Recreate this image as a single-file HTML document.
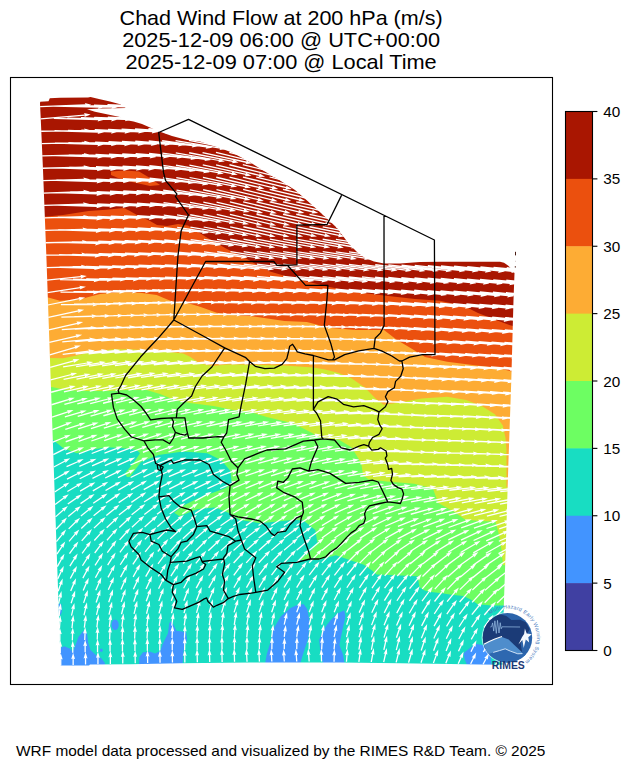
<!DOCTYPE html>
<html><head><meta charset="utf-8"><title>Chad Wind Flow at 200 hPa</title>
<style>html,body{margin:0;padding:0;background:#fff;}svg{display:block;}text{font-family:"Liberation Sans",sans-serif;}</style></head>
<body>
<svg width="629" height="769" viewBox="0 0 629 769" font-family="Liberation Sans, sans-serif" fill="#000">
<rect width="629" height="769" fill="#fff"/>
<defs><mask id="dom" maskUnits="userSpaceOnUse" x="0" y="0" width="629" height="769"><polygon points="40.0,103.5 40.2,101.8 48.5,101.2 49.8,98.2 60.0,97.7 88.0,97.4 90.5,97.0 100.0,99.2 110.0,101.6 121.0,104.4 126.0,107.9 115.0,108.3 100.0,108.6 87.0,109.2 95.0,111.8 108.0,114.6 122.2,117.6 114.0,118.7 124.0,119.8 133.6,121.4 142.0,124.0 150.0,127.4 158.0,131.0 172.0,136.0 187.0,140.0 200.0,141.5 217.0,147.0 232.0,152.5 248.0,161.0 264.0,171.0 280.0,180.5 295.0,190.0 311.0,204.0 327.0,218.5 337.0,228.0 343.0,236.0 349.0,244.0 357.0,252.0 365.0,258.0 374.0,261.5 384.0,263.5 400.0,263.5 420.0,262.0 440.0,261.7 470.0,261.8 500.0,261.7 504.0,262.8 508.0,265.5 512.0,269.5 514.5,273.0 513.5,300.0 511.3,380.0 508.5,460.0 506.0,540.0 504.0,600.0 502.7,650.0 502.5,664.8 480.0,664.6 450.0,664.1 400.0,663.3 340.0,662.6 250.0,662.6 180.0,663.2 130.0,664.2 90.0,664.4 89.0,665.4 60.7,665.4 57.0,560.0 53.5,460.0 50.0,360.0 46.5,260.0 43.0,170.0 40.8,120.0" fill="#fff"/></mask></defs>
<g mask="url(#dom)">
<rect x="0" y="0" width="629" height="769" fill="#18DDC2"/>
<polygon points="58.5,603.5 61.3,604.0 61.8,612.0 60.5,615.0 58.5,615.0" fill="#4294FF"/>
<polygon points="58.0,648.7 64.3,646.3 70.3,648.7 72.7,652.2 75.0,646.3 78.6,636.7 83.4,630.8 87.0,633.2 88.2,642.7 90.5,649.9 95.3,654.6 101.3,658.2 104.9,663.0 105.0,668.0 58.0,668.0" fill="#4294FF"/>
<polygon points="170.4,621.2 173.0,624.0 176.4,630.8 186.0,632.0 187.1,639.1 183.6,649.9 182.4,668.0 138.7,668.0 139.4,657.0 143.0,652.2 150.2,651.8 155.0,653.4 160.2,651.0 163.3,642.7 168.0,633.2 169.2,623.6" fill="#4294FF"/>
<polygon points="303.7,604.3 307.2,609.0 309.6,621.0 308.4,637.7 303.7,652.0 298.9,668.0 264.3,668.0 266.7,654.4 270.3,642.5 273.8,628.2 281.0,616.2 290.5,607.9 297.7,604.8" fill="#4294FF"/>
<polygon points="344.2,610.3 345.4,616.2 341.8,632.9 339.4,644.9 343.0,654.4 345.4,668.0 323.9,668.0 320.4,652.0 319.2,640.1 322.7,630.5 329.9,621.0 337.0,613.8" fill="#4294FF"/>
<polygon points="475.4,643.7 482.6,644.9 490.0,650.0 492.0,668.0 468.2,668.0 464.7,659.2 463.5,653.2 469.4,648.4" fill="#4294FF"/>
<ellipse cx="115.1" cy="624.8" rx="3.6" ry="5.2" fill="#4294FF"/>
<ellipse cx="101.3" cy="650.3" rx="1.4" ry="1.8" fill="#4294FF"/>
<polygon points="20.0,0.0 20.0,440.0 53.3,440.0 63.3,448.3 76.7,453.3 90.0,450.0 106.7,447.3 123.3,448.3 136.7,450.0 140.0,453.3 133.3,463.3 125.0,473.3 127.0,477.0 130.0,476.7 141.0,462.0 158.5,455.0 183.0,451.5 207.4,453.2 221.4,460.2 230.2,470.7 231.9,483.0 225.0,488.2 211.0,493.5 197.0,498.7 183.0,505.7 174.2,512.7 179.5,516.2 197.0,509.2 214.4,507.4 228.4,512.7 238.9,519.7 259.9,523.2 277.4,521.4 294.9,519.7 303.8,520.7 315.3,530.0 317.6,543.8 308.4,553.0 299.2,559.9 317.6,559.9 336.0,555.3 349.5,560.0 363.8,564.8 372.0,570.5 376.6,574.6 400.4,575.4 417.5,576.2 419.5,587.0 424.0,590.3 429.0,591.8 442.0,593.3 451.5,594.8 463.5,596.0 470.6,599.5 477.8,604.3 492.1,605.5 504.0,605.5 530.0,606.0 530.0,0.0" fill="#6DFE62"/>
<polygon points="20.0,0.0 20.0,387.0 51.7,387.0 66.7,390.0 86.7,391.0 106.7,391.0 126.7,390.0 146.7,390.0 160.0,394.0 173.3,399.5 190.0,403.0 213.3,406.0 233.3,410.0 249.7,411.7 266.7,417.0 293.4,423.6 311.2,432.5 322.0,439.0 339.0,439.7 351.8,447.6 361.3,463.5 363.0,475.0 368.3,479.2 386.8,481.5 414.4,483.8 432.9,488.4 438.2,502.9 455.3,512.4 464.9,519.5 480.0,521.0 495.4,521.5 499.2,535.3 501.5,550.0 503.0,565.0 530.0,566.0 530.0,0.0" fill="#CDEC34"/>
<polygon points="20.0,0.0 20.0,358.0 50.0,358.0 63.3,358.3 76.7,355.5 93.3,351.5 113.3,349.3 133.3,349.5 150.0,350.5 166.7,351.7 183.3,353.5 190.0,356.7 200.0,363.5 213.0,366.0 226.7,364.5 240.0,364.5 260.0,365.0 284.5,365.5 313.5,367.5 325.0,369.5 339.0,373.0 351.8,378.5 364.5,387.2 375.6,398.4 383.6,404.7 399.5,402.5 421.7,398.4 447.2,396.8 466.3,400.0 482.2,406.3 494.9,414.3 502.8,425.4 505.5,438.0 506.5,450.0 506.5,487.0 530.0,487.0 530.0,0.0" fill="#FDAC34"/>
<polygon points="20.0,0.0 20.0,297.0 47.3,297.3 60.0,300.7 80.0,299.3 100.0,294.0 120.0,292.0 140.0,292.7 156.7,295.0 166.7,299.3 173.3,301.7 186.7,302.7 200.0,306.7 216.7,312.7 233.3,315.0 250.0,316.0 284.5,321.0 306.8,322.0 329.0,327.8 355.8,330.0 384.0,330.0 396.3,339.5 412.2,349.0 425.0,357.0 447.2,361.8 472.6,365.0 498.0,368.0 511.0,371.3 530.0,372.0 530.0,0.0" fill="#EB500E"/>
<polygon points="20.0,0.0 20.0,217.0 44.0,216.7 63.0,215.0 88.5,211.0 106.0,209.8 124.0,208.0 129.0,210.6 137.0,215.0 150.0,221.0 157.0,225.0 167.0,226.0 178.0,224.0 188.0,225.6 206.0,237.0 226.0,248.5 247.0,259.0 259.0,266.0 270.0,271.4 287.0,276.5 300.0,279.7 328.0,286.7 356.0,292.0 384.0,295.5 415.0,299.0 440.0,300.7 464.0,306.0 478.0,313.0 496.0,320.0 510.0,325.2 530.0,330.0 530.0,0.0" fill="#A91601"/>
<polygon points="111.0,171.5 125.0,170.5 139.0,171.5 150.0,178.0 160.0,185.0 150.0,186.0 132.0,182.0 118.0,178.0 111.0,175.0" fill="#EB500E"/>
</g>
<path d="M515.5,251.8V255.8M515.3,266.2V267.6" stroke="#4a1c14" stroke-width="1" fill="none"/>
<path d="M515.5,257.8V258.6M515.5,260.8V261.6" stroke="#b9a5a2" stroke-width="0.8" fill="none"/>
<defs><clipPath id="ax"><rect x="10.5" y="77.5" width="542" height="607"/></clipPath></defs>
<path clip-path="url(#ax)" fill="#fff" d="M60.1,665.4L60.1,658.9L58.8,659.5L60.7,653.0L62.7,659.5L61.4,658.9L61.4,665.4ZM72.5,665.0L72.5,658.6L71.2,659.3L73.1,652.8L75.1,659.3L73.8,658.6L73.8,665.0ZM84.9,664.6L84.9,657.9L83.6,658.6L85.5,652.1L87.5,658.6L86.2,657.9L86.2,664.6ZM97.3,664.3L97.3,657.3L96.0,657.9L97.9,651.4L99.9,657.9L98.6,657.3L98.6,664.3ZM109.7,663.9L109.7,656.8L108.4,657.5L110.4,651.0L112.3,657.5L111.0,656.8L111.0,663.9ZM122.1,663.6L122.1,656.5L120.8,657.1L122.8,650.6L124.7,657.1L123.4,656.5L123.4,663.6ZM134.6,663.3L134.5,656.3L133.2,656.9L135.2,650.4L137.1,656.9L135.8,656.2L135.9,663.3ZM147.0,663.0L146.9,656.1L145.6,656.8L147.5,650.3L149.5,656.7L148.2,656.1L148.3,663.0ZM159.4,662.8L159.3,656.3L158.0,657.0L159.9,650.5L161.9,656.9L160.6,656.3L160.7,662.8ZM171.8,662.6L171.7,656.0L170.4,656.6L172.3,650.1L174.3,656.6L173.0,656.0L173.1,662.6ZM184.2,662.4L184.1,655.3L182.8,656.0L184.7,649.5L186.7,655.9L185.4,655.3L185.5,662.4ZM196.7,662.2L196.5,655.0L195.2,655.7L197.0,649.1L199.1,655.6L197.8,654.9L198.0,662.2ZM209.1,662.0L208.9,654.7L207.6,655.4L209.4,648.8L211.5,655.3L210.2,654.7L210.4,662.0ZM221.5,661.9L221.3,654.5L220.0,655.2L221.7,648.6L223.9,655.1L222.6,654.5L222.8,661.9ZM233.9,661.8L233.7,654.4L232.4,655.1L234.1,648.5L236.3,655.0L235.0,654.4L235.2,661.8ZM246.4,661.7L246.0,654.4L244.8,655.1L246.4,648.6L248.7,655.0L247.3,654.4L247.7,661.7ZM258.8,661.7L258.4,654.6L257.2,655.3L258.8,648.7L261.1,655.1L259.7,654.5L260.1,661.6ZM271.2,661.6L270.8,654.8L269.6,655.6L271.1,649.0L273.5,655.3L272.1,654.8L272.5,661.5ZM283.7,661.6L283.2,655.1L282.0,655.8L283.5,649.2L285.9,655.6L284.5,655.0L284.9,661.5ZM296.1,661.6L295.6,654.7L294.3,655.5L295.8,648.9L298.2,655.2L296.9,654.7L297.4,661.5ZM308.5,661.6L308.0,654.6L306.7,655.3L308.2,648.7L310.6,655.0L309.3,654.5L309.8,661.5ZM320.9,661.6L320.7,654.6L319.5,655.3L321.2,648.7L323.4,655.2L322.0,654.6L322.2,661.6ZM333.4,661.7L333.6,654.8L332.2,655.4L334.4,649.0L336.1,655.6L334.9,654.9L334.7,661.7ZM345.8,661.7L346.4,654.7L345.0,655.2L347.5,648.9L348.9,655.5L347.7,654.8L347.1,661.8ZM358.2,661.8L359.3,654.1L357.9,654.6L360.7,648.4L361.8,655.1L360.6,654.3L359.5,662.0ZM370.6,661.9L372.1,653.8L370.7,654.2L373.8,648.1L374.5,654.9L373.4,654.0L371.9,662.1ZM383.1,662.1L384.9,653.6L383.5,653.9L386.8,648.0L387.3,654.8L386.2,653.9L384.3,662.3ZM395.5,662.2L397.7,653.6L396.3,653.9L399.7,648.1L400.0,654.9L398.9,653.9L396.8,662.5ZM407.9,662.4L410.4,653.8L409.0,654.1L412.7,648.4L412.7,655.2L411.7,654.2L409.2,662.8ZM420.4,662.6L423.1,654.3L421.7,654.5L425.5,648.9L425.4,655.7L424.3,654.7L421.6,663.0ZM432.8,662.8L435.7,654.9L434.3,655.1L438.3,649.6L437.9,656.4L436.9,655.3L434.0,663.3ZM445.2,663.1L448.2,655.6L446.8,655.7L451.0,650.4L450.4,657.2L449.4,656.1L446.4,663.6ZM457.6,663.4L460.6,656.7L459.2,656.7L463.6,651.6L462.7,658.3L461.8,657.2L458.8,663.9ZM470.1,663.6L473.1,657.5L471.6,657.5L476.2,652.5L475.1,659.2L474.2,658.1L471.2,664.2ZM482.5,664.0L485.7,657.9L484.2,657.9L489.0,653.1L487.7,659.7L486.8,658.6L483.7,664.6ZM494.9,664.3L498.4,658.2L497.0,658.1L501.9,653.4L500.4,660.0L499.6,658.8L496.1,665.0ZM59.6,653.1L59.6,646.3L58.3,647.0L60.3,640.5L62.2,647.0L60.9,646.3L60.9,653.1ZM72.1,652.7L72.1,646.6L70.8,647.2L72.7,640.7L74.7,647.2L73.4,646.6L73.4,652.7ZM84.5,652.3L84.5,645.5L83.2,646.2L85.2,639.7L87.1,646.2L85.8,645.5L85.8,652.3ZM96.9,651.9L96.9,644.9L95.6,645.5L97.6,639.0L99.5,645.5L98.2,644.9L98.2,651.9ZM109.4,651.6L109.4,644.5L108.1,645.1L110.0,638.6L112.0,645.1L110.7,644.5L110.7,651.6ZM121.8,651.3L121.8,644.1L120.5,644.8L122.5,638.3L124.4,644.8L123.1,644.1L123.1,651.3ZM134.3,651.0L134.3,643.9L133.0,644.5L134.9,638.0L136.9,644.5L135.6,643.9L135.6,651.0ZM146.7,650.7L146.7,643.7L145.4,644.3L147.4,637.8L149.3,644.3L148.0,643.7L148.0,650.7ZM159.1,650.5L159.2,643.5L157.9,644.1L159.9,637.6L161.8,644.1L160.5,643.5L160.4,650.5ZM171.6,650.2L171.6,643.5L170.3,644.2L172.3,637.7L174.2,644.2L172.9,643.6L172.9,650.3ZM184.0,650.0L184.1,643.0L182.8,643.6L184.7,637.1L186.7,643.6L185.4,643.0L185.3,650.0ZM196.5,649.9L196.5,642.6L195.2,643.3L197.1,636.8L199.1,643.3L197.8,642.6L197.8,649.9ZM208.9,649.7L208.9,642.3L207.6,643.0L209.5,636.5L211.5,643.0L210.2,642.3L210.2,649.7ZM221.4,649.6L221.3,642.1L220.0,642.8L221.9,636.3L223.9,642.8L222.6,642.1L222.7,649.6ZM233.8,649.5L233.8,642.0L232.5,642.7L234.5,636.2L236.4,642.7L235.1,642.0L235.1,649.5ZM246.3,649.4L246.3,642.0L245.0,642.7L247.0,636.2L248.9,642.7L247.6,642.0L247.6,649.4ZM258.7,649.3L258.8,642.1L257.5,642.8L259.5,636.3L261.4,642.8L260.1,642.2L260.0,649.3ZM271.2,649.3L271.3,642.5L270.0,643.1L272.0,636.7L273.9,643.2L272.6,642.5L272.5,649.3ZM283.6,649.2L283.7,643.4L282.4,644.0L284.5,637.6L286.3,644.1L285.0,643.4L284.9,649.3ZM296.1,649.2L296.2,642.6L294.9,643.2L297.0,636.7L298.8,643.3L297.5,642.6L297.4,649.3ZM308.5,649.3L308.7,642.2L307.4,642.8L309.6,636.4L311.3,642.9L310.0,642.2L309.8,649.3ZM321.0,649.3L321.4,642.3L320.1,642.9L322.4,636.5L324.0,643.2L322.7,642.4L322.3,649.4ZM333.4,649.3L334.0,643.1L332.7,643.6L335.2,637.4L336.5,644.0L335.3,643.3L334.7,649.5ZM345.9,649.4L346.8,642.2L345.4,642.7L348.2,636.5L349.3,643.2L348.1,642.4L347.1,649.6ZM358.3,649.5L359.6,641.8L358.2,642.2L361.2,636.1L362.1,642.8L360.9,642.0L359.6,649.7ZM370.8,649.6L372.4,641.4L371.0,641.8L374.2,635.8L374.8,642.5L373.7,641.6L372.0,649.9ZM383.2,649.7L385.1,641.2L383.7,641.6L387.1,635.6L387.5,642.4L386.4,641.5L384.5,650.0ZM395.7,649.9L397.9,641.2L396.4,641.5L399.9,635.7L400.2,642.5L399.1,641.5L396.9,650.2ZM408.1,650.1L410.6,641.4L409.2,641.7L412.9,636.0L412.9,642.7L411.9,641.8L409.4,650.5ZM420.6,650.3L423.3,641.9L421.9,642.1L425.8,636.5L425.6,643.3L424.6,642.3L421.8,650.7ZM433.0,650.5L435.9,642.6L434.5,642.7L438.6,637.3L438.2,644.1L437.2,643.0L434.2,651.0ZM445.5,650.8L448.6,643.1L447.2,643.2L451.4,637.9L450.8,644.7L449.8,643.6L446.7,651.3ZM457.9,651.1L460.9,644.4L459.5,644.4L463.9,639.3L463.0,646.0L462.1,644.9L459.1,651.6ZM470.4,651.4L473.4,645.3L471.9,645.3L476.5,640.3L475.4,647.0L474.5,645.9L471.5,651.9ZM482.8,651.7L486.1,645.7L484.6,645.6L489.4,640.8L488.0,647.5L487.2,646.3L484.0,652.3ZM495.3,652.0L499.0,645.8L497.5,645.7L502.5,641.1L500.9,647.6L500.1,646.4L496.4,652.7ZM59.2,640.8L59.2,633.7L57.9,634.3L59.9,627.8L61.8,634.3L60.5,633.7L60.5,640.8ZM71.7,640.3L71.9,633.3L70.6,633.9L72.8,627.5L74.5,634.0L73.2,633.3L73.0,640.4ZM84.1,639.9L84.4,632.9L83.0,633.5L85.2,627.1L86.9,633.7L85.7,633.0L85.4,640.0ZM96.6,639.6L96.9,632.4L95.5,633.0L97.7,626.6L99.4,633.2L98.1,632.5L97.9,639.6ZM109.0,639.2L109.3,632.0L108.0,632.6L110.2,626.2L111.9,632.7L110.6,632.0L110.3,639.3ZM121.5,638.9L121.8,631.6L120.5,632.2L122.7,625.8L124.4,632.4L123.1,631.7L122.8,639.0ZM134.0,638.6L134.3,631.4L133.0,631.9L135.2,625.5L136.9,632.1L135.6,631.4L135.3,638.7ZM146.4,638.4L146.8,631.2L145.4,631.7L147.7,625.3L149.3,631.9L148.1,631.2L147.7,638.4ZM158.9,638.1L159.2,631.0L157.9,631.6L160.2,625.2L161.8,631.8L160.5,631.1L160.2,638.2ZM171.4,637.9L171.7,630.9L170.4,631.5L172.6,625.1L174.3,631.7L173.0,631.0L172.7,638.0ZM183.8,637.7L184.2,630.6L182.9,631.2L185.1,624.8L186.7,631.4L185.5,630.7L185.1,637.8ZM196.3,637.5L196.7,630.2L195.3,630.8L197.6,624.4L199.2,631.0L198.0,630.3L197.6,637.6ZM208.8,637.3L209.2,629.9L207.8,630.4L210.1,624.1L211.7,630.6L210.5,629.9L210.1,637.4ZM221.2,637.2L221.7,629.6L220.3,630.2L222.6,623.8L224.2,630.4L223.0,629.7L222.5,637.3ZM233.7,637.1L234.2,629.5L232.9,630.1L235.3,623.8L236.8,630.4L235.5,629.6L235.0,637.2ZM246.2,637.0L246.8,629.5L245.5,630.1L248.0,623.8L249.4,630.4L248.1,629.7L247.5,637.1ZM258.6,636.9L259.4,629.7L258.0,630.2L260.6,623.9L261.9,630.6L260.7,629.8L259.9,637.1ZM271.1,636.9L271.9,630.0L270.6,630.5L273.3,624.2L274.4,630.9L273.2,630.1L272.4,637.0ZM283.6,636.8L284.4,630.8L283.0,631.2L285.8,625.0L286.9,631.7L285.7,630.9L284.9,637.0ZM296.1,636.8L297.0,630.3L295.7,630.7L298.6,624.6L299.5,631.3L298.3,630.4L297.3,637.0ZM308.5,636.8L309.7,629.9L308.3,630.3L311.3,624.2L312.1,631.0L311.0,630.1L309.8,637.1ZM321.0,636.9L322.3,630.0L320.9,630.4L324.0,624.4L324.7,631.1L323.6,630.2L322.3,637.1ZM333.5,636.9L334.9,630.2L333.5,630.5L336.7,624.6L337.3,631.3L336.1,630.4L334.7,637.2ZM345.9,637.0L347.6,629.9L346.2,630.2L349.5,624.3L350.0,631.1L348.8,630.2L347.2,637.3ZM358.4,637.1L360.4,629.4L358.9,629.7L362.4,623.8L362.7,630.6L361.6,629.7L359.7,637.4ZM370.9,637.2L373.2,629.0L371.8,629.2L375.4,623.5L375.5,630.3L374.4,629.3L372.1,637.6ZM383.4,637.4L386.0,628.8L384.6,629.0L388.3,623.4L388.3,630.2L387.2,629.2L384.6,637.8ZM395.8,637.6L398.7,628.8L397.3,629.0L401.2,623.5L401.0,630.3L400.0,629.3L397.1,638.0ZM408.3,637.7L411.6,628.9L410.1,629.1L414.2,623.7L413.8,630.4L412.8,629.4L409.5,638.2ZM420.8,638.0L424.4,629.2L422.9,629.3L427.2,624.0L426.5,630.8L425.6,629.7L422.0,638.4ZM433.3,638.2L437.1,629.7L435.6,629.7L440.1,624.6L439.2,631.3L438.3,630.2L434.4,638.7ZM445.7,638.4L449.7,630.3L448.3,630.3L452.9,625.3L451.8,632.0L450.9,630.8L446.9,639.0ZM458.2,638.7L462.2,631.2L460.8,631.1L465.5,626.3L464.2,632.9L463.4,631.8L459.3,639.3ZM470.7,639.0L474.5,632.4L473.0,632.3L478.0,627.7L476.4,634.3L475.6,633.1L471.8,639.7ZM483.1,639.3L487.2,632.8L485.8,632.6L490.9,628.1L489.1,634.7L488.3,633.5L484.2,640.0ZM495.6,639.7L500.2,632.8L498.8,632.6L504.0,628.3L502.0,634.7L501.3,633.5L496.7,640.4ZM58.8,628.4L59.3,621.3L57.9,621.9L60.3,615.5L61.8,622.1L60.6,621.4L60.1,628.5ZM71.3,627.9L72.1,620.9L70.7,621.4L73.4,615.1L74.6,621.8L73.4,621.0L72.6,628.1ZM83.7,627.5L84.6,620.5L83.2,621.0L86.0,614.8L87.1,621.4L85.9,620.6L85.0,627.7ZM96.2,627.2L97.1,619.9L95.8,620.4L98.5,614.2L99.6,620.9L98.4,620.1L97.5,627.3ZM108.7,626.8L109.6,619.5L108.3,619.9L111.0,613.7L112.1,620.4L110.9,619.6L110.0,627.0ZM121.2,626.5L122.2,619.1L120.8,619.6L123.5,613.4L124.6,620.1L123.4,619.3L122.5,626.7ZM133.7,626.2L134.7,618.8L133.3,619.3L136.1,613.1L137.1,619.8L135.9,619.0L135.0,626.4ZM146.2,626.0L147.1,618.6L145.8,619.1L148.6,612.9L149.6,619.6L148.4,618.8L147.5,626.1ZM158.6,625.7L159.6,618.5L158.2,619.0L161.0,612.8L162.1,619.5L160.9,618.7L159.9,625.9ZM171.1,625.5L172.1,618.5L170.7,619.0L173.5,612.8L174.6,619.5L173.4,618.7L172.4,625.7ZM183.6,625.3L184.6,618.1L183.2,618.5L186.1,612.4L187.1,619.1L185.9,618.3L184.9,625.5ZM196.1,625.1L197.2,617.6L195.8,618.1L198.6,611.9L199.6,618.6L198.4,617.8L197.4,625.3ZM208.6,625.0L209.7,617.3L208.3,617.8L211.1,611.6L212.2,618.3L211.0,617.5L209.9,625.1ZM221.1,624.8L222.2,617.1L220.8,617.6L223.7,611.4L224.7,618.2L223.5,617.3L222.4,625.0ZM233.6,624.7L234.8,617.0L233.5,617.4L236.4,611.3L237.3,618.1L236.1,617.2L234.9,624.9ZM246.1,624.6L247.5,617.0L246.1,617.4L249.1,611.4L249.9,618.1L248.7,617.2L247.4,624.8ZM258.6,624.5L260.0,617.2L258.6,617.6L261.8,611.6L262.5,618.3L261.3,617.4L259.8,624.8ZM271.1,624.5L272.6,617.6L271.2,617.9L274.4,612.0L275.0,618.8L273.8,617.8L272.3,624.7ZM283.6,624.4L285.1,617.8L283.7,618.1L287.1,612.2L287.5,619.0L286.4,618.1L284.8,624.7ZM296.1,624.4L297.7,617.8L296.3,618.1L299.8,612.2L300.1,619.0L299.0,618.1L297.3,624.7ZM308.5,624.4L310.4,617.6L309.0,617.9L312.5,612.2L312.7,618.9L311.6,618.0L309.8,624.8ZM321.0,624.5L323.0,617.7L321.6,618.0L325.2,612.3L325.3,619.0L324.3,618.1L322.3,624.8ZM333.5,624.5L335.6,617.8L334.2,618.1L337.9,612.4L337.9,619.2L336.8,618.2L334.8,624.9ZM346.0,624.6L348.3,617.7L346.8,617.9L350.7,612.3L350.6,619.1L349.5,618.1L347.3,625.0ZM358.5,624.7L361.2,616.9L359.8,617.1L363.7,611.6L363.5,618.4L362.4,617.3L359.8,625.2ZM371.0,624.9L374.2,616.4L372.7,616.6L376.8,611.2L376.4,617.9L375.4,616.9L372.2,625.3ZM383.5,625.0L387.1,616.2L385.6,616.3L389.8,611.0L389.2,617.8L388.3,616.7L384.7,625.5ZM396.0,625.2L399.9,616.3L398.4,616.4L402.8,611.2L402.0,617.9L401.1,616.8L397.2,625.7ZM408.5,625.4L412.8,616.3L411.3,616.3L415.9,611.3L414.9,618.0L414.0,616.9L409.7,625.9ZM421.0,625.6L425.7,616.4L424.2,616.4L428.9,611.5L427.7,618.2L426.9,617.0L422.2,626.2ZM433.5,625.8L438.5,616.8L437.1,616.7L441.9,612.0L440.5,618.6L439.7,617.4L434.6,626.4ZM446.0,626.1L451.3,617.3L449.8,617.2L454.9,612.6L453.2,619.2L452.4,618.0L447.1,626.7ZM458.5,626.4L464.0,617.9L462.5,617.8L467.7,613.4L465.8,619.9L465.1,618.6L459.6,627.1ZM471.0,626.7L476.6,618.6L475.2,618.3L480.5,614.1L478.4,620.6L477.7,619.3L472.1,627.4ZM483.5,627.0L489.4,619.0L488.0,618.8L493.5,614.7L491.1,621.1L490.5,619.8L484.5,627.8ZM496.0,627.3L502.3,619.4L500.9,619.1L506.5,615.3L503.9,621.6L503.3,620.2L497.0,628.1ZM58.4,616.0L59.3,609.0L58.0,609.5L60.8,603.3L61.8,610.0L60.6,609.2L59.7,616.2ZM70.9,615.5L72.5,608.4L71.0,608.8L74.4,602.9L74.8,609.6L73.7,608.7L72.1,615.8ZM83.4,615.1L85.0,607.9L83.6,608.2L87.0,602.3L87.4,609.1L86.3,608.2L84.6,615.4ZM95.9,614.8L97.6,607.4L96.2,607.7L99.6,601.8L100.0,608.6L98.9,607.7L97.1,615.1ZM108.4,614.4L110.2,607.0L108.7,607.3L112.1,601.4L112.5,608.2L111.4,607.3L109.6,614.7ZM120.9,614.1L122.7,606.6L121.3,606.9L124.7,601.1L125.1,607.8L124.0,606.9L122.2,614.4ZM133.4,613.8L135.3,606.3L133.8,606.6L137.3,600.7L137.6,607.5L136.5,606.6L134.7,614.1ZM145.9,613.5L147.8,606.0L146.4,606.3L149.8,600.5L150.2,607.3L149.0,606.3L147.2,613.9ZM158.4,613.3L160.3,605.8L158.9,606.2L162.4,600.3L162.7,607.1L161.6,606.2L159.7,613.6ZM170.9,613.1L172.8,605.7L171.4,606.0L174.9,600.2L175.1,607.0L174.0,606.0L172.2,613.4ZM183.4,612.9L185.4,605.3L184.0,605.6L187.5,599.8L187.8,606.6L186.7,605.6L184.7,613.2ZM195.9,612.7L198.1,604.9L196.6,605.2L200.2,599.5L200.4,606.2L199.3,605.3L197.2,613.0ZM208.5,612.5L210.7,604.7L209.2,605.0L212.9,599.2L213.0,606.0L211.9,605.0L209.7,612.9ZM221.0,612.4L223.3,604.6L221.8,604.8L225.5,599.1L225.6,605.9L224.5,604.9L222.2,612.7ZM233.5,612.3L235.9,604.5L234.4,604.7L238.2,599.0L238.2,605.8L237.1,604.8L234.7,612.6ZM246.0,612.2L248.5,604.5L247.0,604.7L250.9,599.1L250.7,605.9L249.7,604.9L247.2,612.6ZM258.5,612.1L261.0,604.6L259.6,604.8L263.5,599.3L263.3,606.0L262.2,605.0L259.7,612.5ZM271.0,612.0L273.5,604.9L272.0,605.1L276.0,599.6L275.7,606.4L274.7,605.3L272.3,612.5ZM283.5,612.0L285.9,605.4L284.5,605.6L288.5,600.1L288.1,606.9L287.1,605.8L284.8,612.5ZM296.1,612.0L298.5,605.4L297.0,605.6L301.1,600.2L300.7,607.0L299.7,605.9L297.3,612.5ZM308.6,612.0L311.1,605.4L309.7,605.5L313.8,600.2L313.3,606.9L312.3,605.9L309.8,612.5ZM321.1,612.1L323.8,605.1L322.4,605.3L326.6,600.0L326.0,606.7L325.1,605.6L322.3,612.6ZM333.6,612.1L336.3,605.6L334.8,605.7L339.1,600.5L338.5,607.2L337.5,606.1L334.8,612.6ZM346.1,612.2L349.0,605.6L347.5,605.7L351.9,600.5L351.1,607.2L350.1,606.1L347.3,612.7ZM358.6,612.3L362.2,604.3L360.8,604.3L365.2,599.2L364.3,605.9L363.4,604.8L359.8,612.9ZM371.2,612.5L375.3,603.7L373.9,603.7L378.4,598.7L377.4,605.4L376.5,604.3L372.3,613.0ZM383.7,612.6L388.3,603.5L386.9,603.5L391.5,598.5L390.3,605.2L389.5,604.1L384.8,613.2ZM396.2,612.8L401.3,603.4L399.8,603.4L404.6,598.6L403.2,605.2L402.4,604.0L397.3,613.4ZM408.7,613.0L414.2,603.5L412.8,603.4L417.7,598.7L416.1,605.3L415.3,604.1L409.8,613.6ZM421.2,613.2L427.2,603.6L425.7,603.5L430.8,599.0L429.0,605.6L428.3,604.3L422.3,613.9ZM433.8,613.4L440.1,603.9L438.6,603.7L443.9,599.4L441.9,605.9L441.2,604.6L434.8,614.2ZM446.3,613.7L452.9,604.3L451.5,604.1L456.9,599.9L454.7,606.4L454.0,605.1L447.3,614.5ZM458.8,614.0L465.8,604.8L464.4,604.5L469.8,600.5L467.5,606.8L466.8,605.5L459.8,614.8ZM471.3,614.3L478.7,605.1L477.3,604.8L482.9,601.0L480.3,607.3L479.7,605.9L472.3,615.1ZM483.8,614.6L491.6,605.6L490.2,605.2L496.0,601.6L493.2,607.7L492.6,606.4L484.8,615.5ZM496.3,615.0L504.5,606.1L503.1,605.7L508.9,602.2L506.0,608.3L505.4,607.0L497.3,615.9ZM57.9,603.5L59.6,596.7L58.1,597.0L61.5,591.1L61.9,597.9L60.8,597.0L59.2,603.8ZM70.5,603.1L72.8,596.0L71.4,596.2L75.2,590.6L75.1,597.4L74.0,596.4L71.7,603.5ZM83.0,602.7L85.4,595.4L84.0,595.6L87.9,590.0L87.7,596.8L86.7,595.8L84.2,603.1ZM95.5,602.3L98.0,594.9L96.6,595.1L100.5,589.5L100.3,596.3L99.3,595.3L96.8,602.8ZM108.1,602.0L110.6,594.5L109.2,594.7L113.1,589.2L112.9,595.9L111.9,594.9L109.3,602.4ZM120.6,601.7L123.2,594.2L121.7,594.4L125.7,588.9L125.4,595.7L124.4,594.6L121.8,602.1ZM133.1,601.4L135.8,593.7L134.4,593.9L138.4,588.4L138.1,595.2L137.0,594.2L134.3,601.8ZM145.6,601.1L148.4,593.4L147.0,593.6L151.0,588.1L150.7,594.9L149.7,593.8L146.9,601.6ZM158.2,600.9L161.0,593.1L159.6,593.3L163.7,587.9L163.3,594.6L162.3,593.6L159.4,601.3ZM170.7,600.6L173.7,592.9L172.2,593.0L176.3,587.6L175.9,594.4L174.9,593.3L171.9,601.1ZM183.2,600.4L186.3,592.6L184.9,592.7L189.1,587.4L188.5,594.1L187.5,593.0L184.5,600.9ZM195.8,600.2L199.0,592.3L197.5,592.4L201.8,587.1L201.2,593.9L200.2,592.8L197.0,600.7ZM208.3,600.1L211.7,592.1L210.2,592.2L214.5,586.9L213.8,593.7L212.9,592.6L209.5,600.6ZM220.9,599.9L224.3,591.9L222.8,592.0L227.2,586.8L226.4,593.6L225.5,592.5L222.0,600.5ZM233.4,599.8L236.9,591.9L235.4,592.0L239.8,586.8L239.0,593.6L238.1,592.4L234.6,600.3ZM245.9,599.7L249.4,592.0L248.0,592.0L252.4,586.9L251.5,593.6L250.6,592.5L247.1,600.3ZM258.5,599.7L262.0,592.0L260.5,592.1L265.0,587.0L264.1,593.7L263.2,592.5L259.6,600.2ZM271.0,599.6L274.5,592.1L273.1,592.1L277.6,587.1L276.6,593.8L275.7,592.7L272.2,600.2ZM283.5,599.6L287.0,592.4L285.5,592.5L290.1,587.4L289.0,594.1L288.1,593.0L284.7,600.2ZM296.1,599.6L299.3,592.9L297.9,592.9L302.5,587.9L301.4,594.6L300.5,593.4L297.2,600.2ZM308.6,599.6L312.2,592.4L310.7,592.4L315.3,587.5L314.2,594.2L313.3,593.0L309.8,600.2ZM321.1,599.7L325.0,592.1L323.6,592.1L328.2,587.2L327.0,593.8L326.2,592.7L322.3,600.3ZM333.7,599.7L337.7,592.1L336.2,592.1L341.0,587.2L339.7,593.9L338.8,592.7L334.8,600.3ZM346.2,599.8L350.5,591.9L349.0,591.9L353.8,587.1L352.5,593.7L351.6,592.5L347.4,600.4ZM358.8,599.9L363.5,591.3L362.1,591.2L366.9,586.5L365.5,593.1L364.7,591.9L359.9,600.6ZM371.3,600.1L376.7,590.9L375.2,590.8L380.2,586.1L378.6,592.7L377.8,591.5L372.4,600.7ZM383.8,600.2L389.8,590.7L388.3,590.6L393.4,586.1L391.6,592.6L390.9,591.4L385.0,600.9ZM396.4,600.4L402.8,590.7L401.3,590.5L406.5,586.2L404.6,592.7L403.8,591.4L397.5,601.1ZM408.9,600.6L415.8,590.8L414.3,590.5L419.7,586.3L417.5,592.8L416.9,591.5L410.0,601.3ZM421.5,600.8L428.8,590.9L427.4,590.6L432.8,586.5L430.5,592.9L429.9,591.6L422.5,601.6ZM434.0,601.1L441.8,591.1L440.4,590.8L445.9,586.9L443.4,593.2L442.8,591.9L435.0,601.9ZM446.6,601.3L454.7,591.5L453.3,591.1L458.9,587.4L456.3,593.6L455.7,592.3L447.6,602.1ZM459.1,601.6L467.7,591.9L466.2,591.5L472.0,587.9L469.2,594.1L468.6,592.7L460.1,602.5ZM471.6,601.9L480.8,592.0L479.4,591.6L485.2,588.2L482.3,594.3L481.7,592.9L472.6,602.8ZM484.2,602.3L493.7,592.5L492.3,592.1L498.3,588.8L495.1,594.8L494.6,593.4L485.1,603.2ZM496.7,602.6L506.5,593.2L505.1,592.7L511.2,589.6L507.8,595.5L507.4,594.1L497.6,603.5ZM57.5,591.1L60.1,583.8L58.7,583.9L62.7,578.4L62.4,585.2L61.3,584.2L58.8,591.5ZM70.1,590.7L73.2,583.3L71.7,583.4L76.1,578.2L75.3,585.0L74.4,583.9L71.3,591.2ZM82.6,590.3L85.8,582.8L84.4,582.9L88.8,577.7L88.0,584.4L87.0,583.3L83.8,590.8ZM95.2,589.9L98.5,582.4L97.0,582.4L101.4,577.3L100.6,584.0L99.7,582.9L96.4,590.4ZM107.7,589.6L111.1,582.0L109.6,582.0L114.1,576.9L113.2,583.6L112.3,582.5L108.9,590.1ZM120.3,589.2L123.7,581.6L122.3,581.7L126.7,576.5L125.8,583.2L124.9,582.1L121.5,589.8ZM132.8,589.0L136.4,581.2L134.9,581.2L139.4,576.1L138.5,582.9L137.6,581.7L134.0,589.5ZM145.4,588.7L149.1,580.8L147.7,580.9L152.2,575.8L151.2,582.5L150.3,581.4L146.6,589.2ZM158.0,588.4L161.9,580.5L160.4,580.5L165.0,575.6L163.9,582.3L163.0,581.1L159.1,589.0ZM170.5,588.2L174.6,580.2L173.1,580.2L177.8,575.3L176.6,582.0L175.8,580.8L171.7,588.8ZM183.1,588.0L187.3,580.0L185.9,579.9L190.6,575.1L189.3,581.8L188.5,580.6L184.2,588.6ZM195.6,587.8L200.0,579.7L198.6,579.7L203.4,574.9L202.0,581.6L201.2,580.4L196.8,588.4ZM208.2,587.6L212.7,579.6L211.3,579.5L216.1,574.8L214.7,581.4L213.8,580.2L209.3,588.3ZM220.7,587.5L225.4,579.4L223.9,579.3L228.8,574.7L227.3,581.3L226.5,580.1L221.9,588.1ZM233.3,587.4L237.9,579.4L236.5,579.3L241.4,574.7L239.9,581.3L239.1,580.0L234.4,588.0ZM245.9,587.3L250.4,579.5L249.0,579.4L253.9,574.8L252.3,581.4L251.5,580.2L247.0,588.0ZM258.4,587.2L263.1,579.4L261.6,579.3L266.6,574.7L265.0,581.3L264.2,580.0L259.5,587.9ZM271.0,587.2L275.7,579.2L274.3,579.1L279.3,574.6L277.6,581.1L276.9,579.9L272.1,587.9ZM283.5,587.2L288.4,579.2L286.9,579.1L291.9,574.6L290.2,581.1L289.5,579.9L284.6,587.8ZM296.1,587.2L301.0,579.2L299.5,579.0L304.6,574.5L302.9,581.1L302.1,579.9L297.2,587.9ZM308.6,587.2L313.7,579.0L312.3,578.9L317.4,574.4L315.6,580.9L314.8,579.7L309.8,587.9ZM321.2,587.2L326.5,578.8L325.1,578.7L330.2,574.2L328.4,580.8L327.6,579.5L322.3,587.9ZM333.8,587.3L339.3,578.7L337.9,578.6L343.0,574.2L341.1,580.7L340.4,579.4L334.9,588.0ZM346.3,587.4L352.2,578.5L350.7,578.4L355.9,574.0L354.0,580.5L353.2,579.2L347.4,588.1ZM358.9,587.5L365.1,578.2L363.7,578.0L368.9,573.7L366.9,580.2L366.2,578.9L360.0,588.2ZM371.5,587.7L378.3,578.0L376.9,577.8L382.2,573.6L380.0,580.0L379.3,578.7L372.5,588.4ZM384.0,587.8L391.4,578.0L389.9,577.7L395.4,573.7L393.1,580.1L392.4,578.8L385.1,588.6ZM396.6,588.0L404.4,578.1L402.9,577.8L408.5,573.9L406.0,580.2L405.4,578.9L397.6,588.8ZM409.1,588.2L417.4,578.2L416.0,577.9L421.6,574.1L419.0,580.4L418.4,579.1L410.1,589.0ZM421.7,588.4L430.6,578.2L429.2,577.9L434.9,574.3L432.1,580.4L431.6,579.1L422.7,589.3ZM434.3,588.7L443.4,578.7L442.0,578.3L447.9,574.8L444.9,580.9L444.4,579.5L435.2,589.5ZM446.8,588.9L456.4,579.0L455.0,578.6L460.9,575.3L457.8,581.3L457.3,579.9L447.8,589.8ZM459.4,589.2L469.4,579.4L468.0,578.9L474.0,575.7L470.7,581.7L470.3,580.3L460.3,590.1ZM472.0,589.5L482.5,579.6L481.1,579.1L487.2,576.1L483.8,582.0L483.4,580.6L472.8,590.5ZM484.5,589.9L495.6,579.9L494.3,579.4L500.4,576.5L496.9,582.3L496.5,580.9L485.4,590.8ZM497.1,590.2L508.6,580.4L507.3,579.9L513.5,577.1L509.8,582.8L509.4,581.4L497.9,591.2ZM57.1,578.7L60.7,571.0L59.3,571.1L63.8,566.0L62.8,572.7L61.9,571.6L58.3,579.2ZM69.7,578.2L73.7,570.7L72.2,570.7L77.0,565.9L75.7,572.5L74.8,571.4L70.9,578.8ZM82.3,577.8L86.3,570.3L84.8,570.3L89.6,565.4L88.3,572.1L87.4,570.9L83.4,578.4ZM94.8,577.5L98.9,569.9L97.5,569.8L102.3,565.0L100.9,571.7L100.1,570.5L96.0,578.1ZM107.4,577.1L111.6,569.5L110.1,569.4L115.0,564.7L113.6,571.3L112.7,570.1L108.6,577.8ZM120.0,576.8L124.2,569.1L122.8,569.1L127.6,564.3L126.2,570.9L125.4,569.7L121.1,577.4ZM132.6,576.5L137.0,568.7L135.5,568.6L140.4,563.9L138.9,570.5L138.1,569.3L133.7,577.2ZM145.1,576.2L149.8,568.3L148.4,568.2L153.4,563.6L151.7,570.2L150.9,569.0L146.3,576.9ZM157.7,576.0L162.7,568.0L161.2,567.9L166.3,563.4L164.5,569.9L163.8,568.7L158.8,576.7ZM170.3,575.7L175.5,567.7L174.1,567.6L179.2,563.2L177.3,569.7L176.6,568.5L171.4,576.5ZM182.9,575.5L188.3,567.5L186.9,567.3L192.1,563.0L190.1,569.5L189.4,568.2L184.0,576.3ZM195.5,575.3L201.1,567.3L199.6,567.1L204.9,562.8L202.8,569.3L202.1,568.0L196.5,576.1ZM208.1,575.2L213.8,567.1L212.4,566.9L217.7,562.7L215.5,569.2L214.9,567.9L209.1,575.9ZM220.6,575.1L226.5,567.0L225.1,566.8L230.5,562.7L228.2,569.1L227.6,567.8L221.7,575.8ZM233.2,574.9L239.1,566.9L237.7,566.6L243.1,562.6L240.8,569.0L240.2,567.7L234.3,575.7ZM245.8,574.9L251.8,566.8L250.3,566.6L255.8,562.5L253.5,568.9L252.8,567.6L246.8,575.6ZM258.4,574.8L264.4,566.7L263.0,566.4L268.4,562.4L266.1,568.8L265.5,567.5L259.4,575.6ZM271.0,574.8L277.2,566.5L275.7,566.2L281.2,562.2L278.8,568.6L278.2,567.3L272.0,575.5ZM283.5,574.7L289.9,566.3L288.5,566.0L294.0,562.0L291.6,568.4L291.0,567.0L284.6,575.5ZM296.1,574.7L302.8,566.0L301.3,565.7L306.8,561.7L304.4,568.1L303.8,566.8L297.1,575.5ZM308.7,574.8L315.6,565.8L314.1,565.5L319.6,561.5L317.2,567.9L316.6,566.6L309.7,575.6ZM321.3,574.8L328.3,565.8L326.9,565.5L332.4,561.5L330.0,567.9L329.3,566.6L322.3,575.6ZM333.9,574.9L341.1,565.7L339.7,565.4L345.2,561.5L342.7,567.9L342.1,566.5L334.9,575.7ZM346.4,575.0L354.0,565.6L352.5,565.3L358.1,561.5L355.6,567.7L355.0,566.4L347.5,575.8ZM359.0,575.1L366.9,565.4L365.5,565.1L371.1,561.3L368.5,567.6L367.9,566.2L360.0,575.9ZM371.6,575.2L380.2,565.2L378.8,564.9L384.5,561.2L381.7,567.4L381.2,566.1L372.6,576.1ZM384.2,575.4L393.3,565.4L391.9,565.0L397.7,561.5L394.7,567.6L394.2,566.3L385.2,576.3ZM396.8,575.6L406.1,565.8L404.7,565.4L410.6,562.0L407.5,568.1L407.0,566.7L397.7,576.5ZM409.4,575.8L418.9,566.2L417.5,565.8L423.5,562.5L420.3,568.5L419.8,567.1L410.3,576.7ZM422.0,576.0L432.0,566.3L430.7,565.8L436.7,562.7L433.4,568.6L432.9,567.2L422.9,576.9ZM434.5,576.3L445.2,566.4L443.8,565.9L449.9,562.9L446.4,568.8L446.0,567.4L435.4,577.2ZM447.1,576.5L458.2,566.7L456.9,566.1L463.0,563.3L459.4,569.1L459.1,567.7L448.0,577.5ZM459.7,576.8L471.3,567.0L470.0,566.4L476.2,563.7L472.5,569.4L472.1,567.9L460.5,577.8ZM472.3,577.1L484.5,567.2L483.2,566.6L489.4,564.0L485.6,569.6L485.3,568.2L473.1,578.2ZM484.9,577.5L497.7,567.4L496.4,566.8L502.7,564.3L498.8,569.9L498.5,568.5L485.7,578.5ZM497.4,577.9L511.0,567.7L509.7,567.1L516.0,564.7L512.0,570.2L511.7,568.8L498.2,578.9ZM56.7,566.2L61.1,558.5L59.6,558.4L64.5,553.7L63.0,560.3L62.2,559.1L57.9,566.9ZM69.3,565.8L74.0,558.2L72.6,558.1L77.7,553.6L75.9,560.1L75.1,558.9L70.4,566.5ZM81.9,565.4L86.7,557.8L85.3,557.7L90.4,553.2L88.6,559.7L87.8,558.5L83.0,566.1ZM94.5,565.0L99.4,557.4L97.9,557.3L103.1,552.8L101.2,559.4L100.5,558.1L95.6,565.7ZM107.1,564.7L112.0,557.1L110.6,556.9L115.7,552.5L113.8,559.0L113.1,557.8L108.2,565.4ZM119.7,564.4L124.6,556.8L123.2,556.6L128.3,552.3L126.4,558.8L125.7,557.5L120.8,565.1ZM132.3,564.1L137.5,556.2L136.0,556.1L141.2,551.7L139.3,558.2L138.6,556.9L133.4,564.8ZM144.9,563.8L150.4,555.8L149.0,555.6L154.3,551.4L152.2,557.8L151.5,556.6L146.0,564.5ZM157.5,563.5L163.4,555.5L161.9,555.3L167.4,551.2L165.1,557.6L164.4,556.3L158.5,564.3ZM170.1,563.3L176.3,555.2L174.9,555.0L180.4,551.0L178.0,557.3L177.3,556.0L171.1,564.1ZM182.7,563.1L189.2,555.0L187.8,554.7L193.3,550.9L190.8,557.2L190.2,555.8L183.7,563.9ZM195.3,562.9L202.0,554.9L200.6,554.5L206.3,550.8L203.6,557.0L203.0,555.7L196.3,563.7ZM207.9,562.7L214.9,554.7L213.5,554.4L219.2,550.7L216.4,556.9L215.8,555.6L208.9,563.6ZM220.5,562.6L227.7,554.7L226.3,554.3L232.1,550.7L229.2,556.9L228.6,555.5L221.5,563.5ZM233.1,562.5L240.4,554.5L239.0,554.1L244.8,550.6L241.9,556.7L241.3,555.4L234.1,563.4ZM245.7,562.4L253.1,554.4L251.7,554.0L257.5,550.5L254.6,556.6L254.0,555.3L246.7,563.3ZM258.3,562.3L265.8,554.2L264.4,553.8L270.3,550.4L267.3,556.5L266.8,555.1L259.3,563.2ZM270.9,562.3L278.6,554.0L277.3,553.6L283.1,550.2L280.1,556.3L279.6,554.9L271.9,563.2ZM283.5,562.3L291.6,553.7L290.2,553.3L296.1,549.9L293.1,555.9L292.6,554.6L284.5,563.2ZM296.1,562.3L304.9,553.0L303.5,552.6L309.4,549.2L306.4,555.3L305.9,553.9L297.1,563.2ZM308.7,562.3L317.8,552.9L316.4,552.4L322.3,549.1L319.2,555.1L318.7,553.8L309.7,563.2ZM321.4,562.4L330.4,553.1L329.0,552.6L334.9,549.3L331.8,555.3L331.3,554.0L322.3,563.3ZM334.0,562.4L343.0,553.2L341.7,552.8L347.6,549.5L344.4,555.5L344.0,554.1L334.9,563.4ZM346.6,562.5L356.0,553.1L354.6,552.7L360.6,549.4L357.4,555.4L356.9,554.0L347.5,563.5ZM359.2,562.7L368.8,553.2L367.4,552.7L373.4,549.5L370.1,555.5L369.7,554.1L360.1,563.6ZM371.8,562.8L381.9,553.3L380.5,552.8L386.6,549.8L383.2,555.7L382.8,554.3L372.7,563.8ZM384.4,563.0L394.9,553.6L393.6,553.0L399.8,550.2L396.2,556.0L395.8,554.5L385.3,563.9ZM397.0,563.1L407.9,553.9L406.6,553.3L412.8,550.6L409.1,556.3L408.8,554.9L397.8,564.1ZM409.6,563.3L420.9,554.2L419.5,553.6L425.8,551.0L422.0,556.6L421.7,555.2L410.4,564.4ZM422.2,563.6L433.9,554.3L432.6,553.7L438.9,551.2L435.0,556.8L434.7,555.4L423.0,564.6ZM434.8,563.8L447.1,554.5L445.7,553.9L452.1,551.5L448.1,557.0L447.8,555.5L435.6,564.9ZM447.4,564.1L460.2,554.7L458.9,554.0L465.3,551.8L461.2,557.2L460.9,555.8L448.2,565.2ZM460.0,564.4L473.3,554.9L472.0,554.2L478.4,552.1L474.3,557.4L474.1,556.0L460.8,565.5ZM472.6,564.7L486.5,555.1L485.3,554.4L491.7,552.3L487.5,557.6L487.3,556.2L473.4,565.8ZM485.2,565.1L500.0,555.2L498.7,554.5L505.2,552.5L500.9,557.8L500.7,556.3L485.9,566.2ZM497.8,565.5L513.9,555.1L512.7,554.3L519.2,552.5L514.8,557.6L514.6,556.2L498.5,566.6ZM56.3,553.8L61.5,546.0L60.0,545.8L65.3,541.5L63.3,548.0L62.6,546.7L57.4,554.5ZM68.9,553.3L74.4,545.8L73.0,545.5L78.4,541.4L76.2,547.8L75.5,546.5L70.0,554.1ZM81.6,553.0L87.1,545.4L85.7,545.1L91.1,541.1L88.8,547.4L88.2,546.1L82.6,553.7ZM94.2,552.6L99.8,545.0L98.4,544.7L103.8,540.7L101.5,547.0L100.9,545.8L95.2,553.4ZM106.8,552.2L112.5,544.6L111.1,544.3L116.5,540.3L114.2,546.7L113.6,545.4L107.8,553.0ZM119.4,551.9L125.2,544.3L123.8,544.0L129.2,540.0L126.9,546.4L126.2,545.0L120.4,552.7ZM132.0,551.6L138.1,543.8L136.7,543.5L142.2,539.5L139.8,545.9L139.1,544.5L133.0,552.4ZM144.6,551.4L151.1,543.4L149.7,543.1L155.3,539.2L152.7,545.5L152.1,544.2L145.7,552.2ZM157.3,551.1L164.1,543.1L162.7,542.7L168.4,539.0L165.7,545.3L165.1,543.9L158.3,551.9ZM169.9,550.9L177.1,542.8L175.7,542.4L181.5,538.9L178.6,545.1L178.1,543.7L170.9,551.7ZM182.5,550.6L190.1,542.7L188.7,542.2L194.6,538.9L191.6,544.9L191.1,543.5L183.5,551.5ZM195.2,550.5L203.1,542.6L201.7,542.1L207.6,538.9L204.4,544.8L204.0,543.5L196.1,551.4ZM207.8,550.3L216.0,542.5L214.6,542.0L220.6,538.9L217.3,544.8L216.9,543.4L208.7,551.2ZM220.4,550.2L228.9,542.5L227.5,542.0L233.6,539.0L230.1,544.8L229.7,543.4L221.3,551.1ZM233.1,550.0L241.6,542.3L240.3,541.8L246.4,538.9L242.9,544.7L242.5,543.3L233.9,551.0ZM245.7,550.0L254.4,542.2L253.1,541.7L259.2,538.8L255.6,544.6L255.3,543.2L246.5,550.9ZM258.3,549.9L267.2,542.1L265.9,541.5L272.0,538.7L268.4,544.5L268.1,543.0L259.2,550.9ZM270.9,549.9L280.1,541.9L278.7,541.4L284.9,538.6L281.3,544.3L280.9,542.9L271.8,550.8ZM283.6,549.8L293.1,541.7L291.7,541.1L297.9,538.3L294.3,544.0L293.9,542.6L284.4,550.8ZM296.2,549.8L306.2,541.3L304.9,540.7L311.1,538.0L307.4,543.7L307.1,542.3L297.0,550.8ZM308.8,549.9L319.1,541.2L317.8,540.6L324.0,537.9L320.3,543.6L320.0,542.2L309.6,550.9ZM321.4,549.9L331.9,541.2L330.6,540.7L336.8,538.0L333.0,543.7L332.7,542.2L322.3,550.9ZM334.1,550.0L344.7,541.3L343.3,540.7L349.6,538.1L345.8,543.8L345.5,542.3L334.9,551.0ZM346.7,550.1L357.6,541.3L356.2,540.7L362.5,538.2L358.7,543.8L358.4,542.4L347.5,551.1ZM359.3,550.2L370.5,541.4L369.2,540.7L375.5,538.2L371.6,543.8L371.3,542.4L360.1,551.2ZM371.9,550.4L383.6,541.6L382.3,540.9L388.7,538.6L384.7,544.1L384.4,542.6L372.7,551.4ZM384.6,550.5L396.8,541.9L395.5,541.2L401.9,539.0L397.7,544.4L397.5,542.9L385.3,551.6ZM397.2,550.7L409.8,542.2L408.6,541.5L415.1,539.5L410.8,544.7L410.6,543.3L397.9,551.8ZM409.8,550.9L422.8,542.4L421.6,541.7L428.1,539.8L423.7,545.0L423.6,543.5L410.6,552.0ZM422.5,551.2L435.9,542.6L434.6,541.9L441.2,540.0L436.7,545.1L436.6,543.7L423.2,552.3ZM435.1,551.4L449.0,542.8L447.7,542.0L454.3,540.2L449.8,545.3L449.7,543.9L435.8,552.5ZM447.7,551.7L462.1,543.0L460.9,542.2L467.4,540.5L462.9,545.5L462.8,544.1L448.4,552.8ZM460.3,552.0L475.2,543.2L474.0,542.4L480.6,540.7L476.0,545.7L475.9,544.3L461.0,553.1ZM473.0,552.3L488.5,543.4L487.3,542.6L493.9,541.0L489.2,545.9L489.1,544.5L473.6,553.5ZM485.6,552.7L501.9,543.5L500.7,542.7L507.3,541.2L502.6,546.1L502.5,544.6L486.2,553.8ZM498.2,553.1L515.7,543.5L514.5,542.6L521.1,541.2L516.4,546.0L516.3,544.6L498.8,554.2ZM55.9,541.3L62.0,533.7L60.5,533.4L66.1,529.5L63.6,535.8L63.0,534.5L56.9,542.1ZM68.6,540.9L74.9,533.5L73.5,533.1L79.3,529.5L76.5,535.7L75.9,534.3L69.5,541.7ZM81.2,540.5L87.6,533.1L86.2,532.7L92.0,529.1L89.2,535.3L88.6,534.0L82.2,541.3ZM93.8,540.1L100.4,532.7L99.0,532.3L104.8,528.7L101.9,534.9L101.4,533.5L94.8,541.0ZM106.5,539.8L113.2,532.2L111.8,531.9L117.6,528.3L114.7,534.5L114.1,533.1L107.4,540.7ZM119.1,539.5L126.0,531.8L124.6,531.4L130.4,527.9L127.5,534.0L127.0,532.7L120.1,540.3ZM131.8,539.2L138.9,531.4L137.5,531.0L143.3,527.5L140.3,533.6L139.8,532.3L132.7,540.1ZM144.4,538.9L151.9,531.0L150.5,530.6L156.4,527.3L153.3,533.3L152.8,531.9L145.3,539.8ZM157.0,538.6L165.0,530.7L163.6,530.3L169.6,527.0L166.3,533.0L165.9,531.6L158.0,539.6ZM169.7,538.4L178.0,530.5L176.6,530.0L182.7,526.9L179.3,532.8L178.9,531.4L170.6,539.3ZM182.4,538.2L191.0,530.3L189.7,529.8L195.8,526.8L192.3,532.6L191.9,531.2L183.2,539.2ZM195.0,538.0L204.0,530.2L202.6,529.7L208.8,526.9L205.2,532.6L204.8,531.2L195.9,539.0ZM207.7,537.9L216.9,530.2L215.6,529.6L221.8,526.9L218.0,532.6L217.7,531.2L208.5,538.9ZM220.3,537.7L229.8,530.2L228.5,529.6L234.8,527.1L230.9,532.6L230.6,531.2L221.1,538.7ZM233.0,537.6L242.6,530.0L241.3,529.4L247.6,526.9L243.7,532.5L243.4,531.1L233.8,538.6ZM245.6,537.5L255.4,529.9L254.1,529.3L260.5,526.9L256.5,532.4L256.2,530.9L246.4,538.5ZM258.3,537.5L268.3,529.8L267.0,529.2L273.3,526.8L269.3,532.3L269.1,530.9L259.0,538.5ZM270.9,537.4L281.1,529.7L279.8,529.1L286.2,526.7L282.1,532.2L281.9,530.8L271.7,538.5ZM283.6,537.4L294.0,529.6L292.7,529.0L299.1,526.7L295.0,532.1L294.8,530.7L284.3,538.4ZM296.2,537.4L306.9,529.6L305.6,528.9L312.0,526.6L307.9,532.0L307.7,530.6L297.0,538.5ZM308.9,537.4L319.7,529.5L318.5,528.9L324.9,526.6L320.7,532.0L320.5,530.6L309.6,538.5ZM321.5,537.5L332.8,529.5L331.5,528.8L337.9,526.7L333.8,532.0L333.5,530.6L322.3,538.6ZM334.2,537.6L346.0,529.5L344.7,528.8L351.1,526.7L346.9,532.0L346.7,530.5L334.9,538.6ZM346.8,537.7L359.0,529.5L357.8,528.8L364.3,526.8L359.9,532.0L359.8,530.6L347.5,538.7ZM359.5,537.8L372.1,529.6L370.9,528.8L377.4,526.9L373.0,532.1L372.8,530.7L360.2,538.9ZM372.1,537.9L385.3,529.9L384.1,529.2L390.7,527.5L386.1,532.5L386.0,531.0L372.8,539.0ZM384.8,538.1L398.5,530.3L397.3,529.5L403.9,528.0L399.2,532.9L399.2,531.5L385.4,539.2ZM397.4,538.3L411.7,530.8L410.5,529.9L417.2,528.6L412.3,533.4L412.3,531.9L398.0,539.4ZM410.1,538.5L424.7,531.0L423.6,530.1L430.3,528.9L425.4,533.6L425.3,532.2L410.7,539.6ZM422.7,538.7L437.8,531.2L436.6,530.3L443.3,529.2L438.4,533.8L438.4,532.4L423.3,539.9ZM435.4,539.0L450.9,531.4L449.8,530.5L456.5,529.4L451.5,534.0L451.5,532.6L436.0,540.2ZM448.0,539.3L464.0,531.6L462.9,530.7L469.6,529.7L464.6,534.2L464.6,532.8L448.6,540.4ZM460.7,539.6L477.2,531.8L476.0,530.9L482.8,529.9L477.7,534.5L477.7,533.0L461.2,540.8ZM473.3,539.9L490.3,532.1L489.2,531.2L495.9,530.2L490.8,534.7L490.9,533.3L473.9,541.1ZM485.9,540.3L503.6,532.3L502.5,531.4L509.2,530.5L504.1,535.0L504.1,533.5L486.5,541.5ZM498.6,540.7L516.8,532.6L515.7,531.7L522.5,530.9L517.3,535.3L517.4,533.8L499.1,541.8ZM55.5,528.8L62.5,521.4L61.1,521.0L67.0,517.6L64.0,523.7L63.5,522.3L56.5,529.7ZM68.2,528.4L75.4,521.3L74.1,520.9L80.1,517.7L76.8,523.7L76.4,522.3L69.1,529.3ZM80.8,528.0L88.1,521.0L86.7,520.5L92.8,517.4L89.4,523.4L89.0,522.0L81.7,529.0ZM93.5,527.7L101.0,520.5L99.6,520.0L105.7,516.9L102.3,522.8L101.9,521.5L94.4,528.6ZM106.2,527.3L113.9,520.0L112.5,519.5L118.6,516.5L115.2,522.4L114.8,521.0L107.1,528.3ZM118.8,527.0L126.8,519.6L125.4,519.1L131.5,516.1L128.1,521.9L127.6,520.5L119.7,528.0ZM131.5,526.7L139.7,519.2L138.3,518.6L144.4,515.7L141.0,521.5L140.5,520.1L132.4,527.7ZM144.2,526.4L152.7,518.8L151.4,518.3L157.5,515.4L154.0,521.2L153.6,519.8L145.0,527.4ZM156.8,526.2L165.8,518.5L164.5,517.9L170.7,515.2L167.0,520.9L166.7,519.5L157.7,527.2ZM169.5,526.0L179.0,518.1L177.6,517.5L183.9,514.9L180.1,520.6L179.8,519.1L170.3,527.0ZM182.2,525.8L192.1,517.9L190.7,517.3L197.0,514.8L193.2,520.4L192.9,518.9L183.0,526.8ZM194.9,525.6L204.9,517.9L203.6,517.3L210.0,514.9L206.0,520.4L205.7,519.0L195.6,526.6ZM207.5,525.4L217.8,518.0L216.5,517.3L222.9,515.1L218.8,520.5L218.6,519.0L208.3,526.5ZM220.2,525.3L230.7,518.0L229.4,517.3L235.9,515.2L231.7,520.5L231.5,519.1L220.9,526.3ZM232.9,525.2L243.6,517.8L242.3,517.1L248.8,515.1L244.5,520.3L244.4,518.9L233.6,526.2ZM245.5,525.1L256.5,517.7L255.2,517.0L261.7,515.0L257.4,520.2L257.2,518.8L246.3,526.2ZM258.2,525.0L269.4,517.7L268.1,516.9L274.6,515.0L270.2,520.2L270.1,518.7L258.9,526.1ZM270.9,525.0L282.1,517.7L280.8,517.0L287.3,515.1L282.9,520.2L282.8,518.8L271.6,526.1ZM283.6,525.0L294.8,517.8L293.6,517.0L300.1,515.1L295.7,520.3L295.5,518.9L284.3,526.1ZM296.2,525.0L307.6,517.8L306.3,517.1L312.9,515.2L308.4,520.3L308.3,518.9L296.9,526.1ZM308.9,525.0L320.4,517.9L319.1,517.1L325.7,515.3L321.2,520.4L321.1,519.0L309.6,526.1ZM321.6,525.1L333.9,517.7L332.7,516.9L339.3,515.3L334.7,520.3L334.6,518.8L322.2,526.2ZM334.3,525.1L347.3,517.7L346.0,516.9L352.7,515.4L348.0,520.3L347.9,518.8L334.9,526.3ZM346.9,525.2L360.5,517.8L359.3,517.0L365.9,515.6L361.2,520.4L361.1,519.0L347.6,526.4ZM359.6,525.3L373.7,518.0L372.5,517.1L379.2,515.9L374.3,520.6L374.3,519.1L360.2,526.5ZM372.3,525.5L387.0,518.5L385.8,517.6L392.5,516.5L387.5,521.1L387.5,519.6L372.9,526.7ZM385.0,525.7L400.2,519.0L399.1,518.1L405.9,517.3L400.7,521.7L400.7,520.2L385.5,526.8ZM397.7,525.8L413.5,519.6L412.4,518.6L419.1,518.1L413.8,522.3L413.9,520.8L398.1,527.0ZM410.3,526.1L426.5,519.9L425.5,518.9L432.2,518.4L426.9,522.5L427.0,521.1L410.8,527.3ZM423.0,526.3L439.6,520.1L438.6,519.1L445.3,518.6L439.9,522.7L440.1,521.3L423.5,527.5ZM435.7,526.6L452.8,520.3L451.7,519.3L458.5,518.9L453.1,523.0L453.2,521.5L436.1,527.8ZM448.3,526.9L465.9,520.5L464.9,519.5L471.7,519.2L466.2,523.2L466.4,521.8L448.8,528.1ZM461.0,527.2L479.1,520.8L478.0,519.8L484.8,519.5L479.3,523.5L479.5,522.0L461.4,528.4ZM473.7,527.5L492.1,521.2L491.1,520.1L497.8,519.9L492.3,523.8L492.5,522.4L474.1,528.7ZM486.3,527.9L505.1,521.5L504.0,520.5L510.8,520.3L505.3,524.2L505.5,522.8L486.7,529.1ZM499.0,528.2L518.0,521.9L517.0,520.9L523.8,520.7L518.2,524.6L518.4,523.2L499.4,529.5ZM55.1,516.4L63.1,509.3L61.7,508.7L67.9,505.9L64.3,511.7L63.9,510.3L56.0,517.3ZM67.8,515.9L76.0,509.2L74.7,508.6L80.9,506.0L77.1,511.7L76.8,510.2L68.6,517.0ZM80.5,515.6L88.6,509.0L87.2,508.4L93.5,505.8L89.7,511.4L89.4,510.0L81.3,516.6ZM93.2,515.2L101.6,508.4L100.3,507.8L106.6,505.2L102.7,510.8L102.4,509.4L94.0,516.2ZM105.9,514.9L114.6,507.9L113.2,507.3L119.5,504.8L115.7,510.3L115.4,508.9L106.7,515.9ZM118.5,514.5L127.5,507.5L126.2,506.8L132.5,504.3L128.6,509.9L128.3,508.5L119.3,515.6ZM131.2,514.3L140.4,507.1L139.1,506.4L145.4,504.0L141.5,509.5L141.2,508.1L132.0,515.3ZM143.9,514.0L153.5,506.8L152.1,506.1L158.5,503.7L154.5,509.2L154.2,507.8L144.7,515.0ZM156.6,513.7L166.6,506.4L165.3,505.8L171.7,503.5L167.6,508.9L167.3,507.5L157.4,514.8ZM169.3,513.5L180.0,505.9L178.7,505.3L185.1,503.1L181.0,508.4L180.7,507.0L170.1,514.6ZM182.0,513.3L193.2,505.7L191.9,505.0L198.4,502.9L194.1,508.2L193.9,506.8L182.7,514.4ZM194.7,513.1L205.9,505.8L204.6,505.1L211.1,503.2L206.7,508.4L206.6,506.9L195.4,514.2ZM207.4,513.0L218.6,505.9L217.4,505.2L223.9,503.4L219.5,508.5L219.3,507.0L208.1,514.1ZM220.1,512.8L231.6,505.9L230.3,505.2L236.9,503.5L232.3,508.5L232.2,507.0L220.8,513.9ZM232.8,512.7L244.4,505.9L243.2,505.1L249.8,503.5L245.2,508.4L245.1,507.0L233.4,513.8ZM245.5,512.6L257.3,505.8L256.1,505.0L262.7,503.5L258.0,508.4L258.0,507.0L246.1,513.8ZM258.2,512.6L270.2,505.8L269.0,505.0L275.6,503.5L270.9,508.4L270.8,507.0L258.8,513.7ZM270.9,512.5L283.0,505.9L281.8,505.0L288.4,503.6L283.7,508.4L283.6,507.0L271.5,513.7ZM283.6,512.5L295.8,505.9L294.6,505.1L301.2,503.7L296.4,508.5L296.4,507.1L284.2,513.7ZM296.3,512.5L308.7,506.0L307.5,505.1L314.1,503.8L309.3,508.6L309.3,507.1L296.9,513.7ZM309.0,512.6L321.9,505.9L320.7,505.0L327.4,503.8L322.5,508.5L322.5,507.1L309.6,513.7ZM321.7,512.6L335.3,506.0L334.1,505.1L340.8,504.0L335.8,508.6L335.9,507.2L322.2,513.8ZM334.4,512.7L348.7,506.2L347.6,505.3L354.3,504.4L349.2,508.8L349.2,507.4L334.9,513.9ZM347.1,512.8L362.1,506.5L360.9,505.5L367.7,504.8L362.5,509.1L362.6,507.7L347.6,514.0ZM359.8,512.9L375.3,506.8L374.3,505.8L381.0,505.3L375.7,509.4L375.8,508.0L360.2,514.1ZM372.5,513.0L388.6,507.3L387.6,506.3L394.4,505.9L388.9,510.0L389.1,508.5L372.9,514.3ZM385.2,513.2L401.8,507.9L400.8,506.8L407.6,506.7L402.0,510.6L402.2,509.1L385.6,514.5ZM397.9,513.4L415.0,508.5L414.1,507.4L420.8,507.5L415.1,511.2L415.4,509.8L398.3,514.7ZM410.6,513.6L428.1,508.8L427.1,507.7L433.9,507.9L428.2,511.5L428.4,510.1L410.9,514.9ZM423.3,513.9L441.2,509.0L440.2,507.9L447.0,508.1L441.3,511.7L441.5,510.3L423.6,515.1ZM436.0,514.1L454.4,509.2L453.4,508.2L460.2,508.4L454.4,511.9L454.7,510.5L436.3,515.4ZM448.7,514.4L467.7,509.5L466.7,508.4L473.5,508.6L467.7,512.2L468.0,510.7L449.0,515.7ZM461.3,514.7L480.7,509.8L479.8,508.7L486.5,509.0L480.7,512.5L481.0,511.1L461.7,516.0ZM474.0,515.1L493.6,510.2L492.7,509.1L499.4,509.4L493.6,512.9L493.9,511.5L474.3,516.3ZM486.7,515.4L506.6,510.6L505.6,509.5L512.4,509.8L506.5,513.3L506.9,511.8L487.0,516.7ZM499.4,515.8L519.7,511.0L518.8,509.9L525.5,510.2L519.7,513.6L520.0,512.2L499.7,517.1ZM54.7,503.9L63.7,497.2L62.4,496.5L68.8,494.2L64.7,499.7L64.5,498.2L55.5,504.9ZM67.4,503.5L76.7,497.1L75.4,496.4L81.9,494.3L77.6,499.6L77.4,498.2L68.2,504.5ZM80.1,503.1L89.4,496.7L88.2,496.0L94.6,494.0L90.4,499.2L90.2,497.8L80.9,504.2ZM92.8,502.7L102.3,496.3L101.0,495.6L107.5,493.5L103.2,498.8L103.0,497.4L93.6,503.8ZM105.5,502.4L115.2,495.8L114.0,495.1L120.5,493.1L116.2,498.4L116.0,496.9L106.3,503.5ZM118.3,502.1L128.2,495.4L126.9,494.7L133.4,492.7L129.1,497.9L128.9,496.5L119.0,503.2ZM131.0,501.8L141.1,495.0L139.8,494.3L146.3,492.3L142.0,497.5L141.8,496.1L131.7,502.9ZM143.7,501.5L154.1,494.8L152.8,494.1L159.4,492.2L155.0,497.3L154.8,495.9L144.4,502.6ZM156.4,501.3L167.1,494.6L165.9,493.8L172.4,492.1L167.9,497.1L167.8,495.7L157.1,502.4ZM169.1,501.0L180.3,494.3L179.0,493.6L185.6,491.9L181.1,496.9L180.9,495.5L169.8,502.2ZM181.8,500.8L193.5,494.1L192.3,493.3L198.9,491.7L194.2,496.7L194.1,495.2L182.5,502.0ZM194.5,500.7L206.3,494.1L205.1,493.3L211.8,491.8L207.0,496.7L207.0,495.2L195.2,501.8ZM207.3,500.5L219.2,494.1L218.0,493.3L224.6,491.9L219.8,496.7L219.8,495.3L207.9,501.6ZM220.0,500.4L232.0,494.2L230.8,493.3L237.5,492.1L232.6,496.8L232.6,495.3L220.6,501.5ZM232.7,500.3L245.0,494.1L243.8,493.3L250.5,492.1L245.5,496.8L245.5,495.3L233.3,501.4ZM245.4,500.2L258.0,494.1L256.8,493.2L263.5,492.1L258.5,496.7L258.6,495.3L246.0,501.3ZM258.1,500.1L271.0,494.1L269.9,493.2L276.6,492.2L271.6,496.7L271.6,495.2L258.7,501.3ZM270.9,500.1L284.1,494.1L282.9,493.2L289.7,492.3L284.5,496.7L284.6,495.3L271.4,501.3ZM283.6,500.1L297.1,494.1L296.0,493.2L302.7,492.4L297.5,496.8L297.6,495.3L284.1,501.3ZM296.3,500.1L310.1,494.2L309.0,493.2L315.8,492.5L310.6,496.8L310.7,495.4L296.8,501.3ZM309.0,500.1L323.3,494.2L322.2,493.3L329.0,492.6L323.7,496.9L323.8,495.4L309.5,501.3ZM321.7,500.2L336.8,494.6L335.7,493.6L342.5,493.1L337.1,497.2L337.2,495.8L322.2,501.4ZM334.5,500.2L350.2,495.0L349.2,494.0L356.0,493.8L350.4,497.7L350.6,496.2L334.9,501.5ZM347.2,500.3L363.6,495.5L362.6,494.4L369.4,494.4L363.7,498.1L364.0,496.7L347.6,501.6ZM359.9,500.5L377.0,496.0L376.1,494.9L382.8,495.2L377.0,498.7L377.3,497.3L360.3,501.7ZM372.7,500.6L390.2,496.4L389.3,495.3L396.1,495.7L390.2,499.1L390.5,497.7L373.0,501.9ZM385.4,500.8L403.4,496.9L402.5,495.8L409.2,496.3L403.3,499.6L403.6,498.2L385.7,502.0ZM398.1,501.0L416.4,497.5L415.6,496.3L422.3,497.0L416.3,500.1L416.7,498.7L398.4,502.2ZM410.8,501.2L429.4,497.7L428.6,496.6L435.3,497.3L429.3,500.4L429.7,499.0L411.1,502.5ZM423.5,501.4L442.5,497.9L441.6,496.7L448.4,497.5L442.4,500.6L442.8,499.2L423.8,502.7ZM436.2,501.7L455.8,498.1L455.0,496.9L461.7,497.7L455.7,500.8L456.1,499.4L436.5,503.0ZM449.0,502.0L468.9,498.3L468.1,497.2L474.8,497.9L468.8,501.0L469.2,499.6L449.2,503.3ZM461.7,502.3L482.2,498.6L481.3,497.4L488.0,498.2L482.0,501.2L482.4,499.8L461.9,503.6ZM474.4,502.7L495.4,498.8L494.5,497.7L501.3,498.4L495.2,501.5L495.6,500.1L474.6,503.9ZM487.1,503.0L508.7,499.1L507.8,498.0L514.5,498.7L508.5,501.8L508.9,500.4L487.3,504.3ZM499.8,503.4L521.9,499.4L521.1,498.3L527.8,499.0L521.8,502.1L522.2,500.7L500.0,504.7ZM54.3,491.4L64.2,485.0L63.0,484.3L69.5,482.4L65.1,487.5L64.9,486.1L55.0,492.5ZM67.1,491.0L77.2,485.0L76.0,484.2L82.6,482.6L78.0,487.6L77.9,486.1L67.7,492.1ZM79.8,490.6L90.0,484.6L88.8,483.8L95.4,482.2L90.8,487.2L90.7,485.7L80.4,491.7ZM92.5,490.3L102.9,484.2L101.7,483.4L108.3,481.8L103.7,486.8L103.6,485.3L93.2,491.4ZM105.2,489.9L115.8,483.8L114.6,483.0L121.2,481.4L116.6,486.3L116.5,484.9L105.9,491.0ZM118.0,489.6L128.8,483.3L127.6,482.5L134.2,480.9L129.5,485.9L129.4,484.4L118.6,490.7ZM130.7,489.3L141.7,483.0L140.5,482.2L147.1,480.6L142.4,485.5L142.4,484.1L131.3,490.4ZM143.4,489.0L154.6,482.8L153.4,482.0L160.0,480.6L155.3,485.4L155.2,484.0L144.1,490.2ZM156.2,488.8L167.5,482.8L166.3,481.9L172.9,480.6L168.1,485.4L168.1,483.9L156.8,489.9ZM168.9,488.6L180.3,482.7L179.1,481.9L185.8,480.6L180.9,485.3L180.8,483.9L169.5,489.7ZM181.6,488.4L193.1,482.7L191.9,481.8L198.6,480.7L193.6,485.3L193.7,483.9L182.2,489.5ZM194.4,488.2L206.3,482.5L205.2,481.6L211.9,480.6L206.8,485.1L206.9,483.7L194.9,489.4ZM207.1,488.0L219.4,482.5L218.2,481.5L225.0,480.6L219.9,485.1L219.9,483.6L207.7,489.2ZM219.9,487.9L232.2,482.5L231.1,481.6L237.9,480.7L232.7,485.1L232.8,483.7L220.4,489.1ZM232.6,487.8L245.3,482.4L244.2,481.5L250.9,480.8L245.7,485.1L245.8,483.6L233.1,489.0ZM245.4,487.7L258.6,482.3L257.5,481.4L264.3,480.7L259.0,485.0L259.1,483.5L245.8,488.9ZM258.1,487.7L271.8,482.3L270.8,481.3L277.5,480.7L272.2,484.9L272.3,483.5L258.6,488.9ZM270.8,487.6L285.0,482.2L284.0,481.3L290.7,480.8L285.3,484.9L285.5,483.5L271.3,488.8ZM283.6,487.6L298.2,482.3L297.1,481.3L303.9,480.9L298.5,485.0L298.6,483.5L284.0,488.8ZM296.3,487.6L311.4,482.4L310.3,481.3L317.1,481.0L311.6,485.0L311.8,483.6L296.8,488.8ZM309.1,487.7L324.6,482.4L323.5,481.4L330.3,481.2L324.8,485.1L325.0,483.7L309.5,488.9ZM321.8,487.7L338.0,482.8L337.0,481.8L343.7,481.8L338.1,485.5L338.3,484.1L322.2,489.0ZM334.6,487.8L351.4,483.3L350.4,482.2L357.2,482.4L351.4,486.0L351.7,484.6L334.9,489.0ZM347.3,487.9L364.9,483.8L363.9,482.7L370.7,483.2L364.8,486.5L365.2,485.1L347.6,489.2ZM360.1,488.0L378.4,484.4L377.5,483.3L384.2,483.9L378.2,487.1L378.6,485.7L360.3,489.3ZM372.8,488.2L391.6,484.9L390.8,483.8L397.5,484.6L391.4,487.6L391.9,486.2L373.1,489.4ZM385.6,488.3L404.7,485.5L403.9,484.3L410.6,485.3L404.4,488.2L404.9,486.8L385.8,489.6ZM398.3,488.5L417.7,486.2L416.9,484.9L423.5,486.1L417.3,488.8L417.8,487.4L398.5,489.8ZM411.1,488.8L430.5,486.5L429.7,485.2L436.4,486.4L430.2,489.1L430.7,487.7L411.2,490.1ZM423.8,489.0L443.5,486.7L442.7,485.5L449.4,486.7L443.2,489.4L443.7,488.0L423.9,490.3ZM436.5,489.3L456.7,487.0L455.9,485.7L462.6,486.9L456.3,489.6L456.8,488.2L436.7,490.6ZM449.3,489.6L470.2,487.2L469.4,486.0L476.1,487.2L469.9,489.8L470.4,488.5L449.4,490.9ZM462.0,489.9L483.6,487.4L482.8,486.2L489.5,487.4L483.2,490.1L483.7,488.7L462.1,491.2ZM474.7,490.2L497.0,487.7L496.2,486.5L502.9,487.7L496.7,490.4L497.2,489.0L474.9,491.5ZM487.4,490.6L510.6,488.0L509.8,486.8L516.5,488.0L510.3,490.7L510.8,489.3L487.6,491.9ZM500.2,491.0L524.6,488.3L523.8,487.1L530.5,488.3L524.2,490.9L524.7,489.6L500.3,492.3ZM53.9,479.0L64.6,472.8L63.4,472.0L70.0,470.4L65.3,475.4L65.3,473.9L54.5,480.1ZM66.7,478.5L77.7,472.9L76.5,472.1L83.2,470.9L78.3,475.6L78.3,474.1L67.3,479.7ZM79.4,478.2L90.5,472.5L89.4,471.7L96.0,470.5L91.1,475.2L91.1,473.7L80.0,479.3ZM92.2,477.8L103.4,472.2L102.2,471.3L108.9,470.1L104.0,474.8L104.0,473.3L92.7,479.0ZM104.9,477.5L116.3,471.7L115.2,470.9L121.8,469.7L116.9,474.4L116.9,472.9L105.5,478.6ZM117.7,477.1L129.4,471.3L128.2,470.4L134.9,469.3L130.0,473.9L130.0,472.5L118.2,478.3ZM130.4,476.9L142.5,470.9L141.3,470.0L148.0,468.8L143.1,473.5L143.1,472.0L131.0,478.0ZM143.2,476.6L155.1,470.9L153.9,470.0L160.6,469.0L155.6,473.5L155.6,472.1L143.7,477.8ZM155.9,476.3L167.8,470.9L166.6,470.0L173.4,469.1L168.3,473.6L168.3,472.1L156.5,477.5ZM168.7,476.1L180.4,471.0L179.3,470.1L186.0,469.3L180.8,473.6L180.9,472.2L169.2,477.3ZM181.5,475.9L192.8,471.2L191.7,470.2L198.4,469.5L193.2,473.8L193.3,472.4L182.0,477.1ZM194.2,475.7L206.3,470.9L205.3,469.9L212.0,469.3L206.7,473.5L206.8,472.1L194.7,476.9ZM207.0,475.6L219.5,470.8L218.4,469.8L225.2,469.3L219.8,473.5L219.9,472.0L207.5,476.8ZM219.8,475.4L232.4,470.8L231.4,469.8L238.1,469.4L232.7,473.5L232.9,472.1L220.2,476.7ZM232.5,475.3L245.5,470.8L244.5,469.8L251.2,469.5L245.8,473.5L245.9,472.0L233.0,476.6ZM245.3,475.3L259.2,470.6L258.2,469.5L265.0,469.3L259.5,473.2L259.7,471.8L245.7,476.5ZM258.1,475.2L272.7,470.5L271.7,469.5L278.5,469.3L272.9,473.2L273.1,471.7L258.5,476.4ZM270.8,475.2L286.0,470.5L285.0,469.4L291.8,469.4L286.1,473.2L286.4,471.7L271.2,476.4ZM283.6,475.2L299.2,470.5L298.3,469.5L305.0,469.5L299.4,473.2L299.6,471.8L284.0,476.4ZM296.3,475.2L312.5,470.6L311.5,469.6L318.3,469.7L312.6,473.3L312.8,471.9L296.7,476.4ZM309.1,475.2L325.7,470.8L324.8,469.7L331.5,469.9L325.8,473.4L326.1,472.0L309.5,476.5ZM321.9,475.3L339.1,471.2L338.1,470.1L344.9,470.5L339.0,473.9L339.4,472.5L322.2,476.5ZM334.7,475.3L352.5,471.7L351.6,470.6L358.3,471.2L352.4,474.4L352.7,473.0L334.9,476.6ZM347.4,475.4L366.0,472.3L365.1,471.1L371.9,471.9L365.8,474.9L366.2,473.5L347.7,476.7ZM360.2,475.6L379.8,472.8L379.0,471.6L385.7,472.6L379.5,475.5L380.0,474.1L360.4,476.9ZM373.0,475.7L392.9,473.5L392.1,472.3L398.8,473.5L392.5,476.1L393.0,474.8L373.1,477.0ZM385.8,475.9L405.8,474.2L405.0,472.9L411.7,474.3L405.4,476.8L405.9,475.5L385.9,477.2ZM398.5,476.1L418.7,474.9L418.0,473.6L424.6,475.2L418.2,477.5L418.8,476.2L398.6,477.4ZM411.3,476.3L431.6,475.2L430.8,474.0L437.4,475.6L431.0,477.9L431.6,476.5L411.4,477.6ZM424.1,476.6L444.7,475.5L444.0,474.3L450.6,475.9L444.2,478.2L444.8,476.8L424.1,477.9ZM436.8,476.9L458.0,475.8L457.3,474.6L463.9,476.2L457.5,478.4L458.1,477.1L436.9,478.1ZM449.6,477.1L471.5,476.1L470.8,474.9L477.3,476.5L470.9,478.8L471.5,477.4L449.6,478.4ZM462.3,477.5L484.9,476.5L484.2,475.2L490.8,476.9L484.4,479.1L485.0,477.8L462.4,478.8ZM475.1,477.8L498.4,476.8L497.7,475.5L504.3,477.2L497.9,479.4L498.5,478.1L475.1,479.1ZM487.8,478.2L512.2,477.2L511.5,475.9L518.0,477.6L511.6,479.8L512.2,478.5L487.9,479.5ZM500.6,478.6L526.4,477.6L525.7,476.3L532.3,478.0L525.9,480.2L526.5,478.9L500.6,479.9ZM53.5,466.5L64.8,460.4L63.6,459.6L70.2,458.2L65.4,463.0L65.4,461.6L54.1,467.6ZM66.3,466.1L78.1,460.9L76.9,459.9L83.7,459.1L78.5,463.5L78.6,462.1L66.8,467.3ZM79.1,465.7L90.9,460.5L89.8,459.5L96.5,458.7L91.4,463.1L91.4,461.7L79.6,466.9ZM91.8,465.3L103.7,460.1L102.6,459.2L109.4,458.3L104.2,462.7L104.3,461.3L92.3,466.5ZM104.6,465.0L116.6,459.7L115.5,458.8L122.2,458.0L117.1,462.4L117.1,460.9L105.1,466.2ZM117.4,464.7L129.6,459.3L128.5,458.4L135.2,457.6L130.0,462.0L130.1,460.5L117.9,465.9ZM130.1,464.4L142.5,459.0L141.4,458.1L148.1,457.3L143.0,461.7L143.0,460.2L130.7,465.6ZM142.9,464.1L155.4,459.0L154.3,458.0L161.0,457.3L155.7,461.6L155.8,460.2L143.4,465.3ZM155.7,463.9L168.1,459.0L167.0,458.0L173.8,457.4L168.4,461.6L168.6,460.2L156.2,465.1ZM168.5,463.6L180.8,459.0L179.7,458.0L186.5,457.5L181.1,461.7L181.3,460.2L169.0,464.9ZM181.3,463.4L193.6,459.0L192.5,458.0L199.3,457.6L193.9,461.7L194.0,460.2L181.7,464.7ZM194.1,463.3L206.6,459.0L205.6,458.0L212.3,457.7L206.8,461.6L207.0,460.2L194.5,464.5ZM206.9,463.1L219.6,459.0L218.6,457.9L225.4,457.8L219.8,461.6L220.0,460.2L207.3,464.3ZM219.6,463.0L232.5,459.0L231.5,458.0L238.3,457.9L232.7,461.7L232.9,460.2L220.0,464.2ZM232.4,462.9L246.2,458.8L245.2,457.7L252.0,457.8L246.3,461.5L246.6,460.0L232.8,464.1ZM245.2,462.8L260.0,458.6L259.0,457.5L265.8,457.6L260.1,461.3L260.4,459.9L245.6,464.1ZM258.0,462.7L273.5,458.5L272.6,457.4L279.4,457.6L273.6,461.2L273.9,459.8L258.3,464.0ZM270.8,462.7L286.9,458.5L286.0,457.4L292.7,457.7L286.9,461.2L287.2,459.8L271.1,464.0ZM283.6,462.7L300.2,458.6L299.3,457.5L306.0,457.8L300.2,461.3L300.5,459.9L283.9,464.0ZM296.4,462.7L313.5,458.7L312.5,457.6L319.3,458.0L313.4,461.4L313.8,460.0L296.7,464.0ZM309.2,462.8L326.7,458.8L325.8,457.7L332.6,458.2L326.6,461.5L327.0,460.1L309.4,464.0ZM321.9,462.8L340.0,459.3L339.1,458.1L345.9,458.8L339.9,462.0L340.3,460.6L322.2,464.1ZM334.7,462.9L353.4,459.8L352.5,458.6L359.2,459.5L353.1,462.5L353.6,461.1L335.0,464.2ZM347.5,463.0L366.8,460.4L366.0,459.2L372.7,460.3L366.5,463.1L366.9,461.7L347.7,464.3ZM360.3,463.1L380.2,461.0L379.4,459.8L386.1,461.0L379.8,463.7L380.3,462.3L360.5,464.4ZM373.1,463.3L393.6,461.7L392.9,460.4L399.5,461.9L393.2,464.3L393.7,463.0L373.2,464.6ZM385.9,463.5L406.8,462.4L406.1,461.1L412.7,462.7L406.3,465.0L406.9,463.7L386.0,464.8ZM398.7,463.7L419.9,463.2L419.2,461.9L425.7,463.7L419.3,465.8L419.9,464.5L398.8,465.0ZM411.5,463.9L432.9,463.5L432.2,462.2L438.8,464.1L432.3,466.1L432.9,464.8L411.5,465.2ZM424.3,464.1L446.0,463.8L445.4,462.5L451.9,464.4L445.4,466.4L446.1,465.1L424.3,465.4ZM437.1,464.4L459.3,464.2L458.6,462.9L465.1,464.8L458.7,466.8L459.3,465.5L437.1,465.7ZM449.8,464.7L472.6,464.5L472.0,463.2L478.5,465.1L472.0,467.1L472.6,465.8L449.9,466.0ZM462.6,465.0L486.0,464.9L485.4,463.6L491.9,465.5L485.4,467.5L486.0,466.2L462.6,466.3ZM475.4,465.4L499.5,465.3L498.9,464.0L505.4,466.0L498.9,467.9L499.5,466.6L475.4,466.7ZM488.2,465.7L513.2,465.8L512.5,464.5L519.0,466.4L512.5,468.4L513.2,467.1L488.2,467.0ZM500.9,466.1L527.0,466.3L526.4,465.0L532.9,466.9L526.4,468.9L527.0,467.6L500.9,467.4ZM53.0,454.0L64.9,448.1L63.7,447.2L70.4,446.0L65.5,450.7L65.5,449.2L53.6,455.2ZM65.9,453.6L78.4,448.8L77.3,447.8L84.1,447.3L78.7,451.5L78.8,450.0L66.4,454.8ZM78.7,453.2L91.2,448.4L90.2,447.4L96.9,446.9L91.6,451.1L91.7,449.6L79.1,454.4ZM91.5,452.9L104.0,448.1L103.0,447.1L109.7,446.6L104.3,450.7L104.5,449.3L91.9,454.1ZM104.3,452.5L116.8,447.8L115.7,446.8L122.5,446.3L117.1,450.4L117.3,449.0L104.7,453.7ZM117.1,452.2L129.7,447.5L128.6,446.5L135.4,446.0L130.0,450.1L130.1,448.7L117.5,453.4ZM129.9,451.9L142.5,447.2L141.4,446.2L148.2,445.7L142.8,449.8L142.9,448.4L130.3,453.1ZM142.7,451.6L155.5,447.0L154.5,446.0L161.3,445.7L155.8,449.7L156.0,448.3L143.1,452.9ZM155.5,451.4L168.4,447.0L167.4,446.0L174.2,445.7L168.7,449.7L168.9,448.2L155.9,452.6ZM168.3,451.2L181.1,447.0L180.1,446.0L186.9,445.9L181.3,449.7L181.5,448.3L168.7,452.4ZM181.1,451.0L194.0,447.0L193.0,446.0L199.8,446.0L194.1,449.7L194.4,448.3L181.5,452.2ZM193.9,450.8L206.9,447.1L205.9,446.0L212.7,446.1L207.0,449.7L207.2,448.3L194.3,452.0ZM206.7,450.6L219.8,447.1L218.9,446.0L225.7,446.2L219.9,449.8L220.2,448.3L207.1,451.9ZM219.5,450.5L233.7,446.9L232.7,445.8L239.5,446.1L233.7,449.6L234.0,448.2L219.8,451.8ZM232.3,450.4L247.4,446.7L246.5,445.6L253.3,446.0L247.4,449.4L247.7,448.0L232.6,451.7ZM245.1,450.3L261.1,446.6L260.1,445.5L266.9,445.9L261.0,449.3L261.3,447.9L245.4,451.6ZM257.9,450.3L274.5,446.6L273.6,445.5L280.4,446.0L274.4,449.3L274.8,447.9L258.2,451.6ZM270.8,450.3L287.9,446.6L287.0,445.5L293.7,446.1L287.8,449.3L288.1,447.9L271.0,451.5ZM283.6,450.2L301.2,446.7L300.3,445.6L307.0,446.2L301.0,449.4L301.4,448.0L283.8,451.5ZM296.4,450.3L314.4,446.8L313.5,445.7L320.3,446.4L314.3,449.5L314.7,448.1L296.6,451.5ZM309.2,450.3L327.7,447.0L326.8,445.8L333.5,446.6L327.5,449.6L327.9,448.2L309.4,451.6ZM322.0,450.4L340.9,447.4L340.1,446.3L346.8,447.2L340.7,450.1L341.1,448.7L322.2,451.6ZM334.8,450.4L354.1,448.0L353.3,446.8L360.0,447.9L353.8,450.7L354.3,449.3L335.0,451.7ZM347.6,450.5L367.4,448.6L366.6,447.4L373.3,448.7L367.0,451.2L367.5,449.9L347.8,451.8ZM360.5,450.7L380.9,449.2L380.2,448.0L386.8,449.4L380.5,451.8L381.0,450.5L360.6,452.0ZM373.3,450.8L394.5,449.9L393.8,448.6L400.4,450.3L394.0,452.5L394.6,451.2L373.3,452.1ZM386.1,451.0L407.8,450.6L407.2,449.4L413.7,451.2L407.2,453.3L407.9,451.9L386.1,452.3ZM398.9,451.2L421.0,451.4L420.4,450.1L426.9,452.2L420.3,454.0L421.0,452.7L398.9,452.5ZM411.7,451.5L434.1,451.8L433.5,450.5L440.0,452.5L433.4,454.4L434.1,453.1L411.7,452.8ZM424.5,451.7L447.3,452.1L446.6,450.8L453.1,452.9L446.6,454.7L447.2,453.4L424.5,453.0ZM437.3,452.0L460.4,452.5L459.8,451.2L466.3,453.3L459.7,455.1L460.4,453.8L437.3,453.3ZM450.1,452.3L473.7,452.9L473.1,451.6L479.5,453.7L473.0,455.5L473.7,454.2L450.1,453.6ZM462.9,452.6L487.0,453.3L486.4,452.0L492.9,454.1L486.3,455.9L487.0,454.6L462.9,453.9ZM475.7,452.9L500.4,453.7L499.8,452.4L506.3,454.6L499.7,456.3L500.4,455.0L475.7,454.2ZM488.5,453.3L513.9,454.2L513.3,452.9L519.8,455.1L513.2,456.8L513.9,455.5L488.5,454.6ZM501.3,453.7L527.5,454.7L526.9,453.4L533.3,455.6L526.8,457.3L527.5,456.0L501.3,455.0ZM52.6,441.5L65.1,436.4L64.0,435.5L70.8,434.8L65.5,439.1L65.6,437.6L53.1,442.8ZM65.5,441.1L78.8,436.5L77.8,435.5L84.5,435.2L79.0,439.2L79.2,437.8L65.9,442.4ZM78.3,440.7L91.8,436.1L90.8,435.1L97.6,434.8L92.1,438.8L92.3,437.3L78.7,442.0ZM91.1,440.4L104.6,435.8L103.6,434.7L110.4,434.5L104.9,438.4L105.1,437.0L91.5,441.6ZM103.9,440.0L117.4,435.5L116.3,434.4L123.1,434.2L117.6,438.1L117.8,436.7L104.3,441.3ZM116.7,439.7L130.3,435.2L129.2,434.1L136.0,433.9L130.5,437.8L130.7,436.4L117.2,441.0ZM129.6,439.4L143.3,434.8L142.3,433.8L149.1,433.6L143.5,437.5L143.7,436.1L130.0,440.7ZM142.4,439.2L156.5,434.7L155.5,433.6L162.2,433.5L156.6,437.3L156.9,435.9L142.8,440.4ZM155.2,438.9L169.5,434.6L168.5,433.5L175.3,433.5L169.7,437.3L169.9,435.8L155.6,440.2ZM168.1,438.7L182.5,434.6L181.5,433.5L188.3,433.6L182.5,437.3L182.8,435.8L168.4,440.0ZM180.9,438.5L195.4,434.6L194.4,433.5L201.2,433.7L195.5,437.3L195.7,435.8L181.2,439.8ZM193.7,438.3L208.5,434.6L207.5,433.5L214.3,433.8L208.5,437.3L208.8,435.8L194.0,439.6ZM206.6,438.2L221.7,434.6L220.8,433.4L227.5,433.8L221.7,437.2L222.0,435.8L206.9,439.4ZM219.4,438.1L235.2,434.5L234.3,433.4L241.0,433.9L235.1,437.2L235.5,435.8L219.7,439.3ZM232.2,438.0L248.7,434.4L247.8,433.3L254.5,433.8L248.6,437.1L249.0,435.7L232.5,439.2ZM245.1,437.9L262.1,434.4L261.2,433.3L268.0,433.9L262.0,437.1L262.4,435.7L245.3,439.2ZM257.9,437.8L275.5,434.4L274.6,433.3L281.4,433.9L275.4,437.1L275.8,435.7L258.1,439.1ZM270.7,437.8L288.8,434.5L287.9,433.3L294.7,434.1L288.6,437.2L289.1,435.8L271.0,439.1ZM283.5,437.8L302.1,434.6L301.2,433.4L307.9,434.2L301.9,437.3L302.3,435.9L283.8,439.1ZM296.4,437.8L315.3,434.7L314.5,433.5L321.2,434.4L315.1,437.4L315.5,436.0L296.6,439.1ZM309.2,437.8L328.6,434.9L327.8,433.7L334.5,434.7L328.4,437.6L328.8,436.2L309.4,439.1ZM322.1,437.9L341.8,435.4L341.0,434.1L347.7,435.3L341.5,438.0L342.0,436.6L322.2,439.2ZM334.9,438.0L354.7,435.9L354.0,434.7L360.6,435.9L354.4,438.6L354.9,437.2L335.0,439.3ZM347.7,438.1L368.2,436.4L367.5,435.2L374.1,436.6L367.8,439.1L368.3,437.7L347.8,439.4ZM360.6,438.2L382.0,437.0L381.3,435.8L387.9,437.3L381.5,439.6L382.1,438.3L360.7,439.5ZM373.4,438.4L395.6,437.7L394.9,436.5L401.5,438.2L395.0,440.4L395.7,439.0L373.5,439.7ZM386.3,438.6L409.0,438.5L408.3,437.2L414.8,439.2L408.3,441.1L409.0,439.8L386.3,439.9ZM399.1,438.8L422.2,439.4L421.6,438.0L428.0,440.1L421.5,441.9L422.1,440.7L399.1,440.1ZM411.9,439.0L435.3,439.7L434.7,438.4L441.1,440.5L434.6,442.3L435.2,441.0L411.9,440.3ZM424.8,439.3L448.4,440.1L447.8,438.7L454.2,440.9L447.6,442.6L448.3,441.4L424.7,440.6ZM437.6,439.5L461.5,440.4L460.9,439.1L467.3,441.3L460.8,443.0L461.5,441.7L437.5,440.8ZM450.4,439.8L474.7,440.8L474.1,439.5L480.5,441.7L473.9,443.4L474.6,442.1L450.3,441.1ZM463.2,440.2L487.9,441.3L487.3,439.9L493.7,442.2L487.2,443.8L487.9,442.6L463.2,441.5ZM476.0,440.5L501.2,441.7L500.6,440.4L507.0,442.7L500.5,444.3L501.2,443.0L476.0,441.8ZM488.9,440.9L514.6,442.2L514.0,440.9L520.4,443.2L513.8,444.8L514.5,443.5L488.8,442.2ZM501.7,441.3L528.0,442.7L527.4,441.4L533.8,443.7L527.2,445.3L527.9,444.0L501.6,442.6ZM52.2,429.1L66.4,423.5L65.3,422.5L72.1,421.9L66.7,426.1L66.9,424.7L52.7,430.3ZM65.1,428.7L79.8,424.0L78.8,422.9L85.6,422.8L80.0,426.6L80.2,425.2L65.5,429.9ZM77.9,428.3L92.8,423.6L91.8,422.5L98.6,422.4L93.0,426.2L93.2,424.8L78.3,429.5ZM90.7,427.9L105.7,423.2L104.7,422.2L111.5,422.1L105.9,425.9L106.1,424.5L91.1,429.2ZM103.6,427.6L118.6,422.9L117.6,421.9L124.4,421.8L118.8,425.6L119.0,424.2L104.0,428.8ZM116.4,427.3L131.6,422.6L130.6,421.6L137.3,421.5L131.7,425.3L131.9,423.9L116.8,428.5ZM129.3,427.0L144.6,422.3L143.6,421.3L150.3,421.3L144.7,425.0L144.9,423.6L129.7,428.2ZM142.1,426.7L157.7,422.2L156.7,421.2L163.5,421.3L157.8,424.9L158.0,423.5L142.5,428.0ZM155.0,426.5L170.8,422.2L169.8,421.1L176.6,421.3L170.8,424.9L171.1,423.5L155.3,427.7ZM167.8,426.2L183.8,422.2L182.9,421.1L189.7,421.4L183.8,424.9L184.2,423.4L168.2,427.5ZM180.7,426.0L196.9,422.2L196.0,421.1L202.8,421.4L196.9,424.8L197.2,423.4L181.0,427.3ZM193.5,425.9L210.1,422.2L209.2,421.0L215.9,421.5L210.0,424.8L210.4,423.4L193.8,427.1ZM206.4,425.7L223.3,422.1L222.4,421.0L229.2,421.6L223.2,424.8L223.6,423.4L206.7,427.0ZM219.3,425.6L236.7,422.1L235.8,421.0L242.5,421.7L236.5,424.8L236.9,423.4L219.5,426.9ZM232.1,425.5L250.0,422.1L249.1,421.0L255.9,421.7L249.9,424.8L250.3,423.4L232.3,426.8ZM245.0,425.4L263.3,422.2L262.4,421.0L269.2,421.8L263.1,424.8L263.5,423.5L245.2,426.7ZM257.8,425.4L276.6,422.2L275.7,421.1L282.4,421.9L276.3,424.9L276.8,423.5L258.0,426.6ZM270.7,425.3L289.8,422.3L289.0,421.2L295.7,422.1L289.6,425.0L290.0,423.6L270.9,426.6ZM283.5,425.3L303.0,422.5L302.1,421.3L308.8,422.3L302.7,425.2L303.2,423.8L283.7,426.6ZM296.4,425.3L316.2,422.7L315.3,421.5L322.0,422.5L315.9,425.3L316.3,423.9L296.6,426.6ZM309.2,425.4L329.5,422.8L328.7,421.6L335.4,422.8L329.2,425.5L329.7,424.1L309.4,426.7ZM322.1,425.4L342.9,423.2L342.1,422.0L348.8,423.3L342.6,425.9L343.1,424.5L322.2,426.7ZM335.0,425.5L356.3,423.7L355.5,422.5L362.2,423.9L355.8,426.4L356.4,425.0L335.1,426.8ZM347.8,425.6L369.8,424.2L369.0,423.0L375.6,424.5L369.3,426.9L369.8,425.5L347.9,426.9ZM360.7,425.8L383.4,424.8L382.7,423.5L389.2,425.2L382.8,427.4L383.4,426.1L360.7,427.1ZM373.6,425.9L396.9,425.5L396.2,424.3L402.8,426.1L396.3,428.2L396.9,426.8L373.6,427.2ZM386.4,426.1L410.3,426.4L409.6,425.0L416.1,427.1L409.6,428.9L410.3,427.7L386.4,427.4ZM399.3,426.3L423.4,427.2L422.8,425.9L429.2,428.1L422.7,429.8L423.4,428.5L399.2,427.6ZM412.1,426.6L436.5,427.6L435.9,426.2L442.3,428.4L435.7,430.1L436.4,428.9L412.1,427.9ZM425.0,426.8L449.5,427.9L448.9,426.6L455.3,428.8L448.7,430.5L449.4,429.2L424.9,428.1ZM437.8,427.1L462.5,428.3L461.9,426.9L468.3,429.2L461.8,430.8L462.5,429.6L437.8,428.4ZM450.7,427.4L475.6,428.7L475.0,427.3L481.4,429.6L474.8,431.2L475.6,430.0L450.6,428.7ZM463.5,427.7L488.8,429.1L488.2,427.8L494.6,430.1L488.0,431.7L488.7,430.4L463.4,429.0ZM476.4,428.1L502.0,429.6L501.4,428.2L507.8,430.5L501.2,432.1L501.9,430.9L476.3,429.4ZM489.2,428.4L515.2,430.0L514.6,428.7L521.0,431.0L514.4,432.6L515.1,431.3L489.1,429.7ZM502.0,428.8L528.4,430.5L527.8,429.2L534.2,431.6L527.6,433.1L528.3,431.8L502.0,430.1ZM51.8,416.6L67.8,411.2L66.8,410.2L73.6,410.0L68.0,413.9L68.2,412.5L52.2,417.8ZM64.7,416.2L80.9,411.4L80.0,410.4L86.7,410.4L81.0,414.1L81.3,412.7L65.0,417.4ZM77.5,415.8L93.9,411.1L92.9,410.0L99.7,410.1L94.0,413.8L94.3,412.3L77.9,417.0ZM90.4,415.4L106.9,410.8L105.9,409.7L112.7,409.8L107.0,413.4L107.2,412.0L90.7,416.7ZM103.2,415.1L119.8,410.5L118.8,409.4L125.6,409.5L119.9,413.2L120.2,411.7L103.6,416.4ZM116.1,414.8L132.8,410.2L131.8,409.1L138.6,409.3L132.8,412.9L133.1,411.5L116.5,416.0ZM129.0,414.5L145.8,410.0L144.8,408.9L151.6,409.1L145.8,412.6L146.1,411.2L129.3,415.8ZM141.9,414.2L158.9,409.9L157.9,408.8L164.7,409.1L158.9,412.6L159.2,411.2L142.2,415.5ZM154.7,414.0L172.0,409.9L171.1,408.8L177.8,409.2L172.0,412.6L172.3,411.1L155.0,415.3ZM167.6,413.8L185.2,409.9L184.3,408.7L191.1,409.2L185.1,412.5L185.5,411.1L167.9,415.0ZM180.5,413.6L198.4,409.9L197.5,408.7L204.3,409.3L198.3,412.5L198.7,411.1L180.8,414.8ZM193.4,413.4L211.6,409.8L210.8,408.7L217.5,409.4L211.5,412.5L211.9,411.1L193.6,414.7ZM206.2,413.2L224.9,409.8L224.0,408.7L230.8,409.4L224.7,412.5L225.1,411.1L206.5,414.5ZM219.1,413.1L238.2,409.9L237.3,408.7L244.0,409.5L238.0,412.5L238.4,411.2L219.3,414.4ZM232.0,413.0L251.5,409.9L250.6,408.7L257.3,409.6L251.2,412.6L251.7,411.2L232.2,414.3ZM244.9,412.9L264.5,410.0L263.6,408.8L270.3,409.8L264.2,412.7L264.7,411.3L245.1,414.2ZM257.8,412.9L277.5,410.1L276.7,408.9L283.4,410.0L277.2,412.8L277.7,411.4L257.9,414.2ZM270.6,412.9L290.7,410.3L289.9,409.1L296.6,410.2L290.4,412.9L290.9,411.6L270.8,414.2ZM283.5,412.9L304.0,410.4L303.2,409.2L309.9,410.4L303.7,413.1L304.2,411.7L283.7,414.2ZM296.4,412.9L317.4,410.6L316.6,409.4L323.3,410.6L317.0,413.2L317.5,411.9L296.5,414.2ZM309.3,412.9L330.8,410.8L330.1,409.6L336.7,410.9L330.5,413.4L331.0,412.1L309.4,414.2ZM322.2,413.0L344.3,411.2L343.5,409.9L350.1,411.3L343.8,413.8L344.4,412.5L322.3,414.3ZM335.0,413.1L357.7,411.6L357.0,410.3L363.6,411.9L357.2,414.2L357.8,412.9L335.1,414.4ZM347.9,413.2L371.2,412.1L370.5,410.8L377.1,412.4L370.7,414.7L371.2,413.4L348.0,414.5ZM360.8,413.3L384.8,412.6L384.1,411.3L390.6,413.1L384.2,415.2L384.8,413.9L360.8,414.6ZM373.7,413.5L398.4,413.4L397.7,412.1L404.2,414.0L397.8,416.0L398.4,414.7L373.7,414.8ZM386.6,413.7L411.7,414.2L411.1,412.9L417.6,415.0L411.0,416.8L411.7,415.5L386.5,415.0ZM399.5,413.9L424.7,415.1L424.1,413.7L430.5,416.0L424.0,417.6L424.7,416.4L399.4,415.2ZM412.3,414.1L437.6,415.4L437.0,414.1L443.4,416.4L436.8,418.0L437.6,416.7L412.3,415.4ZM425.2,414.4L450.5,415.8L450.0,414.4L456.3,416.7L449.7,418.3L450.5,417.1L425.1,415.7ZM438.1,414.7L463.5,416.1L462.9,414.8L469.3,417.1L462.7,418.7L463.4,417.4L438.0,416.0ZM450.9,415.0L476.5,416.5L475.9,415.2L482.3,417.5L475.7,419.1L476.4,417.8L450.9,416.3ZM463.8,415.3L489.6,416.9L489.0,415.6L495.4,418.0L488.8,419.5L489.5,418.2L463.7,416.6ZM476.7,415.6L502.7,417.4L502.1,416.0L508.5,418.4L501.8,419.9L502.6,418.7L476.6,416.9ZM489.5,416.0L515.8,417.9L515.2,416.5L521.6,418.9L514.9,420.4L515.7,419.2L489.4,417.3ZM502.4,416.4L529.0,418.4L528.5,417.0L534.8,419.4L528.2,420.9L528.9,419.7L502.3,417.7ZM51.3,404.1L69.0,398.8L68.0,397.7L74.8,397.7L69.1,401.4L69.3,400.0L51.7,405.4ZM64.2,403.7L82.1,399.0L81.1,397.9L87.9,398.1L82.1,401.6L82.4,400.2L64.6,405.0ZM77.1,403.3L95.1,398.6L94.1,397.6L100.9,397.8L95.1,401.3L95.4,399.9L77.5,404.6ZM90.0,403.0L108.0,398.4L107.1,397.3L113.9,397.5L108.0,401.0L108.4,399.6L90.3,404.2ZM102.9,402.6L121.0,398.1L120.1,397.0L126.8,397.3L121.0,400.8L121.3,399.4L103.2,403.9ZM115.8,402.3L134.0,397.9L133.0,396.8L139.8,397.1L134.0,400.6L134.3,399.1L116.1,403.6ZM128.7,402.0L147.0,397.7L146.0,396.6L152.8,396.9L146.9,400.4L147.3,398.9L129.0,403.3ZM141.6,401.8L160.0,397.7L159.1,396.5L165.9,397.0L160.0,400.3L160.3,398.9L141.9,403.0ZM154.5,401.5L173.2,397.7L172.3,396.5L179.1,397.1L173.1,400.3L173.5,398.9L154.7,402.8ZM167.4,401.3L186.5,397.7L185.7,396.5L192.4,397.2L186.4,400.3L186.8,398.9L167.6,402.6ZM180.3,401.1L199.8,397.7L199.0,396.5L205.7,397.3L199.6,400.3L200.1,398.9L180.5,402.4ZM193.2,400.9L212.9,397.7L212.1,396.5L218.8,397.3L212.7,400.3L213.1,398.9L193.4,402.2ZM206.1,400.8L226.2,397.7L225.3,396.5L232.1,397.4L225.9,400.3L226.4,399.0L206.3,402.1ZM219.0,400.7L239.5,397.7L238.7,396.5L245.4,397.5L239.2,400.4L239.7,399.0L219.2,401.9ZM231.9,400.6L252.8,397.8L251.9,396.6L258.6,397.6L252.5,400.4L252.9,399.1L232.1,401.8ZM244.8,400.5L265.9,397.9L265.1,396.7L271.8,397.8L265.6,400.5L266.1,399.2L244.9,401.8ZM257.7,400.4L279.1,398.0L278.3,396.8L285.0,398.0L278.7,400.7L279.2,399.3L257.8,401.7ZM270.6,400.4L292.4,398.2L291.6,396.9L298.2,398.2L292.0,400.8L292.5,399.5L270.7,401.7ZM283.5,400.4L305.6,398.3L304.8,397.1L311.5,398.5L305.2,401.0L305.7,399.6L283.6,401.7ZM296.4,400.4L318.9,398.6L318.1,397.3L324.8,398.7L318.5,401.2L319.0,399.9L296.5,401.7ZM309.3,400.5L332.2,398.8L331.5,397.5L338.1,399.0L331.8,401.4L332.3,400.1L309.4,401.8ZM322.2,400.5L345.6,399.1L344.9,397.9L351.5,399.4L345.1,401.8L345.7,400.4L322.3,401.8ZM335.1,400.6L359.0,399.5L358.3,398.3L364.9,399.9L358.5,402.2L359.1,400.8L335.2,401.9ZM348.0,400.7L372.5,400.0L371.8,398.7L378.4,400.4L371.9,402.6L372.5,401.3L348.0,402.0ZM360.9,400.9L386.1,400.4L385.4,399.1L392.0,401.0L385.5,403.0L386.1,401.7L360.9,402.2ZM373.8,401.0L400.0,401.2L399.4,399.9L405.9,401.9L399.4,403.8L400.0,402.5L373.8,402.3ZM386.7,401.2L413.1,402.1L412.5,400.8L419.0,402.9L412.4,404.7L413.1,403.4L386.7,402.5ZM399.6,401.4L426.0,403.0L425.4,401.6L431.8,404.0L425.2,405.5L425.9,404.3L399.6,402.7ZM412.5,401.7L438.7,403.3L438.2,402.0L444.5,404.3L437.9,405.8L438.7,404.6L412.5,403.0ZM425.4,401.9L451.5,403.6L451.0,402.3L457.3,404.7L450.7,406.2L451.4,404.9L425.3,403.2ZM438.3,402.2L464.4,404.0L463.8,402.6L470.2,405.0L463.6,406.5L464.3,405.3L438.2,403.5ZM451.2,402.5L477.3,404.4L476.8,403.0L483.1,405.4L476.5,406.9L477.2,405.7L451.1,403.8ZM464.1,402.8L490.3,404.8L489.8,403.4L496.1,405.9L489.5,407.3L490.2,406.1L464.0,404.1ZM477.0,403.2L503.3,405.2L502.8,403.9L509.1,406.3L502.5,407.8L503.2,406.5L476.9,404.5ZM489.9,403.6L517.0,405.7L516.4,404.4L522.7,406.8L516.1,408.3L516.9,407.0L489.8,404.9ZM502.8,404.0L530.4,406.2L529.9,404.9L536.2,407.4L529.6,408.8L530.3,407.5L502.7,405.3ZM50.9,391.6L69.9,386.7L68.9,385.6L75.7,385.9L69.9,389.4L70.2,388.0L51.2,392.9ZM63.8,391.2L83.1,386.7L82.2,385.6L89.0,386.0L83.1,389.4L83.4,388.0L64.1,392.5ZM76.7,390.8L96.2,386.4L95.3,385.3L102.0,385.8L96.1,389.1L96.5,387.7L77.0,392.1ZM89.7,390.5L109.1,386.2L108.2,385.1L115.0,385.6L109.1,388.9L109.4,387.4L89.9,391.8ZM102.6,390.2L122.1,386.0L121.2,384.8L127.9,385.4L122.0,388.6L122.3,387.2L102.8,391.4ZM115.5,389.8L135.0,385.8L134.1,384.6L140.9,385.2L134.9,388.4L135.3,387.0L115.7,391.1ZM128.4,389.5L147.9,385.6L147.0,384.4L153.8,385.1L147.8,388.3L148.2,386.9L128.6,390.8ZM141.3,389.3L160.9,385.6L160.0,384.4L166.8,385.1L160.8,388.3L161.2,386.9L141.6,390.6ZM154.2,389.0L174.2,385.6L173.3,384.4L180.0,385.2L174.0,388.3L174.4,386.9L154.5,390.3ZM167.2,388.8L187.8,385.6L186.9,384.4L193.6,385.3L187.5,388.2L188.0,386.8L167.4,390.1ZM180.1,388.6L201.2,385.5L200.4,384.4L207.1,385.3L201.0,388.2L201.4,386.8L180.3,389.9ZM193.0,388.5L214.7,385.5L213.9,384.3L220.6,385.4L214.4,388.2L214.8,386.8L193.2,389.7ZM205.9,388.3L228.1,385.5L227.3,384.3L233.9,385.4L227.7,388.2L228.2,386.8L206.1,389.6ZM218.8,388.2L241.4,385.5L240.6,384.3L247.2,385.5L241.0,388.2L241.5,386.8L219.0,389.5ZM231.8,388.1L254.5,385.6L253.8,384.4L260.4,385.6L254.2,388.3L254.7,386.9L231.9,389.4ZM244.7,388.0L267.7,385.7L266.9,384.5L273.6,385.8L267.3,388.4L267.8,387.0L244.8,389.3ZM257.6,388.0L280.8,385.9L280.1,384.6L286.7,386.0L280.4,388.5L280.9,387.1L257.7,389.3ZM270.5,387.9L294.0,386.0L293.2,384.8L299.9,386.2L293.5,388.7L294.1,387.3L270.7,389.2ZM283.5,387.9L307.1,386.2L306.4,384.9L313.0,386.4L306.7,388.8L307.2,387.5L283.6,389.2ZM296.4,388.0L320.3,386.4L319.6,385.1L326.2,386.7L319.8,389.0L320.4,387.7L296.5,389.3ZM309.3,388.0L333.6,386.6L332.8,385.4L339.4,386.9L333.1,389.3L333.6,387.9L309.4,389.3ZM322.2,388.1L346.9,387.0L346.2,385.7L352.7,387.4L346.3,389.6L346.9,388.3L322.3,389.4ZM335.2,388.2L360.2,387.4L359.5,386.1L366.1,387.9L359.7,390.0L360.3,388.7L335.2,389.5ZM348.1,388.3L373.7,387.8L373.0,386.5L379.5,388.4L373.1,390.4L373.7,389.1L348.1,389.6ZM361.0,388.4L387.2,388.3L386.6,387.0L393.1,388.9L386.6,390.9L387.2,389.6L361.0,389.7ZM374.0,388.6L400.8,389.1L400.2,387.8L406.7,389.8L400.1,391.7L400.8,390.4L373.9,389.9ZM386.9,388.8L414.2,389.9L413.6,388.6L420.0,390.8L413.5,392.5L414.2,391.2L386.8,390.1ZM399.8,389.0L427.3,390.7L426.7,389.4L433.1,391.8L426.5,393.3L427.2,392.0L399.7,390.3ZM412.7,389.2L440.2,391.1L439.6,389.7L446.0,392.1L439.4,393.6L440.1,392.4L412.6,390.5ZM425.7,389.5L453.0,391.4L452.4,390.0L458.8,392.4L452.2,393.9L452.9,392.7L425.6,390.8ZM438.6,389.8L465.9,391.7L465.4,390.4L471.7,392.8L465.1,394.3L465.8,393.0L438.5,391.1ZM451.5,390.1L478.9,392.1L478.4,390.8L484.7,393.2L478.1,394.7L478.8,393.4L451.4,391.4ZM464.4,390.4L492.2,392.6L491.7,391.2L498.0,393.7L491.4,395.1L492.1,393.9L464.3,391.7ZM477.3,390.7L505.7,393.0L505.1,391.7L511.4,394.1L504.8,395.6L505.6,394.3L477.2,392.0ZM490.2,391.1L519.1,393.5L518.6,392.2L524.9,394.7L518.2,396.1L519.0,394.8L490.1,392.4ZM503.1,391.5L532.3,394.0L531.8,392.7L538.1,395.2L531.5,396.6L532.2,395.3L503.0,392.8ZM50.5,379.2L71.3,373.9L70.4,372.8L77.2,373.0L71.3,376.5L71.7,375.1L50.8,380.4ZM63.4,378.8L84.8,374.5L83.9,373.4L90.7,374.0L84.7,377.2L85.1,375.8L63.7,380.0ZM76.4,378.4L97.9,374.2L97.0,373.1L103.8,373.8L97.8,376.9L98.2,375.5L76.6,379.7ZM89.3,378.0L110.9,374.0L110.0,372.9L116.7,373.6L110.7,376.7L111.1,375.3L89.5,379.3ZM102.2,377.7L123.8,373.8L122.9,372.7L129.7,373.4L123.6,376.5L124.0,375.1L102.4,379.0ZM115.2,377.4L136.8,373.6L135.9,372.5L142.6,373.3L136.6,376.3L137.0,374.9L115.4,378.6ZM128.1,377.1L149.8,373.5L148.9,372.3L155.7,373.1L149.6,376.1L150.0,374.7L128.3,378.4ZM141.0,376.8L162.9,373.4L162.1,372.3L168.8,373.2L162.6,376.1L163.1,374.7L141.2,378.1ZM154.0,376.6L176.1,373.5L175.3,372.3L182.0,373.3L175.9,376.1L176.3,374.7L154.2,377.9ZM166.9,376.3L189.5,373.5L188.7,372.3L195.4,373.4L189.2,376.1L189.7,374.8L167.1,377.6ZM179.9,376.2L203.0,373.5L202.2,372.3L208.9,373.5L202.6,376.1L203.1,374.8L180.0,377.4ZM192.8,376.0L216.5,373.4L215.7,372.2L222.4,373.5L216.1,376.1L216.7,374.7L193.0,377.3ZM205.8,375.8L230.0,373.4L229.3,372.2L235.9,373.5L229.7,376.1L230.2,374.7L205.9,377.1ZM218.7,375.7L243.3,373.5L242.5,372.2L249.2,373.6L242.9,376.1L243.4,374.8L218.8,377.0ZM231.7,375.6L256.4,373.6L255.6,372.3L262.3,373.7L256.0,376.2L256.5,374.8L231.8,376.9ZM244.6,375.5L269.4,373.6L268.7,372.4L275.3,373.8L269.0,376.3L269.5,374.9L244.7,376.8ZM257.6,375.5L282.5,373.8L281.8,372.5L288.4,374.0L282.0,376.4L282.6,375.1L257.6,376.8ZM270.5,375.5L295.6,373.9L294.8,372.7L301.4,374.2L295.1,376.5L295.6,375.2L270.6,376.8ZM283.4,375.5L308.6,374.1L307.9,372.8L314.5,374.4L308.1,376.7L308.7,375.4L283.5,376.8ZM296.4,375.5L321.7,374.3L321.0,373.0L327.6,374.6L321.2,376.9L321.8,375.6L296.5,376.8ZM309.3,375.5L334.8,374.5L334.1,373.2L340.7,374.9L334.3,377.1L334.9,375.8L309.4,376.8ZM322.3,375.6L348.1,374.9L347.4,373.6L353.9,375.3L347.5,377.5L348.1,376.2L322.3,376.9ZM335.2,375.7L361.3,375.3L360.7,374.0L367.2,375.8L360.7,377.9L361.4,376.6L335.3,377.0ZM348.2,375.8L374.6,375.7L373.9,374.4L380.5,376.3L374.0,378.3L374.6,377.0L348.2,377.1ZM361.1,376.0L388.4,376.2L387.7,374.9L394.2,376.9L387.7,378.8L388.4,377.5L361.1,377.3ZM374.1,376.1L402.1,376.9L401.5,375.6L407.9,377.7L401.3,379.5L402.0,378.2L374.1,377.4ZM387.0,376.3L415.5,377.7L415.0,376.4L421.4,378.6L414.8,380.3L415.5,379.0L387.0,377.6ZM400.0,376.5L428.8,378.5L428.3,377.2L434.6,379.6L428.0,381.1L428.8,379.8L399.9,377.8ZM412.9,376.8L442.1,378.8L441.5,377.5L447.9,379.9L441.2,381.4L442.0,380.1L412.8,378.1ZM425.9,377.0L455.2,379.2L454.7,377.8L461.0,380.3L454.4,381.7L455.1,380.5L425.8,378.3ZM438.8,377.3L468.4,379.5L467.8,378.2L474.2,380.6L467.5,382.1L468.3,380.8L438.7,378.6ZM451.7,377.6L481.6,379.9L481.0,378.6L487.3,381.0L480.7,382.5L481.5,381.2L451.6,378.9ZM464.7,377.9L494.8,380.4L494.3,379.0L500.6,381.5L494.0,382.9L494.7,381.6L464.6,379.2ZM477.6,378.3L508.1,380.8L507.6,379.5L513.9,381.9L507.3,383.3L508.0,382.1L477.5,379.6ZM490.6,378.7L521.4,381.3L520.9,379.9L527.2,382.4L520.6,383.8L521.3,382.6L490.4,380.0ZM503.5,379.1L534.6,381.8L534.1,380.4L540.4,382.9L533.7,384.3L534.5,383.1L503.4,380.4ZM50.0,366.7L73.7,360.2L72.7,359.1L79.5,359.3L73.8,362.9L74.0,361.4L50.3,368.0ZM63.0,366.3L87.3,362.4L86.4,361.2L93.2,362.1L87.0,365.0L87.5,363.6L63.2,367.6ZM76.0,365.9L100.0,362.2L99.2,361.0L105.9,361.9L99.8,364.8L100.2,363.4L76.2,367.2ZM88.9,365.5L112.8,362.0L111.9,360.8L118.6,361.8L112.5,364.6L113.0,363.3L89.1,366.8ZM101.9,365.2L125.6,361.8L124.8,360.6L131.5,361.6L125.3,364.5L125.8,363.1L102.1,366.5ZM114.8,364.9L138.6,361.6L137.8,360.4L144.5,361.5L138.3,364.3L138.8,362.9L115.0,366.2ZM127.8,364.6L151.6,361.5L150.8,360.3L157.5,361.4L151.3,364.1L151.8,362.8L128.0,365.9ZM140.8,364.3L164.7,361.5L163.9,360.2L170.6,361.4L164.4,364.1L164.9,362.8L140.9,365.6ZM153.7,364.1L178.0,361.5L177.2,360.3L183.8,361.5L177.6,364.1L178.1,362.8L153.9,365.4ZM166.7,363.9L191.2,361.5L190.5,360.3L197.1,361.6L190.8,364.2L191.3,362.8L166.8,365.2ZM179.7,363.7L204.6,361.6L203.9,360.3L210.5,361.7L204.2,364.2L204.7,362.9L179.8,365.0ZM192.6,363.5L218.3,361.5L217.6,360.3L224.2,361.7L217.9,364.1L218.4,362.8L192.7,364.8ZM205.6,363.4L231.9,361.5L231.2,360.2L237.8,361.7L231.5,364.1L232.0,362.8L205.7,364.7ZM218.6,363.3L244.9,361.5L244.2,360.3L250.8,361.8L244.5,364.2L245.0,362.8L218.7,364.5ZM231.5,363.2L257.9,361.6L257.2,360.3L263.8,361.9L257.4,364.2L258.0,362.9L231.6,364.5ZM244.5,363.1L270.9,361.7L270.2,360.4L276.8,362.0L270.4,364.3L271.0,363.0L244.6,364.4ZM257.5,363.0L283.9,361.8L283.2,360.5L289.8,362.1L283.4,364.4L284.0,363.1L257.5,364.3ZM270.5,363.0L296.9,361.9L296.2,360.6L302.7,362.3L296.3,364.5L296.9,363.2L270.5,364.3ZM283.4,363.0L309.9,362.0L309.2,360.8L315.7,362.5L309.3,364.7L309.9,363.3L283.5,364.3ZM296.4,363.0L322.8,362.2L322.1,360.9L328.7,362.7L322.3,364.8L322.9,363.5L296.4,364.3ZM309.4,363.1L335.8,362.4L335.1,361.1L341.7,362.9L335.2,365.0L335.8,363.7L309.4,364.4ZM322.3,363.1L349.2,362.8L348.5,361.5L355.1,363.3L348.6,365.4L349.2,364.1L322.4,364.4ZM335.3,363.2L362.7,363.2L362.1,361.9L368.6,363.8L362.1,365.8L362.7,364.5L335.3,364.5ZM348.3,363.4L376.4,363.6L375.7,362.3L382.2,364.3L375.7,366.2L376.4,364.9L348.3,364.7ZM361.3,363.5L390.0,364.1L389.4,362.8L395.8,364.9L389.3,366.7L390.0,365.4L361.2,364.8ZM374.2,363.7L403.5,364.8L402.9,363.5L409.4,365.7L402.8,367.4L403.5,366.1L374.2,365.0ZM387.2,363.9L417.0,365.5L416.4,364.2L422.8,366.5L416.2,368.1L416.9,366.8L387.1,365.2ZM400.2,364.1L430.5,366.3L429.9,365.0L436.3,367.4L429.6,368.8L430.4,367.6L400.1,365.4ZM413.1,364.3L444.0,366.6L443.5,365.3L449.8,367.7L443.2,369.2L443.9,367.9L413.0,365.6ZM426.1,364.6L457.5,367.0L457.0,365.6L463.3,368.1L456.7,369.5L457.4,368.3L426.0,365.9ZM439.1,364.9L470.8,367.3L470.3,366.0L476.6,368.5L470.0,369.9L470.7,368.6L439.0,366.2ZM452.0,365.2L484.1,367.7L483.5,366.4L489.9,368.8L483.2,370.3L484.0,369.0L451.9,366.5ZM465.0,365.5L497.3,368.1L496.8,366.8L503.1,369.3L496.5,370.7L497.2,369.4L464.9,366.8ZM477.9,365.9L510.6,368.6L510.0,367.2L516.4,369.7L509.7,371.1L510.5,369.9L477.8,367.2ZM490.9,366.2L523.6,369.0L523.1,367.7L529.4,370.2L522.8,371.6L523.5,370.3L490.8,367.5ZM503.8,366.6L536.7,369.5L536.1,368.1L542.4,370.6L535.8,372.0L536.5,370.8L503.7,367.9ZM49.5,354.2L75.1,346.7L74.1,345.6L80.9,345.6L75.2,349.3L75.5,347.9L49.9,355.5ZM62.6,353.8L89.0,350.5L88.2,349.3L94.9,350.4L88.7,353.1L89.2,351.8L62.8,355.1ZM75.6,353.4L101.8,350.3L101.0,349.1L107.7,350.2L101.4,352.9L101.9,351.6L75.7,354.7ZM88.6,353.1L114.5,350.1L113.7,348.9L120.4,350.1L114.2,352.8L114.7,351.4L88.7,354.4ZM101.5,352.7L127.3,349.9L126.5,348.7L133.2,350.0L126.9,352.6L127.4,351.2L101.7,354.0ZM114.5,352.4L140.3,349.8L139.5,348.6L146.2,349.8L139.9,352.4L140.4,351.1L114.7,353.7ZM127.5,352.1L153.4,349.6L152.6,348.4L159.2,349.7L153.0,352.3L153.5,350.9L127.6,353.4ZM140.5,351.9L166.4,349.6L165.7,348.4L172.3,349.8L166.0,352.3L166.5,350.9L140.6,353.2ZM153.5,351.6L179.8,349.7L179.0,348.4L185.6,349.9L179.3,352.3L179.9,350.9L153.6,352.9ZM166.5,351.4L192.8,349.7L192.1,348.5L198.7,350.0L192.3,352.4L192.9,351.0L166.6,352.7ZM179.5,351.2L205.8,349.8L205.1,348.5L211.7,350.1L205.3,352.4L205.9,351.1L179.5,352.5ZM192.5,351.0L219.4,349.7L218.7,348.4L225.3,350.1L218.9,352.3L219.5,351.0L192.5,352.3ZM205.4,350.9L233.0,349.7L232.3,348.4L238.8,350.1L232.4,352.3L233.0,351.0L205.5,352.2ZM218.4,350.8L246.3,349.7L245.6,348.4L252.1,350.1L245.7,352.3L246.3,351.0L218.5,352.1ZM231.4,350.7L259.4,349.7L258.7,348.5L265.3,350.2L258.9,352.3L259.5,351.0L231.5,352.0ZM244.4,350.6L272.5,349.8L271.8,348.5L278.4,350.2L271.9,352.4L272.6,351.1L244.5,351.9ZM257.4,350.6L285.6,349.8L284.9,348.5L291.5,350.3L285.0,352.4L285.6,351.1L257.4,351.9ZM270.4,350.5L298.7,349.9L298.0,348.6L304.5,350.4L298.1,352.5L298.7,351.2L270.4,351.8ZM283.4,350.5L311.7,350.0L311.1,348.7L317.6,350.6L311.1,352.6L311.8,351.3L283.4,351.8ZM296.4,350.6L324.8,350.2L324.2,348.9L330.7,350.7L324.2,352.8L324.9,351.5L296.4,351.9ZM309.4,350.6L338.0,350.3L337.4,349.0L343.9,350.9L337.4,352.9L338.0,351.6L309.4,351.9ZM322.4,350.7L351.3,350.7L350.7,349.4L357.2,351.4L350.7,353.3L351.3,352.0L322.4,352.0ZM335.4,350.8L364.7,351.1L364.1,349.8L370.6,351.8L364.1,353.7L364.7,352.4L335.4,352.1ZM348.4,350.9L378.2,351.6L377.6,350.3L384.0,352.4L377.5,354.2L378.2,352.9L348.3,352.2ZM361.4,351.0L391.6,352.1L391.0,350.8L397.5,352.9L390.9,354.7L391.6,353.4L361.3,352.3ZM374.4,351.2L405.1,352.7L404.5,351.4L410.9,353.7L404.3,355.3L405.0,354.0L374.3,352.5ZM387.4,351.4L418.5,353.4L417.9,352.0L424.3,354.4L417.7,355.9L418.4,354.7L387.3,352.7ZM400.4,351.6L432.1,354.1L431.5,352.7L437.9,355.2L431.2,356.6L432.0,355.4L400.3,352.9ZM413.3,351.9L445.8,354.4L445.3,353.1L451.6,355.5L445.0,357.0L445.7,355.7L413.2,353.2ZM426.3,352.1L459.3,354.8L458.8,353.4L465.1,355.9L458.5,357.3L459.2,356.1L426.2,353.4ZM439.3,352.4L472.6,355.1L472.0,353.8L478.3,356.2L471.7,357.6L472.5,356.4L439.2,353.7ZM452.3,352.7L485.8,355.5L485.3,354.1L491.6,356.6L484.9,358.0L485.7,356.8L452.2,354.0ZM465.3,353.1L499.0,355.9L498.5,354.5L504.8,357.0L498.2,358.4L498.9,357.2L465.2,354.4ZM478.3,353.4L512.3,356.3L511.7,354.9L518.0,357.4L511.4,358.8L512.2,357.6L478.1,354.7ZM491.2,353.8L525.5,356.7L524.9,355.4L531.3,357.9L524.6,359.3L525.4,358.0L491.1,355.1ZM504.2,354.2L538.6,357.2L538.1,355.8L544.4,358.4L537.7,359.7L538.5,358.5L504.1,355.5ZM49.1,341.8L76.4,335.5L75.5,334.3L82.2,334.8L76.3,338.1L76.7,336.7L49.4,343.0ZM62.2,341.3L90.0,338.8L89.2,337.5L95.9,338.9L89.6,341.4L90.1,340.1L62.3,342.6ZM75.2,341.0L102.8,338.5L102.1,337.3L108.7,338.7L102.4,341.2L102.9,339.8L75.3,342.2ZM88.2,340.6L115.6,338.3L114.8,337.1L121.5,338.5L115.2,341.0L115.7,339.6L88.3,341.9ZM101.2,340.3L128.5,338.2L127.7,336.9L134.3,338.4L128.0,340.8L128.6,339.5L101.3,341.6ZM114.2,339.9L141.5,338.0L140.7,336.7L147.4,338.2L141.0,340.6L141.6,339.3L114.3,341.2ZM127.2,339.7L154.5,337.8L153.8,336.6L160.4,338.1L154.0,340.5L154.6,339.1L127.3,341.0ZM140.2,339.4L167.6,337.8L166.9,336.5L173.5,338.1L167.1,340.4L167.7,339.1L140.3,340.7ZM153.2,339.2L180.8,337.7L180.1,336.5L186.7,338.1L180.3,340.4L180.9,339.0L153.3,340.5ZM166.2,338.9L194.0,337.7L193.3,336.5L199.9,338.1L193.5,340.3L194.1,339.0L166.3,340.2ZM179.3,338.7L207.3,337.7L206.6,336.4L213.2,338.2L206.8,340.3L207.4,339.0L179.3,340.0ZM192.3,338.6L220.8,337.7L220.1,336.4L226.7,338.2L220.2,340.3L220.9,339.0L192.3,339.9ZM205.3,338.4L234.3,337.7L233.6,336.4L240.2,338.2L233.7,340.3L234.3,339.0L205.3,339.7ZM218.3,338.3L247.7,337.8L247.0,336.5L253.5,338.3L247.1,340.4L247.7,339.1L218.3,339.6ZM231.3,338.2L260.9,337.8L260.3,336.5L266.8,338.3L260.3,340.4L260.9,339.1L231.3,339.5ZM244.3,338.2L274.1,337.8L273.5,336.5L280.0,338.4L273.5,340.4L274.1,339.1L244.3,339.5ZM257.3,338.1L287.3,337.9L286.6,336.6L293.1,338.5L286.7,340.5L287.3,339.2L257.4,339.4ZM270.4,338.1L300.4,337.9L299.8,336.7L306.3,338.6L299.8,340.6L300.4,339.2L270.4,339.4ZM283.4,338.1L313.6,338.1L312.9,336.8L319.4,338.7L312.9,340.7L313.6,339.4L283.4,339.4ZM296.4,338.1L326.8,338.2L326.1,336.9L332.6,338.8L326.1,340.8L326.8,339.5L296.4,339.4ZM309.4,338.2L340.0,338.3L339.4,337.0L345.9,339.0L339.3,340.9L340.0,339.6L309.4,339.5ZM322.4,338.2L353.3,338.7L352.7,337.4L359.2,339.4L352.6,341.3L353.3,340.0L322.4,339.5ZM335.4,338.3L366.7,339.1L366.1,337.8L372.5,339.9L366.0,341.7L366.7,340.4L335.4,339.6ZM348.5,338.4L380.0,339.5L379.4,338.2L385.9,340.4L379.3,342.1L380.0,340.8L348.4,339.7ZM361.5,338.6L393.3,340.0L392.7,338.6L399.2,340.9L392.6,342.5L393.3,341.3L361.4,339.9ZM374.5,338.8L406.5,340.6L406.0,339.2L412.3,341.6L405.7,343.1L406.5,341.9L374.4,340.1ZM387.5,339.0L419.9,341.2L419.3,339.9L425.6,342.3L419.0,343.8L419.8,342.5L387.4,340.2ZM400.5,339.2L433.3,341.9L432.8,340.5L439.1,343.0L432.5,344.4L433.2,343.2L400.4,340.5ZM413.5,339.4L447.2,342.2L446.6,340.9L452.9,343.4L446.3,344.8L447.1,343.5L413.4,340.7ZM426.6,339.7L460.8,342.6L460.2,341.2L466.5,343.7L459.9,345.1L460.7,343.9L426.4,341.0ZM439.6,340.0L474.2,342.9L473.7,341.6L480.0,344.1L473.3,345.5L474.1,344.2L439.4,341.3ZM452.6,340.3L487.5,343.3L487.0,341.9L493.3,344.4L486.7,345.8L487.4,344.6L452.5,341.6ZM465.6,340.6L500.9,343.7L500.3,342.3L506.6,344.8L500.0,346.2L500.8,345.0L465.5,341.9ZM478.6,341.0L514.2,344.1L513.7,342.7L520.0,345.2L513.3,346.6L514.1,345.4L478.5,342.3ZM491.6,341.4L527.5,344.5L527.0,343.2L533.3,345.7L526.7,347.1L527.4,345.8L491.5,342.7ZM504.6,341.8L540.8,345.0L540.3,343.6L546.6,346.1L539.9,347.5L540.7,346.3L504.5,343.1ZM48.6,329.3L77.3,322.7L76.4,321.5L83.2,322.0L77.3,325.3L77.6,323.9L48.9,330.6ZM61.8,328.9L91.1,327.1L90.3,325.9L96.9,327.4L90.6,329.8L91.1,328.4L61.8,330.2ZM74.8,328.5L104.0,326.9L103.2,325.6L109.8,327.2L103.5,329.5L104.0,328.2L74.9,329.8ZM87.8,328.1L116.9,326.6L116.1,325.4L122.7,327.0L116.3,329.3L116.9,327.9L87.9,329.4ZM100.8,327.8L129.8,326.4L129.1,325.2L135.6,326.8L129.2,329.1L129.8,327.7L100.9,329.1ZM113.9,327.5L142.8,326.2L142.1,325.0L148.6,326.6L142.2,328.9L142.8,327.5L113.9,328.8ZM126.9,327.2L155.8,326.0L155.1,324.8L161.7,326.5L155.3,328.7L155.9,327.3L126.9,328.5ZM139.9,326.9L168.9,325.9L168.2,324.6L174.8,326.4L168.4,328.5L169.0,327.2L140.0,328.2ZM153.0,326.7L182.1,325.8L181.5,324.5L188.0,326.3L181.6,328.4L182.2,327.1L153.0,328.0ZM166.0,326.5L195.4,325.7L194.7,324.4L201.3,326.2L194.8,328.3L195.5,327.0L166.0,327.8ZM179.0,326.3L208.8,325.7L208.1,324.4L214.7,326.2L208.2,328.3L208.8,327.0L179.1,327.6ZM192.1,326.1L222.2,325.7L221.6,324.4L228.1,326.3L221.6,328.3L222.3,327.0L192.1,327.4ZM205.1,326.0L235.7,325.8L235.1,324.5L241.6,326.4L235.1,328.4L235.7,327.1L205.1,327.3ZM218.2,325.9L249.2,325.9L248.5,324.6L255.0,326.5L248.5,328.5L249.2,327.2L218.2,327.2ZM231.2,325.8L262.5,325.9L261.8,324.6L268.3,326.5L261.8,328.5L262.5,327.2L231.2,327.1ZM244.2,325.7L275.7,325.9L275.1,324.6L281.6,326.6L275.1,328.5L275.7,327.2L244.2,327.0ZM257.3,325.6L289.0,326.0L288.3,324.7L294.8,326.7L288.3,328.6L288.9,327.3L257.3,326.9ZM270.3,325.6L302.2,326.0L301.6,324.7L308.0,326.8L301.5,328.6L302.2,327.3L270.3,326.9ZM283.3,325.6L315.4,326.1L314.8,324.8L321.3,326.9L314.8,328.7L315.4,327.4L283.3,326.9ZM296.4,325.6L328.6,326.3L328.0,325.0L334.5,327.0L327.9,328.9L328.6,327.6L296.4,326.9ZM309.4,325.7L341.9,326.4L341.3,325.1L347.7,327.2L341.2,329.0L341.9,327.7L309.4,327.0ZM322.5,325.8L355.2,326.7L354.6,325.4L361.1,327.5L354.5,329.3L355.2,328.0L322.4,327.1ZM335.5,325.9L368.3,327.1L367.7,325.7L374.2,327.9L367.6,329.6L368.3,328.4L335.5,327.2ZM348.5,326.0L381.6,327.4L381.0,326.1L387.4,328.3L380.8,330.0L381.5,328.7L348.5,327.3ZM361.6,326.1L394.9,327.9L394.3,326.5L400.7,328.8L394.1,330.4L394.9,329.2L361.5,327.4ZM374.6,326.3L408.0,328.4L407.4,327.1L413.8,329.5L407.2,331.0L407.9,329.7L374.5,327.6ZM387.7,326.5L421.3,329.1L420.7,327.7L427.1,330.2L420.4,331.6L421.2,330.4L387.6,327.8ZM400.7,326.7L435.2,329.8L434.7,328.4L441.0,330.9L434.3,332.3L435.1,331.1L400.6,328.0ZM413.7,327.0L448.9,330.1L448.4,328.7L454.7,331.3L448.0,332.6L448.8,331.4L413.6,328.3ZM426.8,327.2L462.4,330.4L461.9,329.1L468.2,331.6L461.6,332.9L462.3,331.7L426.7,328.5ZM439.8,327.5L475.9,330.8L475.3,329.4L481.6,331.9L475.0,333.3L475.8,332.0L439.7,328.8ZM452.8,327.8L489.3,331.1L488.7,329.8L495.0,332.3L488.4,333.6L489.1,332.4L452.7,329.1ZM465.9,328.2L502.7,331.5L502.2,330.1L508.4,332.7L501.8,334.0L502.6,332.8L465.8,329.5ZM478.9,328.5L516.1,331.9L515.6,330.6L521.9,333.1L515.3,334.4L516.0,333.2L478.8,329.8ZM491.9,328.9L529.7,332.4L529.1,331.0L535.4,333.5L528.8,334.9L529.5,333.7L491.8,330.2ZM504.9,329.3L543.1,332.8L542.6,331.5L548.9,334.0L542.2,335.4L543.0,334.1L504.8,330.6ZM48.2,316.8L78.3,310.3L77.4,309.1L84.1,309.7L78.2,313.0L78.6,311.5L48.4,318.1ZM61.3,316.4L92.1,315.6L91.5,314.3L98.0,316.1L91.6,318.2L92.2,316.9L61.4,317.7ZM74.4,316.0L105.1,315.3L104.4,314.0L111.0,315.8L104.5,317.9L105.1,316.6L74.4,317.3ZM87.4,315.7L118.0,315.0L117.4,313.8L123.9,315.6L117.4,317.7L118.1,316.3L87.5,317.0ZM100.5,315.3L131.0,314.8L130.3,313.5L136.8,315.3L130.4,317.4L131.0,316.1L100.5,316.6ZM113.5,315.0L144.0,314.6L143.3,313.3L149.8,315.1L143.3,317.2L144.0,315.9L113.6,316.3ZM126.6,314.7L157.0,314.4L156.4,313.1L162.9,314.9L156.4,317.0L157.0,315.7L126.6,316.0ZM139.6,314.5L170.2,314.2L169.5,312.9L176.0,314.7L169.5,316.8L170.2,315.5L139.7,315.8ZM152.7,314.2L183.4,314.0L182.7,312.7L189.3,314.6L182.8,316.6L183.4,315.3L152.7,315.5ZM165.8,314.0L196.8,313.8L196.1,312.5L202.6,314.4L196.1,316.4L196.8,315.1L165.8,315.3ZM178.8,313.8L210.2,313.7L209.5,312.4L216.0,314.3L209.5,316.3L210.2,315.0L178.8,315.1ZM191.9,313.7L223.6,313.8L223.0,312.5L229.5,314.4L223.0,316.4L223.6,315.1L191.9,315.0ZM204.9,313.5L237.2,313.9L236.6,312.6L243.0,314.6L236.5,316.5L237.2,315.2L204.9,314.8ZM218.0,313.4L250.8,314.0L250.2,312.7L256.7,314.8L250.1,316.6L250.8,315.3L218.0,314.7ZM231.1,313.3L263.9,314.0L263.3,312.7L269.7,314.8L263.2,316.6L263.9,315.3L231.0,314.6ZM244.1,313.2L277.0,314.1L276.4,312.7L282.8,314.9L276.3,316.6L277.0,315.4L244.1,314.5ZM257.2,313.2L290.3,314.1L289.7,312.8L296.1,314.9L289.6,316.7L290.3,315.4L257.2,314.5ZM270.3,313.2L303.6,314.2L303.0,312.9L309.4,315.0L302.9,316.8L303.6,315.5L270.2,314.5ZM283.3,313.2L316.9,314.3L316.3,313.0L322.7,315.1L316.2,316.9L316.9,315.6L283.3,314.5ZM296.4,313.2L330.2,314.4L329.6,313.1L336.0,315.3L329.5,317.0L330.2,315.7L296.3,314.5ZM309.4,313.2L343.6,314.6L343.0,313.2L349.4,315.4L342.8,317.1L343.5,315.9L309.4,314.5ZM322.5,313.3L357.0,314.8L356.4,313.5L362.8,315.7L356.2,317.4L357.0,316.1L322.5,314.6ZM335.6,313.4L370.4,315.1L369.9,313.8L376.3,316.0L369.7,317.7L370.4,316.4L335.5,314.7ZM348.6,313.5L383.8,315.4L383.3,314.1L389.7,316.4L383.1,318.0L383.8,316.7L348.6,314.8ZM361.7,313.7L397.2,315.8L396.6,314.5L403.0,316.8L396.4,318.4L397.1,317.1L361.6,315.0ZM374.8,313.9L410.4,316.4L409.9,315.1L416.2,317.5L409.6,319.0L410.3,317.7L374.7,315.2ZM387.8,314.1L423.8,317.0L423.2,315.7L429.6,318.2L422.9,319.6L423.7,318.3L387.7,315.4ZM400.9,314.3L437.3,317.7L436.8,316.3L443.0,318.9L436.4,320.2L437.2,319.0L400.8,315.6ZM414.0,314.5L450.8,318.0L450.3,316.6L456.5,319.2L449.9,320.5L450.7,319.3L413.8,315.8ZM427.0,314.8L464.2,318.3L463.7,316.9L470.0,319.5L463.3,320.8L464.1,319.6L426.9,316.1ZM440.1,315.1L477.6,318.6L477.0,317.3L483.3,319.8L476.7,321.1L477.4,319.9L439.9,316.4ZM453.1,315.4L491.0,319.0L490.4,317.6L496.7,320.2L490.1,321.5L490.9,320.3L453.0,316.7ZM466.2,315.7L504.4,319.3L503.9,318.0L510.2,320.5L503.6,321.9L504.3,320.6L466.0,317.0ZM479.2,316.1L518.0,319.8L517.5,318.4L523.8,321.0L517.2,322.3L517.9,321.1L479.1,317.4ZM492.3,316.5L531.5,320.2L530.9,318.8L537.2,321.4L530.6,322.7L531.3,321.5L492.1,317.8ZM505.3,316.9L544.8,320.6L544.2,319.3L550.5,321.8L543.9,323.2L544.6,321.9L505.2,318.2ZM47.7,304.4L79.3,298.0L78.4,296.9L85.1,297.5L79.2,300.7L79.5,299.3L48.0,305.6ZM60.9,303.9L93.3,303.9L92.6,302.6L99.1,304.5L92.6,306.5L93.3,305.2L60.9,305.2ZM74.0,303.6L106.3,303.5L105.6,302.2L112.1,304.2L105.6,306.1L106.3,304.8L74.0,304.9ZM87.1,303.2L119.2,303.2L118.5,301.9L125.0,303.9L118.5,305.8L119.2,304.5L87.1,304.5ZM100.1,302.9L132.1,302.9L131.4,301.6L137.9,303.6L131.4,305.5L132.1,304.2L100.1,304.2ZM113.2,302.6L145.1,302.7L144.4,301.4L150.9,303.4L144.4,305.3L145.0,304.0L113.2,303.9ZM126.3,302.3L158.1,302.4L157.5,301.1L164.0,303.1L157.5,305.0L158.1,303.7L126.3,303.6ZM139.4,302.0L171.3,302.2L170.6,300.9L177.1,302.9L170.6,304.8L171.3,303.5L139.4,303.3ZM152.4,301.8L184.5,302.0L183.9,300.7L190.4,302.7L183.9,304.6L184.5,303.3L152.4,303.1ZM165.5,301.6L198.0,301.9L197.4,300.6L203.9,302.6L197.4,304.5L198.0,303.2L165.5,302.9ZM178.6,301.4L211.4,301.8L210.8,300.5L217.3,302.5L210.8,304.4L211.4,303.1L178.6,302.7ZM191.7,301.2L224.6,301.9L223.9,300.6L230.4,302.7L223.8,304.5L224.5,303.2L191.7,302.5ZM204.8,301.1L238.1,302.1L237.5,300.8L243.9,302.9L237.4,304.7L238.1,303.4L204.7,302.4ZM217.9,300.9L251.6,302.3L251.0,301.0L257.4,303.2L250.9,304.9L251.6,303.6L217.8,302.2ZM231.0,300.8L265.0,302.4L264.4,301.1L270.8,303.3L264.3,304.9L265.0,303.7L230.9,302.1ZM244.0,300.8L278.4,302.4L277.8,301.1L284.2,303.3L277.6,305.0L278.4,303.7L244.0,302.1ZM257.1,300.7L291.8,302.5L291.3,301.1L297.6,303.4L291.1,305.0L291.8,303.8L257.1,302.0ZM270.2,300.7L305.3,302.6L304.7,301.2L311.1,303.5L304.5,305.1L305.2,303.9L270.1,302.0ZM283.3,300.7L318.7,302.7L318.1,301.3L324.5,303.7L317.9,305.2L318.6,304.0L283.2,302.0ZM296.4,300.7L332.2,302.8L331.6,301.5L338.0,303.8L331.4,305.4L332.1,304.1L296.3,302.0ZM309.5,300.8L345.6,303.0L345.0,301.6L351.4,304.0L344.8,305.5L345.5,304.3L309.4,302.1ZM322.6,300.9L359.1,303.2L358.6,301.9L364.9,304.2L358.3,305.8L359.0,304.5L322.5,302.2ZM335.6,301.0L372.6,303.5L372.1,302.1L378.4,304.5L371.8,306.0L372.6,304.8L335.6,302.3ZM348.7,301.1L386.1,303.7L385.6,302.4L391.9,304.8L385.3,306.3L386.0,305.0L348.6,302.4ZM361.8,301.2L399.5,304.1L399.0,302.7L405.3,305.1L398.7,306.6L399.4,305.4L361.7,302.5ZM374.9,301.4L412.7,304.6L412.2,303.2L418.5,305.7L411.9,307.1L412.6,305.9L374.8,302.7ZM388.0,301.6L426.0,305.1L425.5,303.7L431.8,306.3L425.2,307.6L425.9,306.4L387.9,302.9ZM401.1,301.8L439.4,305.6L438.9,304.3L445.2,306.9L438.5,308.2L439.3,306.9L401.0,303.1ZM414.2,302.1L452.8,305.9L452.3,304.5L458.6,307.1L451.9,308.4L452.7,307.2L414.0,303.4ZM427.2,302.3L466.0,306.2L465.5,304.8L471.7,307.4L465.1,308.7L465.8,307.5L427.1,303.6ZM440.3,302.6L479.3,306.5L478.7,305.1L485.0,307.7L478.4,309.0L479.1,307.8L440.2,303.9ZM453.4,303.0L492.5,306.8L492.0,305.4L498.3,308.0L491.6,309.3L492.4,308.1L453.3,304.2ZM466.5,303.3L505.9,307.1L505.4,305.8L511.7,308.3L505.0,309.7L505.8,308.4L466.3,304.6ZM479.5,303.7L519.5,307.5L519.0,306.2L525.3,308.8L518.6,310.1L519.4,308.8L479.4,305.0ZM492.6,304.0L533.0,308.0L532.5,306.6L538.8,309.2L532.1,310.5L532.9,309.2L492.5,305.3ZM505.7,304.5L546.3,308.4L545.8,307.0L552.1,309.6L545.4,310.9L546.2,309.7L505.6,305.8ZM47.3,291.9L80.1,286.9L79.2,285.7L86.0,286.7L79.8,289.6L80.3,288.2L47.5,293.2ZM60.5,291.5L93.8,291.8L93.1,290.5L99.6,292.5L93.1,294.4L93.7,293.1L60.5,292.8ZM73.6,291.1L106.8,291.4L106.2,290.1L112.7,292.2L106.2,294.0L106.8,292.7L73.6,292.4ZM86.7,290.7L119.8,291.1L119.2,289.8L125.7,291.9L119.2,293.7L119.8,292.4L86.6,292.0ZM99.8,290.4L132.8,290.9L132.2,289.5L138.6,291.6L132.1,293.4L132.8,292.2L99.7,291.7ZM112.9,290.1L145.8,290.6L145.2,289.3L151.7,291.3L145.1,293.2L145.8,291.9L112.8,291.4ZM126.0,289.8L159.0,290.4L158.3,289.0L164.8,291.1L158.3,292.9L158.9,291.7L125.9,291.1ZM139.1,289.5L172.1,290.2L171.5,288.9L177.9,290.9L171.4,292.8L172.1,291.5L139.0,290.8ZM152.2,289.3L185.3,290.0L184.6,288.7L191.1,290.8L184.6,292.6L185.2,291.3L152.1,290.6ZM165.3,289.1L198.8,289.9L198.1,288.6L204.6,290.7L198.0,292.5L198.7,291.2L165.2,290.4ZM178.4,288.9L212.2,289.9L211.6,288.6L218.0,290.7L211.5,292.5L212.2,291.2L178.3,290.2ZM191.5,288.7L225.7,290.2L225.1,288.8L231.5,291.1L224.9,292.7L225.6,291.5L191.4,290.0ZM204.6,288.6L239.2,290.4L238.6,289.1L245.0,291.4L238.4,293.0L239.1,291.7L204.5,289.9ZM217.7,288.5L252.7,290.8L252.1,289.4L258.5,291.8L251.9,293.3L252.6,292.1L217.6,289.8ZM230.8,288.4L266.2,290.9L265.7,289.5L272.0,291.9L265.4,293.4L266.1,292.2L230.7,289.7ZM243.9,288.3L279.8,290.9L279.2,289.6L285.6,292.0L278.9,293.5L279.7,292.2L243.9,289.6ZM257.1,288.3L293.3,291.0L292.8,289.7L299.1,292.1L292.5,293.5L293.2,292.3L257.0,289.6ZM270.2,288.3L306.9,291.1L306.4,289.8L312.7,292.2L306.1,293.7L306.8,292.4L270.1,289.6ZM283.3,288.3L320.5,291.2L320.0,289.9L326.3,292.4L319.7,293.8L320.4,292.5L283.2,289.6ZM296.4,288.3L334.0,291.4L333.5,290.1L339.8,292.5L333.2,293.9L333.9,292.7L296.3,289.6ZM309.5,288.3L347.6,291.6L347.0,290.2L353.4,292.7L346.7,294.1L347.5,292.9L309.4,289.6ZM322.6,288.4L361.2,291.8L360.7,290.4L367.0,292.9L360.3,294.3L361.1,293.1L322.5,289.7ZM335.7,288.5L374.7,292.0L374.2,290.6L380.5,293.2L373.9,294.5L374.6,293.3L335.6,289.8ZM348.8,288.7L388.1,292.2L387.5,290.9L393.8,293.4L387.2,294.8L387.9,293.5L348.7,289.9ZM361.9,288.8L401.5,292.5L401.0,291.1L407.2,293.7L400.6,295.0L401.4,293.8L361.8,290.1ZM375.0,289.0L414.6,292.8L414.1,291.5L420.4,294.0L413.7,295.3L414.5,294.1L374.9,290.3ZM388.2,289.2L428.0,293.2L427.5,291.9L433.8,294.4L427.1,295.7L427.9,294.5L388.0,290.5ZM401.3,289.4L441.3,293.6L440.8,292.2L447.1,294.9L440.4,296.1L441.2,294.9L401.1,290.7ZM414.4,289.6L454.7,293.8L454.2,292.5L460.5,295.1L453.8,296.3L454.6,295.1L414.2,290.9ZM427.5,289.9L468.0,294.1L467.5,292.7L473.7,295.3L467.1,296.6L467.8,295.4L427.3,291.2ZM440.6,290.2L481.3,294.3L480.8,293.0L487.0,295.6L480.4,296.9L481.2,295.6L440.4,291.5ZM453.7,290.5L494.7,294.6L494.2,293.3L500.5,295.9L493.8,297.2L494.6,295.9L453.5,291.8ZM466.8,290.9L508.0,295.0L507.5,293.6L513.8,296.2L507.1,297.5L507.9,296.3L466.6,292.2ZM479.9,291.2L521.4,295.3L520.9,294.0L527.2,296.5L520.5,297.8L521.3,296.6L479.7,292.5ZM493.0,291.6L534.8,295.7L534.2,294.3L540.5,296.9L533.9,298.2L534.6,297.0L492.8,292.9ZM506.1,292.0L548.1,296.1L547.5,294.7L553.8,297.3L547.2,298.6L547.9,297.4L505.9,293.3ZM46.8,279.4L80.9,276.0L80.2,274.8L86.8,276.1L80.6,278.7L81.1,277.3L47.0,280.7ZM60.0,279.0L94.3,279.7L93.6,278.4L100.1,280.5L93.6,282.3L94.2,281.0L60.0,280.3ZM73.1,278.6L107.4,279.4L106.7,278.1L113.2,280.1L106.7,282.0L107.3,280.7L73.1,279.9ZM86.3,278.3L120.4,279.1L119.8,277.7L126.3,279.8L119.7,281.6L120.4,280.4L86.2,279.6ZM99.4,277.9L133.5,278.8L132.9,277.5L139.3,279.6L132.8,281.4L133.5,280.1L99.4,279.2ZM112.5,277.6L146.6,278.5L146.0,277.2L152.4,279.3L145.9,281.1L146.6,279.8L112.5,278.9ZM125.6,277.3L159.8,278.3L159.2,277.0L165.6,279.1L159.1,280.9L159.7,279.6L125.6,278.6ZM138.8,277.1L173.0,278.1L172.4,276.8L178.8,279.0L172.3,280.7L173.0,279.4L138.7,278.4ZM151.9,276.9L186.3,278.1L185.7,276.7L192.1,278.9L185.6,280.6L186.2,279.4L151.9,278.1ZM165.0,276.6L199.7,278.0L199.1,276.7L205.5,278.9L198.9,280.6L199.6,279.3L165.0,277.9ZM178.2,276.4L213.1,278.1L212.6,276.7L219.0,279.0L212.4,280.6L213.1,279.4L178.1,277.7ZM191.3,276.3L226.6,278.4L226.1,277.1L232.4,279.4L225.8,281.0L226.5,279.7L191.2,277.6ZM204.4,276.1L240.2,278.8L239.6,277.5L245.9,279.9L239.3,281.4L240.1,280.1L204.3,277.4ZM217.6,276.0L253.7,279.3L253.2,277.9L259.5,280.4L252.8,281.8L253.6,280.5L217.5,277.3ZM230.7,275.9L267.4,279.4L266.8,278.0L273.1,280.6L266.5,281.9L267.2,280.7L230.6,277.2ZM243.9,275.9L281.0,279.5L280.5,278.1L286.8,280.7L280.2,282.0L280.9,280.8L243.7,277.2ZM257.0,275.8L294.8,279.6L294.3,278.2L300.6,280.8L293.9,282.1L294.7,280.9L256.9,277.1ZM270.1,275.8L308.6,279.7L308.0,278.4L314.3,281.0L307.6,282.2L308.4,281.0L270.0,277.1ZM283.3,275.8L322.3,279.9L321.8,278.5L328.0,281.1L321.4,282.4L322.2,281.2L283.1,277.1ZM296.4,275.8L335.5,280.0L335.0,278.7L341.2,281.3L334.5,282.5L335.3,281.3L296.3,277.1ZM309.5,275.9L348.9,280.2L348.4,278.8L354.7,281.5L348.0,282.7L348.8,281.5L309.4,277.2ZM322.7,276.0L362.5,280.4L362.0,279.0L368.3,281.7L361.6,282.9L362.4,281.7L322.5,277.3ZM335.8,276.1L376.2,280.5L375.7,279.2L381.9,281.8L375.3,283.1L376.1,281.8L335.6,277.4ZM348.9,276.2L389.9,280.8L389.4,279.4L395.7,282.1L389.0,283.3L389.8,282.1L348.8,277.5ZM362.1,276.3L403.7,281.0L403.2,279.6L409.4,282.3L402.7,283.5L403.5,282.3L361.9,277.6ZM375.2,276.5L417.2,281.2L416.7,279.8L423.0,282.5L416.3,283.7L417.1,282.5L375.0,277.8ZM388.3,276.7L430.6,281.4L430.1,280.0L436.4,282.7L429.7,283.9L430.5,282.7L388.2,278.0ZM401.4,276.9L443.9,281.6L443.4,280.3L449.7,282.9L443.0,284.1L443.8,282.9L401.3,278.2ZM414.6,277.2L457.3,281.8L456.8,280.5L463.1,283.1L456.4,284.3L457.2,283.1L414.4,278.5ZM427.7,277.4L470.5,282.0L470.0,280.7L476.3,283.3L469.6,284.5L470.4,283.3L427.6,278.7ZM440.8,277.7L483.8,282.3L483.3,280.9L489.5,283.5L482.9,284.8L483.7,283.6L440.7,279.0ZM454.0,278.1L497.2,282.5L496.7,281.2L502.9,283.8L496.3,285.0L497.0,283.8L453.8,279.4ZM467.1,278.4L510.1,282.8L509.6,281.4L515.9,284.0L509.2,285.3L510.0,284.1L466.9,279.7ZM480.2,278.8L523.3,283.1L522.8,281.7L529.1,284.3L522.4,285.6L523.2,284.4L480.1,280.1ZM493.3,279.2L536.5,283.4L536.0,282.1L542.3,284.6L535.6,285.9L536.4,284.7L493.2,280.5ZM506.4,279.6L550.0,283.8L549.5,282.4L555.8,285.0L549.1,286.3L549.9,285.1L506.3,280.9ZM46.4,267.0L81.6,266.1L80.9,264.8L87.5,266.6L81.0,268.7L81.6,267.4L46.4,268.3ZM59.6,266.6L94.8,267.6L94.2,266.2L100.6,268.4L94.1,270.1L94.7,268.9L59.6,267.9ZM72.7,266.2L107.9,267.2L107.3,265.9L113.7,268.1L107.2,269.8L107.9,268.5L72.7,267.5ZM85.9,265.8L121.0,266.9L120.4,265.6L126.9,267.8L120.3,269.5L121.0,268.2L85.8,267.1ZM99.0,265.5L134.2,266.6L133.6,265.3L140.0,267.5L133.4,269.2L134.1,267.9L99.0,266.8ZM112.2,265.2L147.3,266.4L146.7,265.1L153.2,267.2L146.6,269.0L147.3,267.7L112.1,266.5ZM125.3,264.9L160.6,266.2L160.0,264.8L166.4,267.0L159.8,268.7L160.5,267.5L125.3,266.2ZM138.5,264.6L173.8,266.1L173.2,264.8L179.7,267.0L173.1,268.7L173.8,267.4L138.4,265.9ZM151.6,264.4L187.2,266.1L186.6,264.8L193.0,267.1L186.4,268.7L187.1,267.4L151.6,265.7ZM164.8,264.2L200.6,266.2L200.0,264.9L206.4,267.2L199.8,268.8L200.5,267.5L164.7,265.5ZM177.9,264.0L214.0,266.4L213.5,265.1L219.8,267.5L213.2,269.0L213.9,267.7L177.9,265.3ZM191.1,263.8L227.5,266.9L227.0,265.5L233.3,268.0L226.7,269.4L227.4,268.2L191.0,265.1ZM204.3,263.7L241.1,267.4L240.6,266.0L246.8,268.6L240.2,269.9L240.9,268.7L204.1,265.0ZM217.4,263.6L254.7,267.9L254.2,266.6L260.4,269.3L253.7,270.4L254.5,269.2L217.3,264.9ZM230.6,263.5L268.4,268.1L267.9,266.7L274.1,269.5L267.5,270.6L268.3,269.4L230.4,264.8ZM243.8,263.4L282.2,268.2L281.7,266.8L287.9,269.6L281.2,270.7L282.0,269.5L243.6,264.7ZM256.9,263.4L295.9,268.3L295.5,266.9L301.7,269.7L295.0,270.8L295.8,269.6L256.8,264.7ZM270.1,263.3L309.4,268.4L309.0,267.0L315.2,269.8L308.5,270.9L309.3,269.7L269.9,264.6ZM283.2,263.4L323.0,268.5L322.5,267.1L328.7,269.9L322.0,271.0L322.8,269.8L283.1,264.6ZM296.4,263.4L336.5,268.7L336.0,267.3L342.2,270.1L335.5,271.2L336.4,269.9L296.2,264.7ZM309.6,263.4L350.1,268.8L349.7,267.5L355.9,270.3L349.2,271.3L350.0,270.1L309.4,264.7ZM322.7,263.5L363.9,268.9L363.4,267.6L369.6,270.3L362.9,271.4L363.7,270.2L322.5,264.8ZM335.9,263.6L377.8,269.1L377.3,267.7L383.5,270.5L376.8,271.6L377.6,270.3L335.7,264.9ZM349.0,263.7L391.9,269.2L391.4,267.9L397.6,270.6L390.9,271.7L391.7,270.5L348.9,265.0ZM362.2,263.9L406.1,269.4L405.6,268.1L411.8,270.8L405.1,271.9L405.9,270.7L362.0,265.2ZM375.3,264.1L420.0,269.5L419.5,268.2L425.7,270.9L419.0,272.0L419.8,270.8L375.2,265.4ZM388.5,264.3L433.3,269.6L432.8,268.2L439.0,271.0L432.3,272.1L433.1,270.9L388.3,265.5ZM401.6,264.5L446.5,269.7L446.0,268.3L452.2,271.0L445.5,272.2L446.3,271.0L401.5,265.8ZM414.8,264.7L459.7,269.8L459.2,268.5L465.5,271.1L458.8,272.3L459.6,271.1L414.6,266.0ZM427.9,265.0L472.9,270.0L472.4,268.6L478.6,271.3L471.9,272.5L472.7,271.3L427.8,266.3ZM441.1,265.3L485.9,270.1L485.4,268.8L491.6,271.4L484.9,272.7L485.7,271.4L440.9,266.6ZM454.2,265.6L499.0,270.3L498.4,269.0L504.7,271.6L498.0,272.9L498.8,271.6L454.1,266.9ZM467.4,266.0L512.1,270.6L511.5,269.2L517.8,271.8L511.1,273.1L511.9,271.9L467.2,267.2ZM480.5,266.3L525.2,270.8L524.7,269.5L530.9,272.1L524.3,273.4L525.1,272.1L480.4,267.6ZM493.7,266.7L538.4,271.1L537.8,269.8L544.1,272.3L537.5,273.6L538.2,272.4L493.5,268.0ZM506.8,267.1L552.0,271.5L551.4,270.1L557.7,272.7L551.1,274.0L551.8,272.8L506.7,268.4ZM45.9,254.5L82.1,253.9L81.4,252.6L88.0,254.4L81.5,256.5L82.1,255.2L46.0,255.8ZM59.1,254.1L95.3,255.2L94.7,253.9L101.1,256.0L94.6,257.8L95.3,256.5L59.1,255.4ZM72.3,253.7L108.5,254.9L107.8,253.6L114.3,255.7L107.7,257.5L108.4,256.2L72.3,255.0ZM85.5,253.4L121.6,254.6L121.0,253.3L127.4,255.4L120.9,257.2L121.6,255.9L85.4,254.7ZM98.6,253.0L134.8,254.3L134.2,253.0L140.6,255.2L134.0,256.9L134.7,255.6L98.6,254.3ZM111.8,252.7L148.0,254.1L147.4,252.8L153.8,255.0L147.3,256.7L148.0,255.4L111.8,254.0ZM125.0,252.5L161.3,253.9L160.7,252.6L167.1,254.8L160.5,256.5L161.2,255.2L124.9,253.7ZM138.2,252.2L174.6,254.0L174.0,252.7L180.4,254.9L173.8,256.6L174.5,255.3L138.1,253.5ZM151.4,251.9L188.0,254.3L187.4,252.9L193.8,255.3L187.2,256.8L187.9,255.6L151.3,253.2ZM164.5,251.7L201.4,254.6L200.8,253.3L207.2,255.7L200.5,257.2L201.3,255.9L164.4,253.0ZM177.7,251.5L214.8,255.0L214.3,253.7L220.6,256.2L213.9,257.5L214.7,256.3L177.6,252.8ZM190.9,251.4L228.3,255.6L227.8,254.2L234.0,256.9L227.4,258.1L228.1,256.9L190.8,252.7ZM204.1,251.2L241.9,256.2L241.4,254.8L247.6,257.6L240.9,258.7L241.7,257.5L203.9,252.5ZM217.3,251.1L255.5,256.9L255.1,255.5L261.2,258.4L254.5,259.3L255.4,258.1L217.1,252.4ZM230.5,251.0L269.3,257.0L268.9,255.6L275.0,258.6L268.3,259.5L269.1,258.3L230.3,252.3ZM243.7,251.0L282.8,257.0L282.4,255.6L288.5,258.5L281.8,259.5L282.6,258.3L243.5,252.3ZM256.9,250.9L296.5,257.1L296.1,255.7L302.2,258.6L295.5,259.5L296.3,258.3L256.7,252.2ZM270.0,250.9L310.1,257.1L309.7,255.7L315.8,258.7L309.1,259.6L309.9,258.4L269.8,252.2ZM283.2,250.9L323.8,257.2L323.3,255.8L329.5,258.7L322.7,259.7L323.6,258.5L283.0,252.2ZM296.4,250.9L337.5,257.3L337.0,255.9L343.1,258.9L336.4,259.8L337.3,258.6L296.2,252.2ZM309.6,251.0L351.2,257.5L350.8,256.1L356.9,259.0L350.2,259.9L351.0,258.7L309.4,252.3ZM322.8,251.1L365.1,257.4L364.7,256.1L370.8,258.9L364.1,259.9L364.9,258.7L322.6,252.3ZM335.9,251.2L379.2,257.4L378.8,256.1L384.9,258.9L378.2,259.9L379.1,258.7L335.7,252.5ZM349.1,251.3L393.6,257.5L393.2,256.1L399.3,259.0L392.6,260.0L393.4,258.8L348.9,252.6ZM362.3,251.4L407.9,257.6L407.4,256.2L413.6,259.0L406.9,260.1L407.7,258.9L362.1,252.7ZM375.5,251.6L421.3,257.6L420.8,256.2L427.0,259.0L420.3,260.1L421.1,258.9L375.3,252.9ZM388.6,251.8L434.6,257.6L434.1,256.3L440.3,259.0L433.6,260.1L434.4,258.9L388.5,253.1ZM401.8,252.0L447.8,257.7L447.3,256.3L453.5,259.0L446.8,260.2L447.6,259.0L401.7,253.3ZM415.0,252.3L461.0,257.7L460.5,256.4L466.7,259.1L460.0,260.3L460.8,259.0L414.8,253.6ZM428.2,252.5L474.1,257.8L473.6,256.5L479.9,259.2L473.2,260.4L474.0,259.1L428.0,253.8ZM441.3,252.8L487.2,258.0L486.7,256.6L492.9,259.3L486.3,260.5L487.0,259.3L441.2,254.1ZM454.5,253.2L500.4,258.1L499.9,256.8L506.1,259.4L499.4,260.6L500.2,259.4L454.4,254.5ZM467.7,253.5L513.5,258.3L513.0,256.9L519.3,259.6L512.6,260.8L513.4,259.6L467.6,254.8ZM480.9,253.9L526.7,258.5L526.2,257.2L532.4,259.7L525.8,261.0L526.6,259.8L480.7,255.2ZM494.0,254.3L539.9,258.7L539.3,257.4L545.6,260.0L539.0,261.3L539.7,260.0L493.9,255.6ZM507.2,254.7L553.2,259.0L552.6,257.7L558.9,260.2L552.3,261.6L553.0,260.3L507.1,256.0ZM45.5,242.1L82.6,241.3L82.0,240.0L88.5,241.8L82.0,243.9L82.7,242.6L45.5,243.4ZM58.7,241.7L95.8,242.8L95.2,241.5L101.7,243.6L95.1,245.4L95.8,244.1L58.6,243.0ZM71.9,241.3L109.0,242.5L108.4,241.2L114.8,243.4L108.3,245.1L109.0,243.8L71.8,242.6ZM85.1,240.9L122.2,242.3L121.6,240.9L128.0,243.1L121.4,244.8L122.1,243.6L85.0,242.2ZM98.3,240.6L135.4,242.0L134.8,240.7L141.2,242.9L134.6,244.6L135.3,243.3L98.2,241.9ZM111.5,240.3L148.6,241.8L148.0,240.5L154.4,242.7L147.9,244.4L148.6,243.1L111.4,241.6ZM124.7,240.0L161.9,241.7L161.3,240.3L167.8,242.6L161.2,244.2L161.9,243.0L124.6,241.3ZM137.9,239.7L175.3,241.9L174.8,240.6L181.1,242.9L174.5,244.5L175.3,243.2L137.8,241.0ZM151.1,239.5L188.8,242.4L188.2,241.1L194.5,243.6L187.9,245.0L188.7,243.7L151.0,240.8ZM164.3,239.3L202.2,243.0L201.7,241.7L207.9,244.3L201.3,245.6L202.0,244.3L164.2,240.6ZM177.5,239.1L215.5,243.7L215.0,242.3L221.2,245.0L214.6,246.2L215.4,245.0L177.4,240.4ZM190.7,238.9L228.9,244.3L228.5,242.9L234.6,245.8L227.9,246.8L228.7,245.6L190.6,240.2ZM204.0,238.8L242.5,245.0L242.1,243.6L248.2,246.6L241.5,247.5L242.3,246.3L203.7,240.1ZM217.2,238.7L256.0,245.8L255.6,244.4L261.6,247.5L254.9,248.2L255.8,247.1L216.9,240.0ZM230.4,238.6L269.7,245.9L269.3,244.5L275.3,247.6L268.6,248.4L269.5,247.2L230.1,239.9ZM243.6,238.5L283.4,245.9L283.0,244.5L289.0,247.6L282.3,248.3L283.2,247.2L243.3,239.8ZM256.8,238.5L297.1,245.9L296.7,244.5L302.7,247.6L296.0,248.3L296.9,247.2L256.6,239.8ZM270.0,238.5L310.8,245.9L310.4,244.5L316.4,247.6L309.7,248.3L310.6,247.2L269.8,239.7ZM283.2,238.5L324.5,245.9L324.1,244.5L330.2,247.6L323.4,248.4L324.3,247.2L283.0,239.7ZM296.4,238.5L338.3,246.0L337.9,244.6L343.9,247.7L337.2,248.5L338.1,247.3L296.2,239.8ZM309.6,238.5L352.2,246.1L351.7,244.7L357.8,247.8L351.1,248.6L351.9,247.4L309.4,239.8ZM322.8,238.6L366.2,246.0L365.8,244.6L371.8,247.6L365.1,248.4L366.0,247.2L322.6,239.9ZM336.0,238.7L380.4,245.8L380.0,244.5L386.1,247.4L379.3,248.3L380.2,247.1L335.8,240.0ZM349.2,238.8L394.7,245.7L394.2,244.4L400.4,247.3L393.6,248.2L394.5,247.0L349.0,240.1ZM362.4,239.0L408.5,245.6L408.0,244.2L414.2,247.1L407.4,248.1L408.3,246.9L362.2,240.3ZM375.6,239.2L422.1,245.6L421.6,244.2L427.8,247.1L421.1,248.1L421.9,246.9L375.4,240.5ZM388.8,239.4L435.4,245.6L435.0,244.2L441.1,247.0L434.4,248.1L435.3,246.9L388.6,240.7ZM402.0,239.6L448.6,245.6L448.2,244.2L454.4,247.0L447.7,248.1L448.5,246.9L401.8,240.9ZM415.2,239.8L461.9,245.6L461.4,244.3L467.6,247.0L460.9,248.1L461.7,246.9L415.0,241.1ZM428.4,240.1L475.1,245.7L474.6,244.3L480.8,247.0L474.1,248.2L474.9,247.0L428.3,241.4ZM441.6,240.4L488.2,245.8L487.7,244.4L493.9,247.1L487.2,248.3L488.0,247.0L441.5,241.7ZM454.8,240.7L501.4,245.9L500.9,244.5L507.1,247.1L500.4,248.4L501.2,247.1L454.7,242.0ZM468.0,241.1L514.6,246.0L514.0,244.6L520.3,247.2L513.6,248.5L514.4,247.3L467.9,242.4ZM481.2,241.4L527.7,246.1L527.2,244.8L533.5,247.4L526.8,248.7L527.6,247.4L481.1,242.7ZM494.4,241.8L540.9,246.3L540.4,245.0L546.7,247.5L540.0,248.9L540.8,247.6L494.3,243.1ZM507.6,242.2L554.2,246.6L553.7,245.2L560.0,247.7L553.3,249.1L554.1,247.8L507.4,243.5ZM45.0,229.7L83.2,228.7L82.5,227.5L89.1,229.2L82.6,231.3L83.2,230.0L45.0,231.0ZM58.2,229.3L96.4,230.4L95.8,229.1L102.2,231.3L95.7,233.0L96.3,231.7L58.2,230.6ZM71.5,228.9L109.5,230.2L108.9,228.9L115.4,231.0L108.8,232.8L109.5,231.5L71.4,230.2ZM84.7,228.5L122.7,229.9L122.1,228.6L128.5,230.8L121.9,232.5L122.6,231.2L84.6,229.8ZM97.9,228.2L135.9,229.7L135.3,228.4L141.7,230.6L135.1,232.3L135.8,231.0L97.8,229.5ZM111.1,227.9L149.2,229.6L148.6,228.2L155.0,230.5L148.4,232.1L149.1,230.9L111.1,229.2ZM124.3,227.6L162.5,229.4L161.9,228.1L168.3,230.3L161.7,232.0L162.5,230.7L124.3,228.9ZM137.6,227.3L176.0,229.8L175.4,228.5L181.8,230.8L175.2,232.4L175.9,231.1L137.5,228.6ZM150.8,227.1L189.5,230.6L189.0,229.3L195.3,231.8L188.6,233.2L189.4,231.9L150.7,228.4ZM164.1,226.9L203.0,231.5L202.5,230.1L208.7,232.9L202.0,234.0L202.8,232.8L163.9,228.2ZM177.3,226.7L216.1,232.4L215.6,231.0L221.8,233.8L215.1,234.8L215.9,233.6L177.1,228.0ZM190.5,226.5L229.3,233.1L228.8,231.7L234.9,234.7L228.2,235.5L229.0,234.3L190.3,227.8ZM203.8,226.4L242.8,233.9L242.4,232.5L248.5,235.6L241.7,236.3L242.6,235.2L203.5,227.6ZM217.0,226.3L256.5,234.8L256.1,233.4L262.0,236.6L255.3,237.2L256.2,236.0L216.8,227.5ZM230.3,226.2L270.2,234.9L269.8,233.5L275.7,236.8L269.0,237.3L269.9,236.2L230.0,227.4ZM243.5,226.1L283.9,234.8L283.5,233.4L289.5,236.7L282.7,237.2L283.6,236.1L243.2,227.4ZM256.7,226.0L297.6,234.8L297.3,233.4L303.2,236.6L296.5,237.2L297.4,236.0L256.4,227.3ZM269.9,226.0L311.4,234.7L311.0,233.3L317.0,236.6L310.2,237.1L311.1,236.0L269.7,227.3ZM283.2,226.0L325.2,234.7L324.8,233.3L330.8,236.5L324.0,237.1L324.9,236.0L282.9,227.3ZM296.4,226.1L339.0,234.7L338.7,233.3L344.6,236.5L337.9,237.2L338.8,236.0L296.1,227.3ZM309.6,226.1L353.0,234.8L352.6,233.4L358.6,236.6L351.8,237.2L352.7,236.1L309.4,227.4ZM322.9,226.2L367.0,234.5L366.6,233.1L372.7,236.2L365.9,236.9L366.8,235.8L322.6,227.5ZM336.1,226.3L381.1,234.2L380.7,232.8L386.8,235.9L380.0,236.7L380.9,235.5L335.9,227.6ZM349.3,226.4L395.1,233.9L394.7,232.5L400.8,235.5L394.0,236.4L394.9,235.2L349.1,227.7ZM362.5,226.6L409.0,233.6L408.5,232.3L414.7,235.2L408.0,236.1L408.8,234.9L362.3,227.8ZM375.7,226.7L422.8,233.6L422.4,232.3L428.5,235.1L421.8,236.1L422.6,234.9L375.6,228.0ZM389.0,226.9L436.3,233.6L435.8,232.2L442.0,235.1L435.3,236.1L436.1,234.9L388.8,228.2ZM402.2,227.2L449.5,233.6L449.0,232.2L455.2,235.0L448.5,236.1L449.3,234.9L402.0,228.4ZM415.4,227.4L462.8,233.5L462.3,232.2L468.5,234.9L461.8,236.0L462.6,234.8L415.3,228.7ZM428.6,227.7L476.0,233.5L475.5,232.2L481.7,234.9L475.0,236.0L475.8,234.8L428.5,229.0ZM441.9,228.0L489.1,233.5L488.6,232.2L494.9,234.9L488.2,236.1L489.0,234.8L441.7,229.3ZM455.1,228.3L502.4,233.6L501.9,232.2L508.1,234.9L501.4,236.1L502.2,234.9L454.9,229.6ZM468.3,228.6L515.6,233.7L515.1,232.3L521.3,234.9L514.7,236.2L515.4,235.0L468.2,229.9ZM481.5,229.0L528.8,233.8L528.3,232.4L534.6,235.0L527.9,236.3L528.7,235.1L481.4,230.3ZM494.7,229.4L542.0,233.9L541.5,232.6L547.8,235.1L541.1,236.4L541.9,235.2L494.6,230.7ZM507.9,229.8L555.3,234.1L554.8,232.7L561.1,235.3L554.4,236.6L555.2,235.4L507.8,231.1ZM44.5,217.2L83.8,216.1L83.1,214.9L89.6,216.6L83.2,218.8L83.8,217.4L44.5,218.5ZM57.8,216.8L96.9,218.1L96.3,216.7L102.8,218.9L96.2,220.6L96.9,219.4L57.7,218.1ZM71.0,216.4L110.1,217.8L109.5,216.5L115.9,218.7L109.3,220.4L110.0,219.1L71.0,217.7ZM84.3,216.1L123.2,217.6L122.6,216.3L129.0,218.5L122.4,220.2L123.1,218.9L84.2,217.4ZM97.5,215.8L136.4,217.4L135.8,216.1L142.2,218.3L135.6,220.0L136.3,218.7L97.5,217.1ZM110.8,215.4L149.6,217.3L149.0,216.0L155.4,218.2L148.9,219.9L149.6,218.6L110.7,216.7ZM124.0,215.2L163.0,217.2L162.4,215.8L168.8,218.1L162.2,219.7L162.9,218.5L123.9,216.4ZM137.3,214.9L176.5,217.7L175.9,216.3L182.3,218.7L175.6,220.2L176.4,219.0L137.2,216.2ZM150.5,214.7L189.7,218.6L189.2,217.3L195.5,219.9L188.8,221.2L189.6,219.9L150.4,215.9ZM163.8,214.4L203.0,219.7L202.5,218.3L208.7,221.1L202.0,222.1L202.8,220.9L163.6,215.7ZM177.1,214.2L216.4,220.7L215.9,219.3L222.0,222.3L215.3,223.1L216.1,222.0L176.9,215.5ZM190.3,214.1L229.8,221.5L229.4,220.1L235.5,223.2L228.7,223.9L229.6,222.7L190.1,215.4ZM203.6,213.9L243.4,222.3L243.1,220.9L249.0,224.2L242.3,224.8L243.2,223.6L203.3,215.2ZM216.9,213.8L257.0,223.3L256.7,221.8L262.5,225.2L255.8,225.6L256.7,224.5L216.6,215.1ZM230.1,213.7L270.7,223.4L270.4,222.0L276.2,225.4L269.5,225.8L270.4,224.7L229.8,215.0ZM243.4,213.7L284.5,223.3L284.1,221.9L290.0,225.3L283.2,225.7L284.2,224.6L243.1,214.9ZM256.6,213.6L298.2,223.2L297.9,221.8L303.8,225.2L297.0,225.6L297.9,224.5L256.4,214.9ZM269.9,213.6L312.0,223.2L311.7,221.8L317.6,225.1L310.8,225.6L311.7,224.4L269.6,214.9ZM283.1,213.6L325.9,223.2L325.5,221.7L331.4,225.1L324.7,225.5L325.6,224.4L282.9,214.9ZM296.4,213.6L339.7,223.2L339.4,221.8L345.3,225.1L338.6,225.6L339.5,224.4L296.1,214.9ZM309.7,213.7L353.7,223.2L353.3,221.8L359.3,225.1L352.5,225.6L353.4,224.5L309.4,215.0ZM322.9,213.8L367.7,222.8L367.3,221.4L373.3,224.6L366.6,225.3L367.5,224.1L322.6,215.0ZM336.1,213.9L381.7,222.4L381.3,221.0L387.3,224.2L380.5,224.9L381.4,223.7L335.9,215.1ZM349.4,214.0L395.6,222.0L395.1,220.6L401.2,223.7L394.5,224.5L395.3,223.3L349.2,215.3ZM362.6,214.1L409.5,221.7L409.0,220.3L415.1,223.3L408.4,224.2L409.3,223.0L362.4,215.4ZM375.9,214.3L423.4,221.7L422.9,220.3L429.1,223.2L422.3,224.2L423.2,223.0L375.7,215.6ZM389.1,214.5L437.1,221.6L436.7,220.3L442.8,223.1L436.1,224.1L436.9,222.9L388.9,215.8ZM402.4,214.7L450.4,221.6L449.9,220.2L456.1,223.0L449.4,224.0L450.2,222.8L402.2,216.0ZM415.6,215.0L463.7,221.5L463.2,220.1L469.4,222.9L462.7,224.0L463.5,222.8L415.5,216.3ZM428.9,215.2L476.9,221.5L476.4,220.1L482.6,222.9L475.9,224.0L476.7,222.7L428.7,216.5ZM442.1,215.5L490.1,221.4L489.6,220.1L495.8,222.8L489.1,223.9L489.9,222.7L442.0,216.8ZM455.4,215.9L503.3,221.4L502.8,220.1L509.1,222.8L502.4,224.0L503.2,222.7L455.2,217.2ZM468.6,216.2L516.6,221.5L516.1,220.1L522.3,222.8L515.7,224.0L516.5,222.8L468.5,217.5ZM481.9,216.6L529.9,221.5L529.3,220.2L535.6,222.8L528.9,224.1L529.7,222.8L481.7,217.9ZM495.1,217.0L543.1,221.6L542.6,220.3L548.9,222.8L542.2,224.1L543.0,222.9L495.0,218.3ZM508.3,217.4L556.4,221.7L555.9,220.4L562.2,222.9L555.5,224.2L556.3,223.0L508.2,218.7ZM44.0,204.8L83.7,203.6L83.0,202.3L89.6,204.1L83.1,206.2L83.7,204.9L44.1,206.1ZM57.3,204.4L97.0,205.7L96.4,204.4L102.8,206.5L96.3,208.3L96.9,207.0L57.3,205.7ZM70.6,204.0L110.2,205.5L109.6,204.2L116.0,206.3L109.4,208.1L110.1,206.8L70.5,205.3ZM83.9,203.7L123.3,205.3L122.7,204.0L129.2,206.2L122.6,207.9L123.3,206.6L83.8,205.0ZM97.1,203.3L136.5,205.1L135.9,203.8L142.3,206.1L135.7,207.7L136.4,206.4L97.1,204.6ZM110.4,203.0L149.7,205.0L149.1,203.7L155.5,205.9L148.9,207.6L149.6,206.3L110.3,204.3ZM123.7,202.7L162.9,204.9L162.4,203.6L168.7,205.9L162.1,207.5L162.9,206.2L123.6,204.0ZM137.0,202.5L176.2,205.4L175.6,204.0L182.0,206.4L175.4,207.9L176.1,206.7L136.9,203.8ZM150.3,202.2L189.5,206.3L189.0,205.0L195.3,207.6L188.6,208.9L189.4,207.6L150.1,203.5ZM163.6,202.0L203.0,207.4L202.5,206.0L208.7,208.8L202.0,209.9L202.8,208.7L163.4,203.3ZM176.8,201.8L216.7,208.5L216.3,207.1L222.4,210.1L215.6,210.9L216.5,209.8L176.6,203.1ZM190.1,201.7L230.5,209.3L230.1,207.9L236.1,211.1L229.4,211.8L230.2,210.6L189.9,202.9ZM203.4,201.5L244.2,210.2L243.8,208.8L249.8,212.1L243.0,212.6L243.9,211.5L203.2,202.8ZM216.7,201.4L257.7,211.1L257.4,209.7L263.2,213.1L256.5,213.5L257.4,212.4L216.4,202.7ZM230.0,201.3L271.4,211.3L271.0,209.9L276.9,213.3L270.1,213.7L271.1,212.5L229.7,202.6ZM243.3,201.3L285.1,211.2L284.8,209.8L290.7,213.2L283.9,213.6L284.8,212.5L243.0,202.5ZM256.6,201.2L298.9,211.2L298.6,209.7L304.5,213.1L297.7,213.5L298.6,212.4L256.3,202.5ZM269.8,201.2L312.7,211.1L312.4,209.7L318.3,213.1L311.5,213.5L312.4,212.4L269.5,202.5ZM283.1,201.2L326.6,211.2L326.2,209.7L332.1,213.1L325.4,213.5L326.3,212.4L282.8,202.5ZM296.4,201.2L340.5,211.2L340.1,209.8L346.0,213.1L339.3,213.6L340.2,212.5L296.1,202.5ZM309.7,201.3L354.3,211.3L354.0,209.8L359.9,213.2L353.1,213.7L354.0,212.5L309.4,202.5ZM322.9,201.3L368.3,210.9L367.9,209.5L373.9,212.8L367.1,213.3L368.0,212.2L322.7,202.6ZM336.2,201.4L382.2,210.5L381.8,209.1L387.8,212.3L381.0,213.0L381.9,211.8L336.0,202.7ZM349.5,201.6L396.1,210.2L395.7,208.8L401.7,211.9L395.0,212.6L395.8,211.5L349.3,202.8ZM362.8,201.7L410.0,209.9L409.6,208.5L415.6,211.5L408.9,212.3L409.8,211.2L362.5,203.0ZM376.0,201.9L423.9,209.8L423.5,208.4L429.5,211.4L422.8,212.2L423.7,211.1L375.8,203.2ZM389.3,202.1L437.8,209.7L437.4,208.3L443.5,211.3L436.8,212.2L437.6,211.0L389.1,203.4ZM402.6,202.3L451.2,209.6L450.8,208.2L456.9,211.1L450.2,212.1L451.1,210.9L402.4,203.6ZM415.8,202.6L464.5,209.6L464.1,208.2L470.2,211.0L463.5,212.0L464.4,210.8L415.7,203.8ZM429.1,202.8L477.8,209.5L477.3,208.1L483.5,211.0L476.8,212.0L477.6,210.8L428.9,204.1ZM442.4,203.1L491.0,209.5L490.5,208.1L496.7,210.9L490.0,212.0L490.8,210.8L442.2,204.4ZM455.7,203.4L504.3,209.5L503.8,208.2L510.0,210.9L503.3,212.0L504.1,210.8L455.5,204.7ZM468.9,203.8L517.6,209.6L517.1,208.2L523.3,210.9L516.6,212.1L517.4,210.9L468.8,205.1ZM482.2,204.2L530.9,209.7L530.4,208.3L536.6,211.0L529.9,212.2L530.7,211.0L482.0,205.5ZM495.5,204.6L544.1,209.8L543.6,208.4L549.9,211.0L543.2,212.3L544.0,211.1L495.3,205.8ZM508.7,205.0L557.5,209.9L556.9,208.5L563.2,211.1L556.5,212.4L557.3,211.2L508.6,206.3ZM43.5,192.4L83.9,191.0L83.2,189.7L89.8,191.5L83.3,193.6L83.9,192.3L43.6,193.7ZM56.9,192.0L97.1,193.3L96.5,192.0L103.0,194.2L96.4,195.9L97.1,194.6L56.8,193.3ZM70.2,191.6L110.3,193.1L109.7,191.8L116.1,194.0L109.6,195.7L110.3,194.4L70.1,192.9ZM83.4,191.3L123.4,193.0L122.8,191.6L129.2,193.9L122.7,195.5L123.4,194.3L83.4,192.6ZM96.7,190.9L136.4,192.8L135.9,191.5L142.3,193.8L135.7,195.4L136.4,194.1L96.7,192.2ZM110.0,190.6L149.5,192.7L148.9,191.4L155.3,193.7L148.7,195.3L149.4,194.0L110.0,191.9ZM123.3,190.3L162.6,192.6L162.1,191.3L168.4,193.6L161.8,195.2L162.5,193.9L123.3,191.6ZM136.7,190.1L175.9,193.1L175.3,191.7L181.7,194.2L175.0,195.6L175.8,194.4L136.6,191.4ZM150.0,189.8L189.1,194.0L188.6,192.7L194.9,195.3L188.2,196.6L189.0,195.3L149.8,191.1ZM163.3,189.6L202.7,195.1L202.3,193.7L208.5,196.6L201.7,197.6L202.6,196.4L163.1,190.9ZM176.6,189.4L217.0,196.3L216.6,194.9L222.6,197.9L215.9,198.7L216.8,197.6L176.4,190.7ZM189.9,189.3L231.1,197.2L230.7,195.8L236.7,198.9L230.0,199.6L230.8,198.5L189.7,190.5ZM203.2,189.1L245.1,198.1L244.8,196.7L250.7,200.0L243.9,200.5L244.8,199.4L203.0,190.4ZM216.6,189.0L258.4,199.0L258.0,197.6L263.9,201.0L257.1,201.4L258.1,200.2L216.3,190.3ZM229.9,188.9L272.0,199.2L271.7,197.7L277.6,201.2L270.8,201.5L271.7,200.4L229.6,190.2ZM243.2,188.8L285.8,199.1L285.5,197.7L291.3,201.1L284.5,201.5L285.5,200.4L242.9,190.1ZM256.5,188.8L299.6,199.1L299.2,197.7L305.1,201.1L298.3,201.5L299.3,200.4L256.2,190.1ZM269.8,188.8L313.4,199.1L313.0,197.7L318.9,201.1L312.1,201.5L313.1,200.4L269.5,190.0ZM283.1,188.8L327.2,199.2L326.9,197.8L332.8,201.1L326.0,201.5L326.9,200.4L282.8,190.0ZM296.4,188.8L341.0,199.2L340.7,197.8L346.6,201.2L339.8,201.6L340.7,200.5L296.1,190.1ZM309.7,188.9L354.8,199.3L354.5,197.9L360.4,201.3L353.6,201.7L354.6,200.6L309.4,190.1ZM323.0,188.9L368.8,199.0L368.4,197.6L374.4,200.9L367.6,201.4L368.5,200.3L322.7,190.2ZM336.3,189.0L382.7,198.6L382.3,197.2L388.3,200.5L381.5,201.1L382.4,199.9L336.0,190.3ZM349.6,189.2L396.6,198.3L396.2,196.9L402.2,200.1L395.5,200.8L396.3,199.6L349.3,190.4ZM362.9,189.3L410.5,198.1L410.1,196.7L416.2,199.7L409.4,200.5L410.3,199.3L362.6,190.6ZM376.2,189.5L424.4,197.9L424.0,196.5L430.1,199.5L423.3,200.3L424.2,199.2L376.0,190.8ZM389.5,189.7L438.4,197.8L437.9,196.4L444.0,199.4L437.3,200.2L438.2,199.0L389.3,191.0ZM402.8,189.9L452.1,197.6L451.7,196.3L457.8,199.2L451.1,200.1L451.9,198.9L402.6,191.2ZM416.1,190.2L465.4,197.6L465.0,196.2L471.1,199.1L464.4,200.1L465.2,198.9L415.9,191.4ZM429.4,190.4L478.7,197.6L478.2,196.2L484.4,199.1L477.7,200.1L478.5,198.9L429.2,191.7ZM442.7,190.7L492.0,197.6L491.5,196.3L497.7,199.1L490.9,200.1L491.8,198.9L442.5,192.0ZM456.0,191.0L505.3,197.7L504.8,196.3L511.0,199.1L504.3,200.2L505.1,199.0L455.8,192.3ZM469.2,191.4L518.6,197.7L518.1,196.4L524.3,199.1L517.6,200.2L518.4,199.0L469.1,192.7ZM482.5,191.8L531.9,197.8L531.4,196.5L537.6,199.2L530.9,200.3L531.7,199.1L482.4,193.0ZM495.8,192.1L545.2,197.9L544.7,196.6L550.9,199.3L544.2,200.4L545.0,199.2L495.7,193.4ZM509.1,192.6L558.5,198.1L558.0,196.7L564.3,199.4L557.6,200.6L558.4,199.4L509.0,193.9ZM43.0,180.0L84.0,178.7L83.3,177.5L89.9,179.2L83.4,181.4L84.0,180.0L43.1,181.3ZM56.4,179.6L97.3,181.0L96.7,179.6L103.1,181.8L96.6,183.5L97.3,182.3L56.4,180.9ZM69.7,179.2L110.5,180.8L109.9,179.5L116.3,181.7L109.8,183.4L110.5,182.1L69.7,180.5ZM83.0,178.9L123.6,180.7L123.0,179.3L129.4,181.6L122.8,183.2L123.5,182.0L83.0,180.2ZM96.4,178.5L136.4,180.5L135.8,179.2L142.2,181.5L135.7,183.1L136.4,181.8L96.3,179.8ZM109.7,178.2L149.1,180.4L148.5,179.1L154.9,181.4L148.3,183.0L149.0,181.7L109.6,179.5ZM123.0,177.9L162.2,180.3L161.7,179.0L168.0,181.3L161.4,182.9L162.2,181.6L122.9,179.2ZM136.3,177.7L175.2,180.7L174.6,179.4L181.0,181.9L174.3,183.3L175.1,182.0L136.2,179.0ZM149.7,177.4L188.7,181.7L188.2,180.4L194.5,183.0L187.8,184.3L188.6,183.0L149.5,178.7ZM163.0,177.2L202.9,182.9L202.5,181.5L208.6,184.4L201.9,185.4L202.8,184.2L162.8,178.5ZM176.4,177.0L217.4,184.1L217.0,182.7L223.1,185.8L216.4,186.6L217.2,185.4L176.2,178.3ZM189.7,176.9L231.6,185.0L231.2,183.6L237.2,186.8L230.4,187.5L231.3,186.3L189.5,178.1ZM203.1,176.7L245.4,185.9L245.0,184.5L251.0,187.8L244.2,188.3L245.1,187.2L202.8,178.0ZM216.4,176.6L259.0,186.8L258.6,185.4L264.5,188.8L257.7,189.2L258.7,188.1L216.1,177.9ZM229.7,176.5L272.6,187.1L272.3,185.6L278.2,189.1L271.4,189.4L272.3,188.3L229.4,177.8ZM243.1,176.4L286.4,187.0L286.1,185.6L291.9,189.1L285.1,189.4L286.1,188.3L242.8,177.7ZM256.4,176.4L300.2,187.1L299.9,185.6L305.7,189.1L298.9,189.4L299.9,188.3L256.1,177.7ZM269.7,176.4L314.0,187.1L313.7,185.7L319.5,189.1L312.8,189.5L313.7,188.4L269.4,177.6ZM283.0,176.4L327.8,187.2L327.4,185.7L333.3,189.2L326.5,189.5L327.5,188.4L282.7,177.6ZM296.4,176.4L341.5,187.2L341.2,185.8L347.1,189.2L340.3,189.6L341.2,188.5L296.1,177.7ZM309.7,176.5L355.4,187.4L355.0,185.9L360.9,189.4L354.1,189.7L355.1,188.6L309.4,177.7ZM323.0,176.5L369.2,187.1L368.9,185.7L374.8,189.0L368.0,189.5L369.0,188.3L322.7,177.8ZM336.4,176.6L383.2,186.8L382.9,185.4L388.8,188.7L382.0,189.2L382.9,188.1L336.1,177.9ZM349.7,176.8L397.1,186.5L396.7,185.1L402.7,188.3L395.9,188.9L396.8,187.8L349.4,178.0ZM363.0,176.9L411.1,186.3L410.7,184.9L416.7,188.0L409.9,188.7L410.8,187.5L362.7,178.2ZM376.3,177.1L425.0,186.0L424.6,184.6L430.6,187.7L423.9,188.5L424.8,187.3L376.1,178.4ZM389.6,177.3L438.9,185.8L438.5,184.4L444.6,187.5L437.9,188.3L438.7,187.1L389.4,178.6ZM403.0,177.5L452.9,185.7L452.5,184.3L458.6,187.3L451.8,188.2L452.7,187.0L402.8,178.8ZM416.3,177.8L466.3,185.7L465.9,184.3L472.0,187.3L465.3,188.2L466.1,187.0L416.1,179.0ZM429.6,178.0L479.6,185.7L479.1,184.3L485.3,187.3L478.5,188.2L479.4,187.0L429.4,179.3ZM442.9,178.3L492.9,185.8L492.4,184.4L498.6,187.3L491.9,188.2L492.7,187.0L442.7,179.6ZM456.2,178.6L506.2,185.8L505.8,184.4L511.9,187.3L505.2,188.3L506.0,187.1L456.1,179.9ZM469.6,179.0L519.5,185.9L519.1,184.5L525.3,187.3L518.5,188.4L519.4,187.2L469.4,180.3ZM482.9,179.4L532.9,186.0L532.4,184.6L538.6,187.4L531.9,188.5L532.7,187.3L482.7,180.6ZM496.2,179.8L546.2,186.1L545.7,184.8L551.9,187.5L545.2,188.6L546.0,187.4L496.0,181.0ZM509.5,180.2L559.6,186.3L559.1,184.9L565.3,187.6L558.6,188.8L559.4,187.6L509.3,181.5ZM42.6,167.6L84.2,166.5L83.5,165.2L90.1,167.0L83.6,169.1L84.2,167.8L42.6,168.9ZM55.9,167.2L97.6,168.6L96.9,167.3L103.4,169.5L96.8,171.2L97.5,169.9L55.9,168.5ZM69.3,166.8L110.8,168.5L110.2,167.2L116.6,169.4L110.1,171.1L110.8,169.8L69.2,168.1ZM82.6,166.5L123.9,168.4L123.3,167.0L129.7,169.3L123.1,170.9L123.8,169.7L82.6,167.8ZM96.0,166.1L136.7,168.3L136.1,166.9L142.5,169.2L135.9,170.8L136.7,169.6L95.9,167.4ZM109.3,165.8L149.0,168.1L148.4,166.8L154.8,169.1L148.2,170.7L148.9,169.4L109.2,167.1ZM122.7,165.5L162.2,168.1L161.6,166.8L168.0,169.1L161.4,170.6L162.1,169.4L122.6,166.8ZM136.0,165.3L175.6,168.5L175.1,167.2L181.4,169.7L174.8,171.1L175.5,169.8L135.9,166.6ZM149.4,165.0L189.9,169.6L189.4,168.3L195.6,170.9L188.9,172.1L189.7,170.9L149.3,166.3ZM162.8,164.8L204.1,170.8L203.6,169.4L209.8,172.3L203.1,173.3L203.9,172.1L162.6,166.1ZM176.1,164.6L218.2,172.1L217.8,170.7L223.9,173.7L217.1,174.5L218.0,173.3L175.9,165.9ZM189.5,164.5L232.2,172.9L231.8,171.5L237.8,174.7L231.0,175.3L231.9,174.2L189.3,165.7ZM202.9,164.3L245.9,173.8L245.6,172.4L251.5,175.7L244.7,176.2L245.7,175.1L202.6,165.6ZM216.2,164.2L259.5,174.7L259.2,173.3L265.1,176.7L258.3,177.1L259.2,176.0L215.9,165.5ZM229.6,164.1L273.2,175.0L272.9,173.5L278.7,177.0L272.0,177.3L272.9,176.2L229.3,165.4ZM243.0,164.1L287.0,175.0L286.7,173.6L292.5,177.0L285.7,177.3L286.7,176.2L242.6,165.3ZM256.3,164.0L300.7,175.0L300.4,173.6L306.2,177.0L299.5,177.4L300.4,176.3L256.0,165.3ZM269.7,164.0L314.5,175.1L314.2,173.7L320.0,177.1L313.2,177.4L314.2,176.3L269.3,165.2ZM283.0,164.0L328.3,175.2L327.9,173.7L333.8,177.2L327.0,177.5L327.9,176.4L282.7,165.3ZM296.4,164.0L342.0,175.3L341.7,173.9L347.6,177.3L340.8,177.7L341.7,176.5L296.1,165.3ZM309.7,164.1L355.8,175.4L355.5,174.0L361.3,177.5L354.6,177.8L355.5,176.7L309.4,165.3ZM323.1,164.1L369.8,175.2L369.4,173.8L375.3,177.2L368.5,177.6L369.5,176.5L322.8,165.4ZM336.4,164.2L383.7,174.9L383.3,173.5L389.3,176.9L382.5,177.3L383.4,176.2L336.1,165.5ZM349.8,164.4L397.7,174.7L397.3,173.3L403.3,176.6L396.5,177.1L397.4,176.0L349.5,165.6ZM363.1,164.5L411.6,174.5L411.2,173.1L417.2,176.3L410.4,176.9L411.3,175.7L362.9,165.8ZM376.5,164.7L425.6,174.2L425.2,172.8L431.2,175.9L424.4,176.6L425.3,175.5L376.2,166.0ZM389.8,164.9L439.6,173.9L439.2,172.5L445.2,175.6L438.5,176.4L439.3,175.2L389.6,166.2ZM403.2,165.1L453.5,173.8L453.1,172.4L459.2,175.4L452.4,176.2L453.3,175.1L402.9,166.4ZM416.5,165.4L467.2,173.8L466.8,172.4L472.8,175.4L466.1,176.3L467.0,175.1L416.3,166.6ZM429.8,165.6L480.5,173.9L480.0,172.5L486.1,175.4L479.4,176.3L480.3,175.1L429.6,166.9ZM443.2,165.9L493.8,173.9L493.4,172.5L499.5,175.5L492.8,176.4L493.6,175.2L443.0,167.2ZM456.5,166.3L507.2,174.0L506.7,172.6L512.8,175.5L506.1,176.5L507.0,175.3L456.3,167.5ZM469.9,166.6L520.5,174.1L520.1,172.7L526.2,175.6L519.5,176.6L520.3,175.4L469.7,167.9ZM483.2,167.0L533.9,174.2L533.4,172.8L539.6,175.7L532.9,176.7L533.7,175.5L483.0,168.3ZM496.6,167.4L547.2,174.4L546.8,173.0L552.9,175.8L546.2,176.8L547.1,175.7L496.4,168.7ZM509.9,167.8L560.6,174.5L560.1,173.2L566.3,176.0L559.6,177.0L560.4,175.8L509.7,169.1ZM42.1,155.3L84.4,154.2L83.7,152.9L90.3,154.7L83.8,156.8L84.5,155.5L42.1,156.6ZM55.5,154.9L97.8,156.3L97.2,154.9L103.7,157.1L97.1,158.8L97.8,157.5L55.4,156.2ZM68.8,154.5L111.2,156.1L110.6,154.8L117.1,157.0L110.5,158.7L111.2,157.4L68.8,155.8ZM82.2,154.1L124.4,156.0L123.8,154.7L130.2,156.9L123.7,158.6L124.4,157.3L82.2,155.4ZM95.6,153.8L137.4,155.9L136.8,154.6L143.2,156.9L136.6,158.5L137.4,157.2L95.5,155.1ZM109.0,153.5L150.4,155.9L149.9,154.5L156.3,156.9L149.6,158.4L150.4,157.2L108.9,154.7ZM122.3,153.2L163.8,155.8L163.2,154.5L169.5,156.9L162.9,158.4L163.7,157.1L122.3,154.5ZM135.7,152.9L177.4,156.3L176.8,154.9L183.2,157.4L176.5,158.8L177.3,157.6L135.6,154.2ZM149.1,152.7L191.3,157.4L190.8,156.0L197.0,158.7L190.4,159.9L191.1,158.7L149.0,153.9ZM162.5,152.4L205.3,158.6L204.8,157.2L211.0,160.1L204.3,161.1L205.1,159.9L162.3,153.7ZM175.9,152.3L219.2,159.9L218.8,158.5L224.9,161.5L218.1,162.3L219.0,161.1L175.7,153.5ZM189.3,152.1L233.0,160.7L232.6,159.3L238.6,162.5L231.9,163.2L232.7,162.0L189.0,153.4ZM202.7,151.9L246.6,161.6L246.3,160.2L252.2,163.5L245.4,164.0L246.3,162.9L202.4,153.2ZM216.1,151.8L260.2,162.5L259.8,161.1L265.7,164.5L258.9,164.9L259.9,163.8L215.8,153.1ZM229.5,151.7L273.8,162.8L273.5,161.4L279.3,164.8L272.6,165.2L273.5,164.1L229.1,153.0ZM242.8,151.7L287.5,162.8L287.2,161.4L293.0,164.9L286.2,165.2L287.2,164.1L242.5,152.9ZM256.2,151.6L301.2,162.8L300.9,161.4L306.7,164.9L300.0,165.2L300.9,164.1L255.9,152.9ZM269.6,151.6L315.0,162.9L314.7,161.5L320.5,165.0L313.8,165.3L314.7,164.2L269.3,152.9ZM283.0,151.6L328.8,163.0L328.5,161.6L334.3,165.1L327.5,165.4L328.5,164.3L282.7,152.9ZM296.4,151.6L342.6,163.2L342.3,161.7L348.1,165.2L341.3,165.5L342.3,164.4L296.0,152.9ZM309.7,151.7L356.4,163.3L356.1,161.9L361.9,165.4L355.1,165.7L356.1,164.6L309.4,153.0ZM323.1,151.8L370.3,163.1L370.0,161.7L375.8,165.1L369.1,165.5L370.0,164.3L322.8,153.0ZM336.5,151.9L384.3,162.9L383.9,161.4L389.8,164.8L383.1,165.2L384.0,164.1L336.2,153.1ZM349.9,152.0L398.2,162.6L397.9,161.2L403.8,164.5L397.0,165.0L398.0,163.9L349.6,153.3ZM363.2,152.1L412.2,162.4L411.8,161.0L417.8,164.3L411.0,164.8L411.9,163.7L363.0,153.4ZM376.6,152.3L426.2,162.1L425.8,160.7L431.8,163.9L425.0,164.5L425.9,163.4L376.4,153.6ZM390.0,152.5L440.2,161.8L439.8,160.4L445.8,163.5L439.1,164.3L440.0,163.1L389.7,153.8ZM403.3,152.7L454.2,161.7L453.8,160.3L459.9,163.3L453.1,164.1L454.0,162.9L403.1,154.0ZM416.7,153.0L468.1,161.8L467.7,160.4L473.7,163.4L467.0,164.2L467.9,163.0L416.5,154.3ZM430.1,153.3L481.4,161.8L481.0,160.4L487.0,163.4L480.3,164.3L481.2,163.1L429.9,154.5ZM443.5,153.6L494.7,161.9L494.3,160.5L500.4,163.5L493.7,164.3L494.5,163.2L443.3,154.8ZM456.8,153.9L508.1,162.0L507.7,160.6L513.8,163.5L507.1,164.4L507.9,163.3L456.6,155.2ZM470.2,154.2L521.5,162.1L521.1,160.7L527.2,163.6L520.5,164.6L521.3,163.4L470.0,155.5ZM483.6,154.6L534.9,162.3L534.4,160.9L540.6,163.8L533.9,164.7L534.7,163.5L483.4,155.9ZM496.9,155.0L548.3,162.4L547.8,161.0L554.0,163.9L547.3,164.9L548.1,163.7L496.7,156.3ZM510.3,155.4L561.7,162.6L561.2,161.3L567.4,164.1L560.7,165.1L561.5,163.9L510.1,156.7ZM41.6,142.9L84.7,142.0L84.0,140.7L90.6,142.5L84.1,144.6L84.7,143.3L41.6,144.2ZM55.0,142.5L98.1,143.8L97.5,142.5L103.9,144.6L97.3,146.4L98.0,145.1L55.0,143.8ZM68.4,142.1L111.5,143.7L110.9,142.4L117.4,144.5L110.8,146.3L111.5,145.0L68.4,143.4ZM81.8,141.7L124.9,143.6L124.3,142.3L130.7,144.5L124.1,146.2L124.8,144.9L81.7,143.0ZM95.2,141.4L138.2,143.5L137.6,142.2L144.0,144.4L137.4,146.1L138.1,144.8L95.1,142.7ZM108.6,141.1L151.5,143.4L150.9,142.1L157.3,144.4L150.7,146.0L151.5,144.7L108.5,142.4ZM122.0,140.8L165.0,143.4L164.5,142.1L170.8,144.4L164.2,146.0L165.0,144.7L121.9,142.1ZM135.4,140.5L178.8,143.9L178.2,142.5L184.5,145.0L177.9,146.4L178.7,145.2L135.3,141.8ZM148.8,140.3L192.6,145.0L192.1,143.7L198.4,146.3L191.7,147.6L192.5,146.3L148.7,141.6ZM162.2,140.1L206.6,146.3L206.1,144.9L212.3,147.7L205.6,148.8L206.4,147.6L162.1,141.4ZM175.7,139.9L220.4,147.6L220.0,146.2L226.1,149.2L219.4,150.0L220.2,148.8L175.4,141.2ZM189.1,139.7L234.0,148.5L233.6,147.1L239.6,150.2L232.8,150.9L233.7,149.7L188.8,141.0ZM202.5,139.6L247.2,149.3L246.8,147.9L252.8,151.2L246.0,151.7L246.9,150.6L202.2,140.9ZM215.9,139.5L260.7,150.3L260.4,148.9L266.2,152.3L259.5,152.7L260.4,151.6L215.6,140.7ZM229.3,139.4L274.3,150.6L274.0,149.2L279.8,152.6L273.0,153.0L274.0,151.9L229.0,140.6ZM242.7,139.3L288.0,150.6L287.7,149.2L293.5,152.6L286.7,153.0L287.7,151.9L242.4,140.6ZM256.1,139.3L301.8,150.6L301.4,149.2L307.3,152.7L300.5,153.0L301.4,151.9L255.8,140.5ZM269.5,139.2L315.5,150.7L315.2,149.3L321.0,152.8L314.3,153.1L315.2,152.0L269.2,140.5ZM282.9,139.2L329.3,150.8L329.0,149.4L334.9,152.9L328.1,153.2L329.0,152.1L282.6,140.5ZM296.3,139.3L343.2,150.9L342.8,149.5L348.7,153.0L341.9,153.3L342.8,152.2L296.0,140.5ZM309.8,139.3L357.0,151.1L356.7,149.7L362.5,153.1L355.7,153.5L356.7,152.4L309.4,140.6ZM323.2,139.4L370.9,150.8L370.6,149.4L376.4,152.8L369.7,153.2L370.6,152.1L322.9,140.7ZM336.6,139.5L384.9,150.6L384.5,149.2L390.4,152.5L383.7,153.0L384.6,151.9L336.3,140.8ZM350.0,139.6L398.9,150.4L398.5,149.0L404.4,152.3L397.7,152.8L398.6,151.7L349.7,140.9ZM363.3,139.8L412.9,150.2L412.5,148.7L418.5,152.0L411.7,152.6L412.6,151.4L363.1,141.0ZM376.7,139.9L426.9,149.8L426.5,148.4L432.5,151.6L425.7,152.3L426.6,151.1L376.5,141.2ZM390.1,140.1L440.9,149.6L440.5,148.2L446.5,151.3L439.8,152.0L440.6,150.8L389.9,141.4ZM403.5,140.4L454.9,149.4L454.5,148.0L460.6,151.0L453.8,151.8L454.7,150.7L403.3,141.7ZM416.9,140.6L468.9,149.5L468.5,148.1L474.5,151.1L467.8,151.9L468.7,150.8L416.7,141.9ZM430.3,140.9L482.3,149.5L481.9,148.2L488.0,151.2L481.3,152.0L482.1,150.8L430.1,142.2ZM443.7,141.2L495.7,149.6L495.3,148.2L501.4,151.2L494.7,152.1L495.5,150.9L443.5,142.5ZM457.1,141.5L509.1,149.7L508.7,148.3L514.8,151.3L508.1,152.2L508.9,151.0L456.9,142.8ZM470.5,141.9L522.6,149.8L522.1,148.5L528.2,151.4L521.5,152.3L522.4,151.1L470.3,143.1ZM483.9,142.2L536.0,150.0L535.5,148.6L541.6,151.5L534.9,152.5L535.8,151.3L483.7,143.5ZM497.3,142.6L549.4,150.2L548.9,148.8L555.1,151.6L548.3,152.6L549.2,151.4L497.1,143.9ZM510.7,143.0L562.8,150.4L562.3,149.0L568.5,151.8L561.8,152.9L562.6,151.7L510.5,144.3ZM41.1,130.6L84.8,129.8L84.1,128.5L90.7,130.3L84.2,132.4L84.8,131.1L41.1,131.9ZM54.5,130.1L98.2,131.4L97.6,130.1L104.1,132.2L97.5,134.0L98.2,132.7L54.5,131.4ZM68.0,129.8L111.7,131.2L111.1,129.9L117.5,132.1L111.0,133.8L111.7,132.5L67.9,131.1ZM81.4,129.4L125.3,131.1L124.7,129.8L131.1,132.0L124.5,133.7L125.2,132.4L81.3,130.7ZM94.8,129.0L138.8,131.1L138.3,129.7L144.7,132.0L138.1,133.6L138.8,132.4L94.7,130.3ZM108.2,128.7L152.5,131.0L151.9,129.7L158.3,132.0L151.7,133.6L152.4,132.3L108.2,130.0ZM121.6,128.4L166.1,131.0L165.6,129.7L171.9,132.0L165.3,133.5L166.1,132.3L121.6,129.7ZM135.1,128.2L180.0,131.4L179.4,130.1L185.8,132.5L179.1,134.0L179.9,132.7L135.0,129.5ZM148.5,127.9L193.8,132.6L193.3,131.3L199.5,133.9L192.9,135.2L193.7,133.9L148.4,129.2ZM162.0,127.7L207.5,133.9L207.0,132.5L213.2,135.3L206.5,136.4L207.3,135.2L161.8,129.0ZM175.4,127.5L221.0,135.2L220.6,133.8L226.7,136.8L220.0,137.6L220.8,136.4L175.2,128.8ZM188.9,127.4L234.5,136.1L234.1,134.7L240.1,137.9L233.4,138.5L234.2,137.4L188.6,128.6ZM202.3,127.2L247.7,137.0L247.4,135.6L253.3,138.9L246.5,139.5L247.5,138.3L202.0,128.5ZM215.7,127.1L261.2,138.1L260.9,136.7L266.7,140.1L260.0,140.4L260.9,139.3L215.4,128.4ZM229.2,127.0L274.8,138.4L274.5,137.0L280.3,140.4L273.5,140.8L274.5,139.7L228.9,128.3ZM242.6,126.9L288.5,138.4L288.2,137.0L294.0,140.4L287.3,140.8L288.2,139.7L242.3,128.2ZM256.0,126.9L302.3,138.4L302.0,137.0L307.8,140.5L301.0,140.8L302.0,139.7L255.7,128.2ZM269.5,126.9L316.1,138.5L315.7,137.1L321.6,140.5L314.8,140.9L315.7,139.8L269.2,128.1ZM282.9,126.9L329.9,138.6L329.6,137.2L335.4,140.6L328.6,141.0L329.6,139.9L282.6,128.1ZM296.3,126.9L343.7,138.7L343.4,137.3L349.2,140.8L342.5,141.1L343.4,140.0L296.0,128.2ZM309.8,127.0L357.6,138.9L357.3,137.5L363.1,140.9L356.3,141.3L357.3,140.1L309.5,128.2ZM323.2,127.0L371.5,138.6L371.2,137.2L377.1,140.6L370.3,141.0L371.2,139.9L322.9,128.3ZM336.6,127.1L385.5,138.4L385.1,137.0L391.0,140.3L384.3,140.8L385.2,139.6L336.3,128.4ZM350.0,127.3L399.5,138.1L399.1,136.7L405.1,140.0L398.3,140.5L399.2,139.4L349.8,128.5ZM363.5,127.4L413.5,137.9L413.1,136.5L419.1,139.7L412.3,140.3L413.2,139.2L363.2,128.7ZM376.9,127.6L427.6,137.6L427.2,136.2L433.2,139.4L426.4,140.0L427.3,138.9L376.6,128.9ZM390.3,127.8L441.6,137.3L441.2,135.9L447.2,139.0L440.5,139.7L441.3,138.6L390.1,129.1ZM403.7,128.0L455.6,137.1L455.2,135.7L461.3,138.8L454.5,139.6L455.4,138.4L403.5,129.3ZM417.2,128.3L469.6,137.2L469.2,135.8L475.3,138.8L468.5,139.7L469.4,138.5L416.9,129.5ZM430.6,128.5L483.3,137.3L482.9,135.9L488.9,138.9L482.2,139.8L483.1,138.6L430.4,129.8ZM444.0,128.8L496.7,137.4L496.3,136.0L502.4,139.0L495.7,139.8L496.5,138.7L443.8,130.1ZM457.4,129.2L510.2,137.5L509.7,136.1L515.8,139.0L509.1,139.9L509.9,138.8L457.2,130.4ZM470.8,129.5L523.6,137.6L523.1,136.2L529.3,139.1L522.5,140.1L523.4,138.9L470.6,130.8ZM484.3,129.9L537.0,137.7L536.6,136.4L542.7,139.2L536.0,140.2L536.8,139.0L484.1,131.2ZM497.7,130.3L550.4,137.9L550.0,136.5L556.1,139.4L549.4,140.4L550.3,139.2L497.5,131.6ZM511.1,130.7L563.9,138.1L563.4,136.7L569.6,139.6L562.9,140.6L563.7,139.4L510.9,132.0ZM40.6,118.2L84.8,114.4L84.0,113.1L90.7,114.5L84.4,117.0L84.9,115.7L40.7,119.5ZM54.1,117.8L98.3,119.0L97.7,117.6L104.2,119.8L97.6,121.5L98.3,120.3L54.0,119.1ZM67.5,117.4L111.8,118.8L111.2,117.5L117.7,119.6L111.1,121.4L111.8,120.1L67.5,118.7ZM81.0,117.0L125.6,118.7L125.0,117.4L131.4,119.6L124.9,121.3L125.5,120.0L80.9,118.3ZM94.4,116.7L139.5,118.6L138.9,117.3L145.3,119.5L138.7,121.2L139.4,119.9L94.3,118.0ZM107.9,116.4L153.3,118.6L152.7,117.3L159.1,119.5L152.5,121.1L153.3,119.9L107.8,117.7ZM121.3,116.1L166.9,118.6L166.4,117.2L172.8,119.5L166.2,121.1L166.9,119.8L121.2,117.4ZM134.8,115.8L180.7,119.0L180.1,117.6L186.5,120.0L179.8,121.5L180.6,120.3L134.7,117.1ZM148.2,115.6L194.3,120.2L193.8,118.8L200.1,121.4L193.4,122.7L194.2,121.5L148.1,116.9ZM161.7,115.4L207.9,121.4L207.4,120.1L213.6,122.9L206.9,123.9L207.7,122.7L161.5,116.7ZM175.2,115.2L221.5,122.7L221.0,121.4L227.1,124.3L220.4,125.2L221.2,124.0L175.0,116.5ZM188.6,115.0L235.0,123.8L234.6,122.4L240.6,125.5L233.9,126.2L234.8,125.0L188.4,116.3ZM202.1,114.9L248.3,124.8L247.9,123.4L253.8,126.6L247.1,127.2L248.0,126.0L201.8,116.2ZM215.6,114.8L261.7,125.9L261.3,124.4L267.2,127.8L260.4,128.2L261.4,127.1L215.3,116.0ZM229.0,114.7L275.3,126.2L275.0,124.8L280.8,128.3L274.1,128.6L275.0,127.5L228.7,115.9ZM242.5,114.6L289.1,126.2L288.7,124.8L294.6,128.3L287.8,128.6L288.7,127.5L242.2,115.9ZM256.0,114.6L302.8,126.2L302.5,124.8L308.3,128.3L301.6,128.6L302.5,127.5L255.6,115.8ZM269.4,114.5L316.6,126.3L316.3,124.9L322.1,128.4L315.4,128.7L316.3,127.6L269.1,115.8ZM282.9,114.5L330.4,126.4L330.1,125.0L336.0,128.5L329.2,128.8L330.1,127.7L282.6,115.8ZM296.3,114.6L344.3,126.5L344.0,125.1L349.8,128.6L343.1,128.9L344.0,127.8L296.0,115.8ZM309.8,114.6L358.2,126.7L357.9,125.3L363.7,128.7L356.9,129.1L357.9,128.0L309.5,115.9ZM323.2,114.7L372.2,126.4L371.8,125.0L377.7,128.4L370.9,128.8L371.9,127.7L322.9,116.0ZM336.7,114.8L386.1,126.2L385.8,124.8L391.7,128.1L384.9,128.6L385.8,127.4L336.4,116.1ZM350.1,114.9L400.1,125.9L399.8,124.5L405.7,127.8L398.9,128.3L399.8,127.2L349.9,116.2ZM363.6,115.1L414.2,125.7L413.8,124.3L419.8,127.5L413.0,128.1L413.9,126.9L363.3,116.3ZM377.0,115.3L428.2,125.3L427.8,123.9L433.8,127.1L427.1,127.8L428.0,126.6L376.8,116.5ZM390.5,115.5L442.3,125.0L441.9,123.6L448.0,126.7L441.2,127.5L442.1,126.3L390.2,116.7ZM403.9,115.7L456.3,124.9L455.9,123.5L462.0,126.5L455.2,127.3L456.1,126.1L403.7,117.0ZM417.4,115.9L470.1,124.9L469.7,123.5L475.8,126.5L469.0,127.4L469.9,126.2L417.2,117.2ZM430.8,116.2L483.6,125.0L483.2,123.6L489.2,126.6L482.5,127.4L483.4,126.3L430.6,117.5ZM444.3,116.5L497.1,125.0L496.6,123.7L502.7,126.6L496.0,127.5L496.9,126.3L444.1,117.8ZM457.7,116.8L510.6,125.1L510.1,123.8L516.2,126.7L509.5,127.6L510.3,126.4L457.5,118.1ZM471.2,117.2L524.0,125.3L523.6,123.9L529.7,126.8L523.0,127.7L523.8,126.5L471.0,118.5ZM484.6,117.5L537.5,125.4L537.1,124.0L543.2,126.9L536.5,127.9L537.3,126.7L484.4,118.8ZM498.0,117.9L551.0,125.6L550.5,124.2L556.7,127.1L550.0,128.1L550.8,126.9L497.9,119.2ZM511.5,118.4L564.5,125.8L564.0,124.4L570.2,127.3L563.4,128.3L564.3,127.1L511.3,119.6ZM40.1,105.9L85.5,104.3L84.8,103.0L91.3,104.8L84.9,106.9L85.5,105.6L40.1,107.2ZM53.6,105.5L98.6,106.5L98.0,105.2L104.4,107.3L97.9,109.1L98.6,107.8L53.6,106.8ZM67.1,105.1L112.0,106.4L111.4,105.1L117.9,107.2L111.3,109.0L112.0,107.7L67.0,106.4ZM80.5,104.7L125.8,106.3L125.2,105.0L131.6,107.1L125.1,108.9L125.8,107.6L80.5,106.0ZM94.0,104.4L139.6,106.2L139.0,104.9L145.5,107.1L138.9,108.8L139.6,107.5L94.0,105.7ZM107.5,104.1L153.2,106.1L152.6,104.8L159.0,107.0L152.4,108.7L153.1,107.4L107.4,105.4ZM121.0,103.8L166.6,106.1L166.1,104.7L172.5,107.0L165.9,108.6L166.6,107.4L120.9,105.1ZM134.4,103.5L180.6,106.5L180.0,105.1L186.4,107.5L179.8,109.0L180.5,107.8L134.4,104.8ZM147.9,103.3L194.7,107.7L194.2,106.4L200.5,108.9L193.8,110.3L194.6,109.0L147.8,104.6ZM161.4,103.1L208.3,109.0L207.8,107.6L214.0,110.4L207.3,111.5L208.1,110.3L161.3,104.3ZM174.9,102.9L221.9,110.3L221.5,108.9L227.6,111.9L220.9,112.8L221.7,111.6L174.7,104.1ZM188.4,102.7L235.5,111.4L235.1,110.0L241.1,113.1L234.4,113.9L235.3,112.7L188.2,104.0ZM201.9,102.6L248.8,112.5L248.4,111.1L254.4,114.4L247.6,114.9L248.5,113.8L201.7,103.8ZM215.4,102.4L262.2,113.7L261.9,112.2L267.7,115.6L260.9,116.0L261.9,114.9L215.1,103.7ZM228.9,102.3L275.8,114.1L275.5,112.6L281.4,116.1L274.6,116.4L275.5,115.3L228.6,103.6ZM242.4,102.3L289.6,114.0L289.3,112.6L295.1,116.1L288.3,116.4L289.3,115.3L242.1,103.5ZM255.9,102.2L303.4,114.1L303.0,112.7L308.9,116.1L302.1,116.4L303.0,115.3L255.6,103.5ZM269.3,102.2L317.2,114.1L316.9,112.7L322.7,116.2L315.9,116.5L316.9,115.4L269.0,103.5ZM282.8,102.2L331.0,114.2L330.7,112.8L336.5,116.3L329.8,116.6L330.7,115.5L282.5,103.5ZM296.3,102.2L344.9,114.4L344.6,112.9L350.4,116.4L343.6,116.7L344.6,115.6L296.0,103.5ZM309.8,102.3L358.8,114.5L358.5,113.1L364.3,116.6L357.5,116.9L358.5,115.8L309.5,103.6ZM323.3,102.4L372.8,114.2L372.5,112.8L378.3,116.2L371.5,116.6L372.5,115.5L323.0,103.6ZM336.7,102.5L386.8,114.0L386.4,112.6L392.3,115.9L385.6,116.4L386.5,115.2L336.5,103.7ZM350.2,102.6L400.8,113.7L400.4,112.3L406.4,115.6L399.6,116.1L400.5,115.0L349.9,103.9ZM363.7,102.7L414.8,113.5L414.5,112.0L420.4,115.3L413.7,115.9L414.6,114.7L363.4,104.0ZM377.2,102.9L428.9,113.1L428.5,111.7L434.5,114.9L427.8,115.5L428.7,114.4L376.9,104.2ZM390.6,103.1L443.0,112.8L442.6,111.4L448.6,114.5L441.9,115.2L442.8,114.1L390.4,104.4ZM404.1,103.3L456.8,112.6L456.4,111.2L462.5,114.2L455.7,115.0L456.6,113.8L403.9,104.6ZM417.6,103.6L470.3,112.6L469.9,111.2L476.0,114.2L469.2,115.0L470.1,113.9L417.4,104.9ZM431.1,103.9L483.8,112.6L483.4,111.3L489.5,114.2L482.8,115.1L483.6,113.9L430.9,105.2ZM444.5,104.2L497.3,112.7L496.9,111.3L503.0,114.3L496.3,115.2L497.1,114.0L444.3,105.5ZM458.0,104.5L510.8,112.8L510.4,111.4L516.5,114.4L509.8,115.3L510.6,114.1L457.8,105.8ZM471.5,104.8L524.4,112.9L523.9,111.5L530.0,114.5L523.3,115.4L524.2,114.2L471.3,106.1ZM484.9,105.2L537.9,113.1L537.4,111.7L543.5,114.6L536.8,115.6L537.7,114.4L484.8,106.5ZM498.4,105.6L551.4,113.2L550.9,111.9L557.1,114.7L550.3,115.7L551.2,114.5L498.2,106.9ZM511.9,106.0L564.8,113.5L564.4,112.1L570.6,114.9L563.8,116.0L564.7,114.8L511.7,107.3Z"/>
<path d="M158.7,132.5L188.5,119.4L434.4,240.0L435.0,354.7L422.3,354.7L409.6,357.2L401.9,361.0L403.2,368.7L400.7,376.3L395.6,381.4L394.3,387.8L387.9,391.6L385.4,396.7L387.9,401.8L385.4,406.8L379.0,411.9L377.8,419.6L379.7,424.8L382.1,428.7L379.0,434.3L372.6,437.5L369.4,442.3L368.6,446.2L371.8,450.2L378.2,449.4L380.5,447.8L386.1,451.0L386.9,455.8L385.3,458.2L387.7,464.5L388.5,469.3L391.7,468.5L392.5,474.1L390.9,480.4L393.3,484.4L398.0,487.6L402.0,489.2L403.6,493.9L402.0,499.5L400.4,503.5L394.1,502.7L387.7,501.9L379.7,503.5L369.4,505.9L366.2,509.8L364.6,513.8L365.4,518.6L363.8,523.3L359.1,525.7L355.9,529.7L351.1,532.9L346.4,537.6L341.3,543.4L336.8,547.9L330.2,552.3L325.7,556.8L319.0,559.0L310.1,559.0L296.8,562.3L281.2,563.4L276.7,566.8L284.5,572.3L277.9,581.2L267.8,590.1L255.8,592.3L251.2,593.2L239.8,594.5L233.4,596.4L227.7,598.9L223.3,602.7L216.9,605.3L213.3,607.2L210.3,603.7L208.0,601.5L206.7,597.9L204.2,598.9L199.1,602.1L187.6,607.2L182.3,609.3L174.5,607.9L176.8,601.2L172.3,592.3L173.4,584.6L165.6,580.1L161.2,574.5L151.2,567.9L141.1,560.1L138.9,554.5L131.1,546.7L128.9,541.2L133.4,533.4L142.3,532.3L150.0,534.5L157.8,532.3L166.7,530.0L175.6,531.5L171.2,527.9L165.6,519.0L161.1,507.9L158.9,496.8L160.0,485.6L162.3,474.5L160.0,465.6L155.6,463.4L153.4,454.5L147.8,447.8L143.9,440.8L131.5,437.0L124.8,429.4L117.2,418.9L113.4,407.4L111.5,394.1L119.1,393.1L118.1,390.3L121.0,385.5L125.6,375.5L140.7,356.8L158.5,337.8L173.8,320.0L177.0,270.0L178.0,255.5L181.2,230.6L188.5,215.0L175.4,196.3L177.0,194.2L165.6,180.7L163.5,172.4L158.7,132.5M173.8,320.0L205.6,261.5L273.8,261.5L277.0,265.3L296.9,264.9L296.9,225.1L327.1,224.5L341.4,195.6M287.4,265.3L305.6,285.4L327.9,285.4L326.9,300.0L324.3,325.4L330.7,343.2L334.5,357.2L332.5,359.8M384.0,215.3L384.1,325.4L380.3,333.1L375.2,338.2L373.9,348.3M173.8,320.0L201.8,335.2L224.7,347.9L245.8,357.7L249.6,361.5L255.3,366.3L264.9,368.7L274.4,368.2L282.1,364.4L286.8,358.6L288.7,351.0L289.7,346.2L292.6,344.3L294.5,347.2L297.3,351.9L305.0,353.9L313.4,355.5L328.2,359.8L334.5,359.8L344.7,354.7L358.7,350.9L373.9,348.3L381.6,350.9L391.8,356.0L399.4,361.0L401.9,361.0M224.7,347.9L211.9,367.0L202.1,376.0L195.4,386.5L191.6,396.0L184.0,402.7L177.3,409.4L176.3,417.9M119.1,393.1L126.7,395.0L133.4,399.8L141.0,406.5L146.8,414.1L150.6,419.8L161.1,418.5L171.6,417.9L173.5,421.8L172.5,426.5L175.4,432.3L173.5,438.0L169.7,443.7L163.0,439.9L155.3,439.9L143.9,440.8M171.6,417.9L184.9,417.9L186.8,430.3L188.7,438.0L203.0,438.0L217.9,436.7L223.9,436.9M175.4,432.3L180.2,434.2L184.9,435.1L187.4,433.5M249.6,361.5L245.8,383.4L241.0,406.3L239.1,416.8L228.6,419.7L226.7,433.0L223.9,436.9L221.2,442.2L225.7,450.0L231.3,461.2L237.9,467.8L236.8,474.5L239.0,480.1L230.1,485.6L229.0,496.8L230.1,514.6L235.7,519.0L237.9,530.2L241.3,540.0L244.6,548.9L255.8,557.8L252.4,565.6L253.5,576.8L255.8,592.3M237.9,467.8L244.6,458.9L258.0,453.4L266.9,450.0L285.6,448.9L303.4,441.1L314.5,440.0L323.4,438.9M313.4,355.5L313.4,409.4L316.7,413.2L320.5,420.8L321.8,437.4L323.4,438.9L334.5,440.0L341.2,447.8L350.1,450.0L359.1,446.2L363.8,444.6L368.6,446.2M313.4,409.4L318.0,401.8L328.2,396.7L337.1,399.2L343.4,404.3L353.6,406.8L363.8,405.6L373.9,409.4L379.0,411.9M314.5,440.0L317.9,446.7L314.5,454.5L311.2,462.3L308.9,471.2L300.0,467.8L292.3,469.0L287.8,477.9L283.4,482.3L277.8,481.2L276.7,487.9L283.4,492.3L294.5,496.8L302.3,502.3L303.4,512.4L301.2,517.9L300.0,525.7L303.4,536.8L308.9,552.4L310.5,559.0M308.9,471.2L317.9,469.6L330.1,473.4L345.7,483.4L359.0,482.3L372.4,480.1L378.2,482.0L382.1,490.0L387.7,501.9M230.1,514.6L237.9,516.8L251.3,519.0L260.2,521.2L266.0,526.0L271.2,533.4L274.5,535.6L277.9,532.3L285.6,531.2L290.1,524.5L296.8,517.8L301.8,515.6M160.0,465.6L164.5,463.4L171.2,460.0L173.4,463.4L184.5,460.0L200.1,460.0L209.0,464.5L213.4,474.5L222.4,481.2L230.1,485.6M157.2,465.0L158.0,469.5L161.5,470.5L163.2,467.0L160.0,465.6M158.9,496.8L168.9,495.7L173.4,501.2L180.1,506.8L191.2,510.1L194.5,519.0L196.8,526.7L206.8,525.6L210.1,531.1L217.9,533.4L229.0,536.7L235.7,541.2L241.3,540.0M196.8,526.7L193.4,534.5L186.8,541.2L181.2,542.3L177.9,548.9L171.2,556.7L170.1,563.4L167.8,570.1L166.7,579.0L165.6,580.1M150.0,534.5L151.2,541.2L158.9,544.5L162.3,551.2L171.2,556.7M170.1,562.3L186.8,561.2L195.7,557.8L200.1,556.7L202.4,562.3L205.7,564.5L203.5,569.0L195.7,573.4L186.8,576.8L181.2,582.3L173.4,584.6M202.4,561.5L213.5,560.1L223.8,559.0M235.7,541.2L227.9,545.6L226.8,553.4L223.5,557.8L224.6,563.4L222.4,574.5L224.6,581.2L223.5,590.1L227.9,597.9" fill="none" stroke="#000" stroke-width="1.3" stroke-linejoin="round" stroke-linecap="round"/>
<g>
<circle cx="507.5" cy="637.8" r="25.9" fill="#fff" opacity="0.55"/>
<defs><clipPath id="lg"><circle cx="507.5" cy="637.8" r="24.7"/></clipPath></defs>
<circle cx="507.5" cy="637.8" r="24.7" fill="#2B63AA"/>
<g clip-path="url(#lg)">
<polygon points="478.9,648.1 480.0,628.6 484.6,620.6 490.3,617.2 498.3,613.7 506.3,616.0 511.5,620.0 520.1,619.7 525.8,622.3 529.8,629.2 526.9,634.3 523.5,638.3 520.6,643.5 522.4,653.8 515.5,657.2 500.6,653.8 485.7,649.2" fill="#1B3B77"/>
<polygon points="482.9,645.2 491.5,640.3 502.0,636.9 508.6,639.5 513.8,644.4 521.2,651.5 525.8,657.2 517.8,664.1 500.6,664.1 485.7,654.9" fill="#4E8DCC"/>
<polygon points="489.2,653.8 498.3,650.9 505.2,649.0 510.3,651.3 517.8,654.0 525.8,653.8 526.9,659.5 517.8,664.1 500.6,664.1 491.5,659.5" fill="#2E68B0"/>
<polyline points="483.9,644.2 489.2,641.4 494.9,639.1 502.0,636.6" fill="none" stroke="#fff" stroke-width="1.1"/>
<polyline points="493.2,652.4 499.5,650.6 505.2,648.8 510.3,651.1 517.8,653.8 522.4,653.6" fill="none" stroke="#DCEBFA" stroke-width="0.9"/>
<polyline points="490.3,627.0 491.7,626.6 492.6,622.9 493.7,631.1 494.9,620.8 496.3,633.4 497.5,620.4 499.0,633.0 500.2,622.7 501.2,628.8 502.1,626.8 520.1,627.0" fill="none" stroke="#9CC3EA" stroke-width="0.7"/>
<polygon points="524.9,628.6 526.7,633.4 531.8,634.3 528.3,637.2 529.2,642.6 525.8,639.5 523.7,648.1 522.4,640.1 518.4,644.4 522.1,636.9 524.1,633.9" fill="#F4F8FD"/>
</g>
<g font-size="5.2" fill="#4577BC"><text x="0" y="0" text-anchor="middle" transform="translate(491.58,613.08) rotate(-32.8)">M</text><text x="0" y="0" text-anchor="middle" transform="translate(495.02,611.18) rotate(-25.1)">u</text><text x="0" y="0" text-anchor="middle" transform="translate(497.18,610.27) rotate(-20.5)">l</text><text x="0" y="0" text-anchor="middle" transform="translate(498.71,609.74) rotate(-17.4)">t</text><text x="0" y="0" text-anchor="middle" transform="translate(500.27,609.30) rotate(-14.2)">i</text><text x="0" y="0" text-anchor="middle" transform="translate(501.99,608.92) rotate(-10.8)">-</text><text x="0" y="0" text-anchor="middle" transform="translate(505.03,608.50) rotate(-4.8)">H</text><text x="0" y="0" text-anchor="middle" transform="translate(508.67,608.42) rotate(2.3)">a</text><text x="0" y="0" text-anchor="middle" transform="translate(511.72,608.70) rotate(8.2)">z</text><text x="0" y="0" text-anchor="middle" transform="translate(514.72,609.30) rotate(14.2)">a</text><text x="0" y="0" text-anchor="middle" transform="translate(517.24,610.06) rotate(19.4)">r</text><text x="0" y="0" text-anchor="middle" transform="translate(519.68,611.04) rotate(24.5)">d</text><text x="0" y="0" text-anchor="middle" transform="translate(524.25,613.64) rotate(34.7)">E</text><text x="0" y="0" text-anchor="middle" transform="translate(527.01,615.80) rotate(41.6)">a</text><text x="0" y="0" text-anchor="middle" transform="translate(528.89,617.63) rotate(46.7)">r</text><text x="0" y="0" text-anchor="middle" transform="translate(530.06,618.95) rotate(50.1)">l</text><text x="0" y="0" text-anchor="middle" transform="translate(531.41,620.69) rotate(54.4)">y</text><text x="0" y="0" text-anchor="middle" transform="translate(534.31,625.74) rotate(65.8)">W</text><text x="0" y="0" text-anchor="middle" transform="translate(535.76,629.70) rotate(74.0)">a</text><text x="0" y="0" text-anchor="middle" transform="translate(536.37,632.26) rotate(79.1)">r</text><text x="0" y="0" text-anchor="middle" transform="translate(536.75,634.87) rotate(84.3)">n</text><text x="0" y="0" text-anchor="middle" transform="translate(536.89,637.20) rotate(88.8)">i</text><text x="0" y="0" text-anchor="middle" transform="translate(536.85,639.55) rotate(93.4)">n</text><text x="0" y="0" text-anchor="middle" transform="translate(536.48,642.74) rotate(99.7)">g</text><text x="0" y="0" text-anchor="middle" transform="translate(535.14,647.82) rotate(109.9)">S</text><text x="0" y="0" text-anchor="middle" transform="translate(533.82,650.90) rotate(116.5)">y</text><text x="0" y="0" text-anchor="middle" transform="translate(532.39,653.45) rotate(122.2)">s</text><text x="0" y="0" text-anchor="middle" transform="translate(531.07,655.38) rotate(126.7)">t</text><text x="0" y="0" text-anchor="middle" transform="translate(529.50,657.31) rotate(131.6)">e</text><text x="0" y="0" text-anchor="middle" transform="translate(526.70,660.07) rotate(139.2)">m</text></g>
<text x="491.8" y="669.4" font-size="10.6" font-weight="bold" fill="#1B3A75" textLength="33" lengthAdjust="spacingAndGlyphs">RIMES</text>
</g>
<rect x="10.5" y="77.5" width="542" height="607" fill="none" stroke="#000" stroke-width="1.1"/>
<rect x="565.5" y="111.50" width="27.0" height="67.88" fill="#A91601"/>
<rect x="565.5" y="178.88" width="27.0" height="67.88" fill="#EB500E"/>
<rect x="565.5" y="246.25" width="27.0" height="67.88" fill="#FDAC34"/>
<rect x="565.5" y="313.62" width="27.0" height="67.88" fill="#CDEC34"/>
<rect x="565.5" y="381.00" width="27.0" height="67.88" fill="#6DFE62"/>
<rect x="565.5" y="448.38" width="27.0" height="67.88" fill="#18DDC2"/>
<rect x="565.5" y="515.75" width="27.0" height="67.88" fill="#4294FF"/>
<rect x="565.5" y="583.12" width="27.0" height="67.88" fill="#4040A2"/>
<rect x="565.5" y="111.5" width="27.0" height="539.0" fill="none" stroke="#000" stroke-width="1.1"/>
<line x1="592.5" y1="111.50" x2="597.4" y2="111.50" stroke="#000" stroke-width="1.1"/>
<text x="603.2" y="117.1" font-size="14.6" text-anchor="start" textLength="17.0" lengthAdjust="spacingAndGlyphs" >40</text>
<line x1="592.5" y1="178.88" x2="597.4" y2="178.88" stroke="#000" stroke-width="1.1"/>
<text x="603.2" y="184.47" font-size="14.6" text-anchor="start" textLength="17.0" lengthAdjust="spacingAndGlyphs" >35</text>
<line x1="592.5" y1="246.25" x2="597.4" y2="246.25" stroke="#000" stroke-width="1.1"/>
<text x="603.2" y="251.85" font-size="14.6" text-anchor="start" textLength="17.0" lengthAdjust="spacingAndGlyphs" >30</text>
<line x1="592.5" y1="313.62" x2="597.4" y2="313.62" stroke="#000" stroke-width="1.1"/>
<text x="603.2" y="319.23" font-size="14.6" text-anchor="start" textLength="17.0" lengthAdjust="spacingAndGlyphs" >25</text>
<line x1="592.5" y1="381.00" x2="597.4" y2="381.00" stroke="#000" stroke-width="1.1"/>
<text x="603.2" y="386.6" font-size="14.6" text-anchor="start" textLength="17.0" lengthAdjust="spacingAndGlyphs" >20</text>
<line x1="592.5" y1="448.38" x2="597.4" y2="448.38" stroke="#000" stroke-width="1.1"/>
<text x="603.2" y="453.98" font-size="14.6" text-anchor="start" textLength="17.0" lengthAdjust="spacingAndGlyphs" >15</text>
<line x1="592.5" y1="515.75" x2="597.4" y2="515.75" stroke="#000" stroke-width="1.1"/>
<text x="603.2" y="521.35" font-size="14.6" text-anchor="start" textLength="17.0" lengthAdjust="spacingAndGlyphs" >10</text>
<line x1="592.5" y1="583.12" x2="597.4" y2="583.12" stroke="#000" stroke-width="1.1"/>
<text x="603.2" y="588.73" font-size="14.6" text-anchor="start" textLength="8.5" lengthAdjust="spacingAndGlyphs" >5</text>
<line x1="592.5" y1="650.50" x2="597.4" y2="650.50" stroke="#000" stroke-width="1.1"/>
<text x="603.2" y="656.1" font-size="14.6" text-anchor="start" textLength="8.5" lengthAdjust="spacingAndGlyphs" >0</text>
<text x="281.1" y="25.4" font-size="20.4" text-anchor="middle" textLength="323.0" lengthAdjust="spacingAndGlyphs" >Chad Wind Flow at 200 hPa (m/s)</text>
<text x="281.1" y="46.9" font-size="20.4" text-anchor="middle" textLength="317.9" lengthAdjust="spacingAndGlyphs" >2025-12-09 06:00 @ UTC+00:00</text>
<text x="281.1" y="68.7" font-size="20.4" text-anchor="middle" textLength="311.2" lengthAdjust="spacingAndGlyphs" >2025-12-09 07:00 @ Local Time</text>
<text x="16.0" y="756.0" font-size="14.6" text-anchor="start" textLength="529.4" lengthAdjust="spacingAndGlyphs" >WRF model data processed and visualized by the RIMES R&amp;D Team. © 2025</text>
</svg>
</body></html>
